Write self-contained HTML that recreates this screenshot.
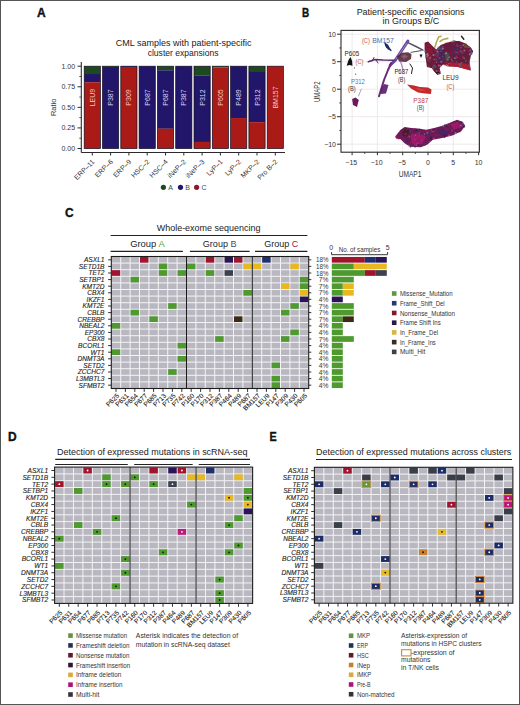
<!DOCTYPE html><html><head><meta charset="utf-8"><style>html,body{margin:0;padding:0;background:#fff;}svg{display:block;font-family:"Liberation Sans",sans-serif;}</style></head><body><svg width="520" height="705" viewBox="0 0 520 705"><rect x="0" y="0" width="520" height="705" fill="#fff"/><text x="37.00" y="16.90" font-size="12" fill="#111" font-weight="bold" stroke="#111" stroke-width="0.35">A</text>
<text x="302.00" y="16.80" font-size="12" fill="#111" font-weight="bold" textLength="7.20" lengthAdjust="spacingAndGlyphs" stroke="#111" stroke-width="0.35">B</text>
<text x="65.00" y="216.50" font-size="12" fill="#111" font-weight="bold" stroke="#111" stroke-width="0.35">C</text>
<text x="8.00" y="440.50" font-size="12" fill="#111" font-weight="bold" stroke="#111" stroke-width="0.35">D</text>
<text x="269.60" y="440.70" font-size="12" fill="#111" font-weight="bold" textLength="7.20" lengthAdjust="spacingAndGlyphs" stroke="#111" stroke-width="0.35">E</text>
<text x="115.80" y="45.80" font-size="9" fill="#222" textLength="135.60" lengthAdjust="spacingAndGlyphs">CML samples with patient-specific</text>
<text x="147.70" y="55.60" font-size="9" fill="#222" textLength="70.80" lengthAdjust="spacingAndGlyphs">cluster expansions</text>
<line x1="81.30" y1="62.00" x2="81.30" y2="152.50" stroke="#2b2b2b" stroke-width="1.1"/>
<line x1="81.30" y1="152.50" x2="285.00" y2="152.50" stroke="#2b2b2b" stroke-width="1.1"/>
<line x1="77.50" y1="148.50" x2="81.30" y2="148.50" stroke="#2b2b2b" stroke-width="1"/>
<text x="75.10" y="150.90" font-size="7" fill="#333" text-anchor="end">0.00</text>
<line x1="77.50" y1="127.92" x2="81.30" y2="127.92" stroke="#2b2b2b" stroke-width="1"/>
<text x="75.10" y="130.32" font-size="7" fill="#333" text-anchor="end">0.25</text>
<line x1="77.50" y1="107.35" x2="81.30" y2="107.35" stroke="#2b2b2b" stroke-width="1"/>
<text x="75.10" y="109.75" font-size="7" fill="#333" text-anchor="end">0.50</text>
<line x1="77.50" y1="86.78" x2="81.30" y2="86.78" stroke="#2b2b2b" stroke-width="1"/>
<text x="75.10" y="89.18" font-size="7" fill="#333" text-anchor="end">0.75</text>
<line x1="77.50" y1="66.20" x2="81.30" y2="66.20" stroke="#2b2b2b" stroke-width="1"/>
<text x="75.10" y="68.60" font-size="7" fill="#333" text-anchor="end">1.00</text>
<line x1="79.30" y1="138.21" x2="81.30" y2="138.21" stroke="#2b2b2b" stroke-width="0.8"/>
<line x1="79.30" y1="117.64" x2="81.30" y2="117.64" stroke="#2b2b2b" stroke-width="0.8"/>
<line x1="79.30" y1="97.06" x2="81.30" y2="97.06" stroke="#2b2b2b" stroke-width="0.8"/>
<line x1="79.30" y1="76.49" x2="81.30" y2="76.49" stroke="#2b2b2b" stroke-width="0.8"/>
<text x="55.80" y="107.30" font-size="7.5" fill="#333" text-anchor="middle" transform="rotate(-90 55.80 107.30)">Ratio</text>
<rect x="84.20" y="66.20" width="16.20" height="7.87" fill="#1e4a20"/>
<rect x="84.20" y="74.02" width="16.20" height="8.28" fill="#21166a"/>
<rect x="84.20" y="82.25" width="16.20" height="66.30" fill="#aa1a17"/>
<rect x="84.20" y="66.20" width="16.20" height="82.30" fill="none" stroke="#140c20" stroke-width="0.7"/>
<text x="94.80" y="97.50" font-size="7" fill="#f3c9c9" text-anchor="middle" transform="rotate(-90 94.80 97.50)">LEU9</text>
<line x1="92.30" y1="152.50" x2="92.30" y2="155.50" stroke="#2b2b2b" stroke-width="1"/>
<text x="95.10" y="162.30" font-size="7" fill="#333" text-anchor="end" transform="rotate(-45 95.10 162.30)">ERP–11</text>
<rect x="102.50" y="66.20" width="16.20" height="0.87" fill="#1e4a20"/>
<rect x="102.50" y="67.02" width="16.20" height="81.53" fill="#21166a"/>
<rect x="102.50" y="66.20" width="16.20" height="82.30" fill="none" stroke="#140c20" stroke-width="0.7"/>
<text x="113.10" y="97.50" font-size="7" fill="#d8d6f0" text-anchor="middle" transform="rotate(-90 113.10 97.50)">P387</text>
<line x1="110.60" y1="152.50" x2="110.60" y2="155.50" stroke="#2b2b2b" stroke-width="1"/>
<text x="113.40" y="162.30" font-size="7" fill="#333" text-anchor="end" transform="rotate(-45 113.40 162.30)">ERP–6</text>
<rect x="120.80" y="66.20" width="16.20" height="0.87" fill="#21166a"/>
<rect x="120.80" y="67.02" width="16.20" height="81.53" fill="#aa1a17"/>
<rect x="120.80" y="66.20" width="16.20" height="82.30" fill="none" stroke="#140c20" stroke-width="0.7"/>
<text x="131.40" y="97.50" font-size="7" fill="#f3c9c9" text-anchor="middle" transform="rotate(-90 131.40 97.50)">P309</text>
<line x1="128.90" y1="152.50" x2="128.90" y2="155.50" stroke="#2b2b2b" stroke-width="1"/>
<text x="131.70" y="162.30" font-size="7" fill="#333" text-anchor="end" transform="rotate(-45 131.70 162.30)">ERP–9</text>
<rect x="139.10" y="66.20" width="16.20" height="82.35" fill="#21166a"/>
<rect x="139.10" y="66.20" width="16.20" height="82.30" fill="none" stroke="#140c20" stroke-width="0.7"/>
<text x="149.70" y="97.50" font-size="7" fill="#d8d6f0" text-anchor="middle" transform="rotate(-90 149.70 97.50)">P687</text>
<line x1="147.20" y1="152.50" x2="147.20" y2="155.50" stroke="#2b2b2b" stroke-width="1"/>
<text x="150.00" y="162.30" font-size="7" fill="#333" text-anchor="end" transform="rotate(-45 150.00 162.30)">HSC–2</text>
<rect x="157.40" y="66.20" width="16.20" height="4.17" fill="#1e4a20"/>
<rect x="157.40" y="70.31" width="16.20" height="58.48" fill="#21166a"/>
<rect x="157.40" y="128.75" width="16.20" height="19.80" fill="#aa1a17"/>
<rect x="157.40" y="66.20" width="16.20" height="82.30" fill="none" stroke="#140c20" stroke-width="0.7"/>
<text x="168.00" y="97.50" font-size="7" fill="#d8d6f0" text-anchor="middle" transform="rotate(-90 168.00 97.50)">P687</text>
<line x1="165.50" y1="152.50" x2="165.50" y2="155.50" stroke="#2b2b2b" stroke-width="1"/>
<text x="168.30" y="162.30" font-size="7" fill="#333" text-anchor="end" transform="rotate(-45 168.30 162.30)">HSC–4</text>
<rect x="175.70" y="66.20" width="16.20" height="82.35" fill="#21166a"/>
<rect x="175.70" y="66.20" width="16.20" height="82.30" fill="none" stroke="#140c20" stroke-width="0.7"/>
<text x="186.30" y="97.50" font-size="7" fill="#d8d6f0" text-anchor="middle" transform="rotate(-90 186.30 97.50)">P387</text>
<line x1="183.80" y1="152.50" x2="183.80" y2="155.50" stroke="#2b2b2b" stroke-width="1"/>
<text x="186.60" y="162.30" font-size="7" fill="#333" text-anchor="end" transform="rotate(-45 186.60 162.30)">iNeP–2</text>
<rect x="194.00" y="66.20" width="16.20" height="9.51" fill="#1e4a20"/>
<rect x="194.00" y="75.66" width="16.20" height="66.30" fill="#21166a"/>
<rect x="194.00" y="141.92" width="16.20" height="6.63" fill="#aa1a17"/>
<rect x="194.00" y="66.20" width="16.20" height="82.30" fill="none" stroke="#140c20" stroke-width="0.7"/>
<text x="204.60" y="97.50" font-size="7" fill="#d8d6f0" text-anchor="middle" transform="rotate(-90 204.60 97.50)">P312</text>
<line x1="202.10" y1="152.50" x2="202.10" y2="155.50" stroke="#2b2b2b" stroke-width="1"/>
<text x="204.90" y="162.30" font-size="7" fill="#333" text-anchor="end" transform="rotate(-45 204.90 162.30)">iNeP–3</text>
<rect x="212.30" y="66.20" width="16.20" height="1.28" fill="#1e4a20"/>
<rect x="212.30" y="67.43" width="16.20" height="81.12" fill="#aa1a17"/>
<rect x="212.30" y="66.20" width="16.20" height="82.30" fill="none" stroke="#140c20" stroke-width="0.7"/>
<text x="222.90" y="97.50" font-size="7" fill="#f3c9c9" text-anchor="middle" transform="rotate(-90 222.90 97.50)">P605</text>
<line x1="220.40" y1="152.50" x2="220.40" y2="155.50" stroke="#2b2b2b" stroke-width="1"/>
<text x="223.20" y="162.30" font-size="7" fill="#333" text-anchor="end" transform="rotate(-45 223.20 162.30)">LyP–1</text>
<rect x="230.60" y="66.20" width="16.20" height="51.90" fill="#21166a"/>
<rect x="230.60" y="118.05" width="16.20" height="30.50" fill="#aa1a17"/>
<rect x="230.60" y="66.20" width="16.20" height="82.30" fill="none" stroke="#140c20" stroke-width="0.7"/>
<text x="241.20" y="97.50" font-size="7" fill="#d8d6f0" text-anchor="middle" transform="rotate(-90 241.20 97.50)">P489</text>
<line x1="238.70" y1="152.50" x2="238.70" y2="155.50" stroke="#2b2b2b" stroke-width="1"/>
<text x="241.50" y="162.30" font-size="7" fill="#333" text-anchor="end" transform="rotate(-45 241.50 162.30)">LyP–2</text>
<rect x="248.90" y="66.20" width="16.20" height="5.81" fill="#1e4a20"/>
<rect x="248.90" y="71.96" width="16.20" height="50.25" fill="#21166a"/>
<rect x="248.90" y="122.16" width="16.20" height="26.39" fill="#aa1a17"/>
<rect x="248.90" y="66.20" width="16.20" height="82.30" fill="none" stroke="#140c20" stroke-width="0.7"/>
<text x="259.50" y="97.50" font-size="7" fill="#d8d6f0" text-anchor="middle" transform="rotate(-90 259.50 97.50)">P312</text>
<line x1="257.00" y1="152.50" x2="257.00" y2="155.50" stroke="#2b2b2b" stroke-width="1"/>
<text x="259.80" y="162.30" font-size="7" fill="#333" text-anchor="end" transform="rotate(-45 259.80 162.30)">MKP–2</text>
<rect x="267.20" y="66.20" width="16.20" height="82.35" fill="#aa1a17"/>
<rect x="267.20" y="66.20" width="16.20" height="82.30" fill="none" stroke="#140c20" stroke-width="0.7"/>
<text x="277.80" y="97.50" font-size="7" fill="#f3c9c9" text-anchor="middle" transform="rotate(-90 277.80 97.50)">BM157</text>
<line x1="275.30" y1="152.50" x2="275.30" y2="155.50" stroke="#2b2b2b" stroke-width="1"/>
<text x="278.10" y="162.30" font-size="7" fill="#333" text-anchor="end" transform="rotate(-45 278.10 162.30)">Pro B–2</text>
<circle cx="163.4" cy="187.3" r="2.6" fill="#1e4a20"/>
<text x="168.20" y="190.00" font-size="7" fill="#444">A</text>
<circle cx="180.5" cy="187.3" r="2.6" fill="#21166a"/>
<text x="185.30" y="190.00" font-size="7" fill="#444">B</text>
<circle cx="196.6" cy="187.3" r="2.6" fill="#8b1a2a"/>
<text x="201.40" y="190.00" font-size="7" fill="#444">C</text>
<text x="356.70" y="14.80" font-size="9" fill="#222" textLength="107.80" lengthAdjust="spacingAndGlyphs">Patient-specific expansions</text>
<text x="382.60" y="24.30" font-size="9" fill="#222" textLength="56.60" lengthAdjust="spacingAndGlyphs">in Groups B/C</text>
<line x1="352.10" y1="30.40" x2="352.10" y2="152.20" stroke="#ebe3e7" stroke-width="0.8"/>
<line x1="377.40" y1="30.40" x2="377.40" y2="152.20" stroke="#ebe3e7" stroke-width="0.8"/>
<line x1="402.70" y1="30.40" x2="402.70" y2="152.20" stroke="#ebe3e7" stroke-width="0.8"/>
<line x1="428.00" y1="30.40" x2="428.00" y2="152.20" stroke="#ebe3e7" stroke-width="0.8"/>
<line x1="453.30" y1="30.40" x2="453.30" y2="152.20" stroke="#ebe3e7" stroke-width="0.8"/>
<line x1="478.60" y1="30.40" x2="478.60" y2="152.20" stroke="#ebe3e7" stroke-width="0.8"/>
<line x1="341.00" y1="144.20" x2="479.40" y2="144.20" stroke="#ebe3e7" stroke-width="0.8"/>
<line x1="341.00" y1="116.70" x2="479.40" y2="116.70" stroke="#ebe3e7" stroke-width="0.8"/>
<line x1="341.00" y1="89.20" x2="479.40" y2="89.20" stroke="#ebe3e7" stroke-width="0.8"/>
<line x1="341.00" y1="61.70" x2="479.40" y2="61.70" stroke="#ebe3e7" stroke-width="0.8"/>
<line x1="341.00" y1="34.20" x2="479.40" y2="34.20" stroke="#ebe3e7" stroke-width="0.8"/>
<path d="M424.6,42.7 L428.1,41.5 L431.5,45.0 L436.1,49.6 L440.8,45.0 L446.5,42.7 L453.4,41.0 L459.2,41.0 L465.0,43.3 L470.7,47.3 L473.0,51.3 L470.7,56.5 L469.6,62.3 L470.7,70.4 L466.1,69.2 L458.1,66.9 L448.8,66.3 L443.1,64.6 L439.6,68.1 L440.8,73.8 L437.3,75.0 L431.5,68.1 L426.9,66.9 L425.8,58.8 L424.6,49.6 Z" fill="#6a1a3a" fill-opacity="1"/>
<path d="M443.1,64.6 L448.8,66.3 L458.1,66.9 L466.1,69.2 L470.7,70.4 L469.8,64.0 L460.0,63.0 L450.0,62.5 Z" fill="#b81e34" fill-opacity="0.85"/>
<path d="M436.0,52.0 L442.0,49.0 L446.0,53.0 L446.0,61.0 L440.0,63.0 L436.0,59.0 Z" fill="#3c2a66" fill-opacity="0.6"/>
<path d="M445.4,52.0 L448.8,53.0 L448.8,60.0 L445.4,59.0 Z" fill="#3a7a4a" fill-opacity="0.6"/>
<path d="M452.0,48.0 L460.0,47.0 L462.0,54.0 L456.0,58.0 L450.0,55.0 Z" fill="#4a2a6a" fill-opacity="0.45"/>
<path d="M463.8,43.8 L468.4,46.0 L468.0,48.5 L464.0,47.5 Z" fill="#3a7a3c" fill-opacity="0.7"/>
<path d="M470.7,49.6 L473.0,50.5 L472.5,53.0 L470.5,52.5 Z" fill="#5a4aa0" fill-opacity="0.8"/>
<path d="M425.5,45.0 L430.0,44.0 L433.0,52.0 L431.0,62.0 L427.0,62.0 Z" fill="#9a1830" fill-opacity="0.7"/>
<path d="M437.0,70.0 L440.5,73.0 L437.5,74.5 L433.0,70.0 Z" fill="#3a1010" fill-opacity="0.8"/>
<circle cx="435.9" cy="59.6" r="1.1" fill="#7a3a7a" fill-opacity="0.7"/>
<circle cx="447.7" cy="60.9" r="1.1" fill="#4a2a70" fill-opacity="0.7"/>
<circle cx="447.5" cy="59.8" r="1.2" fill="#5a8a5a" fill-opacity="0.7"/>
<circle cx="447.8" cy="63.0" r="0.7" fill="#2a2a3a" fill-opacity="0.7"/>
<circle cx="462.9" cy="45.7" r="0.7" fill="#4a2a70" fill-opacity="0.7"/>
<circle cx="447.6" cy="65.9" r="1.0" fill="#9a9ab4" fill-opacity="0.7"/>
<circle cx="470.1" cy="54.2" r="1.2" fill="#a08aa8" fill-opacity="0.7"/>
<circle cx="430.7" cy="53.2" r="0.6" fill="#4a2a70" fill-opacity="0.7"/>
<circle cx="445.8" cy="62.6" r="0.8" fill="#c02040" fill-opacity="0.7"/>
<circle cx="465.7" cy="60.7" r="0.9" fill="#4a6a8a" fill-opacity="0.7"/>
<circle cx="457.6" cy="45.9" r="1.2" fill="#7a3a7a" fill-opacity="0.7"/>
<circle cx="469.2" cy="60.5" r="0.9" fill="#5a8a5a" fill-opacity="0.7"/>
<circle cx="430.2" cy="57.4" r="0.6" fill="#a08aa8" fill-opacity="0.7"/>
<circle cx="464.0" cy="54.8" r="0.5" fill="#2a2a3a" fill-opacity="0.7"/>
<circle cx="445.4" cy="54.9" r="0.5" fill="#9a1a3a" fill-opacity="0.7"/>
<circle cx="454.7" cy="41.6" r="0.9" fill="#7a3a7a" fill-opacity="0.7"/>
<circle cx="470.1" cy="50.0" r="1.2" fill="#5a8a5a" fill-opacity="0.7"/>
<circle cx="454.0" cy="41.1" r="1.2" fill="#5a8a5a" fill-opacity="0.7"/>
<circle cx="438.6" cy="49.5" r="1.2" fill="#4a2a70" fill-opacity="0.7"/>
<circle cx="441.0" cy="53.0" r="1.1" fill="#2a2a3a" fill-opacity="0.7"/>
<circle cx="442.9" cy="56.6" r="0.8" fill="#4a6a8a" fill-opacity="0.7"/>
<circle cx="467.3" cy="64.5" r="0.9" fill="#9a1a3a" fill-opacity="0.7"/>
<circle cx="435.9" cy="50.8" r="0.9" fill="#c02040" fill-opacity="0.7"/>
<circle cx="444.8" cy="60.9" r="0.8" fill="#4a2a70" fill-opacity="0.7"/>
<circle cx="453.5" cy="44.8" r="0.8" fill="#7a3a7a" fill-opacity="0.7"/>
<circle cx="458.0" cy="52.7" r="1.0" fill="#c02040" fill-opacity="0.7"/>
<circle cx="436.6" cy="56.4" r="0.6" fill="#7a3a7a" fill-opacity="0.7"/>
<circle cx="433.3" cy="67.3" r="0.7" fill="#c02040" fill-opacity="0.7"/>
<circle cx="460.8" cy="51.2" r="1.0" fill="#5a8a5a" fill-opacity="0.7"/>
<circle cx="437.5" cy="51.8" r="1.0" fill="#9a9ab4" fill-opacity="0.7"/>
<circle cx="428.9" cy="61.6" r="1.0" fill="#7a3a7a" fill-opacity="0.7"/>
<circle cx="435.2" cy="69.2" r="0.6" fill="#2a2a3a" fill-opacity="0.7"/>
<circle cx="461.1" cy="47.8" r="0.7" fill="#a08aa8" fill-opacity="0.7"/>
<circle cx="471.9" cy="51.3" r="1.1" fill="#2a2a3a" fill-opacity="0.7"/>
<circle cx="428.3" cy="62.3" r="0.8" fill="#2a2a3a" fill-opacity="0.7"/>
<circle cx="447.2" cy="62.8" r="0.8" fill="#c02040" fill-opacity="0.7"/>
<circle cx="435.1" cy="66.8" r="1.2" fill="#4a6a8a" fill-opacity="0.7"/>
<circle cx="464.1" cy="58.4" r="1.1" fill="#5a8a5a" fill-opacity="0.7"/>
<circle cx="469.0" cy="60.8" r="0.8" fill="#4a2a70" fill-opacity="0.7"/>
<circle cx="430.0" cy="58.1" r="1.0" fill="#5a8a5a" fill-opacity="0.7"/>
<circle cx="450.2" cy="54.9" r="0.7" fill="#9a1a3a" fill-opacity="0.7"/>
<circle cx="436.6" cy="71.0" r="1.1" fill="#a08aa8" fill-opacity="0.7"/>
<circle cx="427.1" cy="47.9" r="0.9" fill="#9a1a3a" fill-opacity="0.7"/>
<circle cx="464.8" cy="46.2" r="1.1" fill="#c02040" fill-opacity="0.7"/>
<circle cx="437.6" cy="49.7" r="0.9" fill="#4a6a8a" fill-opacity="0.7"/>
<circle cx="426.5" cy="51.6" r="1.1" fill="#4a2a70" fill-opacity="0.7"/>
<circle cx="426.5" cy="57.4" r="1.1" fill="#4a2a70" fill-opacity="0.7"/>
<circle cx="428.3" cy="58.1" r="0.6" fill="#7a3a7a" fill-opacity="0.7"/>
<circle cx="427.6" cy="53.9" r="0.9" fill="#9a9ab4" fill-opacity="0.7"/>
<circle cx="442.0" cy="46.9" r="0.8" fill="#7a3a7a" fill-opacity="0.7"/>
<circle cx="452.3" cy="41.5" r="0.9" fill="#a08aa8" fill-opacity="0.7"/>
<circle cx="463.1" cy="53.7" r="0.9" fill="#4a2a70" fill-opacity="0.7"/>
<circle cx="445.6" cy="53.4" r="1.0" fill="#a08aa8" fill-opacity="0.7"/>
<circle cx="434.9" cy="49.7" r="1.1" fill="#9a1a3a" fill-opacity="0.7"/>
<circle cx="425.4" cy="51.7" r="1.1" fill="#4a6a8a" fill-opacity="0.7"/>
<circle cx="437.1" cy="56.7" r="1.2" fill="#9a1a3a" fill-opacity="0.7"/>
<circle cx="450.5" cy="53.6" r="1.0" fill="#9a1a3a" fill-opacity="0.7"/>
<circle cx="452.2" cy="43.7" r="0.8" fill="#4a2a70" fill-opacity="0.7"/>
<circle cx="435.8" cy="54.0" r="0.6" fill="#4a6a8a" fill-opacity="0.7"/>
<circle cx="466.1" cy="44.4" r="1.0" fill="#9a1a3a" fill-opacity="0.7"/>
<circle cx="449.6" cy="65.7" r="0.9" fill="#9a1a3a" fill-opacity="0.7"/>
<circle cx="429.0" cy="59.9" r="0.7" fill="#4a6a8a" fill-opacity="0.7"/>
<circle cx="436.5" cy="62.2" r="0.7" fill="#9a9ab4" fill-opacity="0.7"/>
<circle cx="442.8" cy="48.5" r="1.1" fill="#9a9ab4" fill-opacity="0.7"/>
<circle cx="452.4" cy="60.9" r="1.0" fill="#4a6a8a" fill-opacity="0.7"/>
<circle cx="431.8" cy="54.4" r="0.6" fill="#2a2a3a" fill-opacity="0.7"/>
<circle cx="448.9" cy="57.4" r="1.2" fill="#4a6a8a" fill-opacity="0.7"/>
<circle cx="430.8" cy="67.1" r="0.9" fill="#2a2a3a" fill-opacity="0.7"/>
<circle cx="439.7" cy="48.4" r="1.2" fill="#4a6a8a" fill-opacity="0.7"/>
<circle cx="438.8" cy="65.4" r="0.9" fill="#9a9ab4" fill-opacity="0.7"/>
<circle cx="468.5" cy="51.1" r="0.8" fill="#c02040" fill-opacity="0.7"/>
<circle cx="443.1" cy="46.2" r="0.7" fill="#7a3a7a" fill-opacity="0.7"/>
<circle cx="444.9" cy="65.1" r="0.8" fill="#5a8a5a" fill-opacity="0.7"/>
<circle cx="451.9" cy="57.3" r="1.1" fill="#9a1a3a" fill-opacity="0.7"/>
<circle cx="459.9" cy="64.3" r="1.1" fill="#5a8a5a" fill-opacity="0.7"/>
<circle cx="469.0" cy="49.2" r="0.7" fill="#4a2a70" fill-opacity="0.7"/>
<circle cx="428.3" cy="43.3" r="0.5" fill="#c02040" fill-opacity="0.7"/>
<circle cx="440.6" cy="53.7" r="0.6" fill="#9a1a3a" fill-opacity="0.7"/>
<circle cx="443.5" cy="59.6" r="1.1" fill="#9a1a3a" fill-opacity="0.7"/>
<circle cx="427.8" cy="55.6" r="1.1" fill="#a08aa8" fill-opacity="0.7"/>
<circle cx="471.1" cy="53.5" r="1.0" fill="#7a3a7a" fill-opacity="0.7"/>
<circle cx="438.8" cy="64.3" r="0.6" fill="#c02040" fill-opacity="0.7"/>
<circle cx="471.2" cy="52.2" r="0.9" fill="#4a6a8a" fill-opacity="0.7"/>
<circle cx="457.3" cy="58.3" r="1.0" fill="#4a2a70" fill-opacity="0.7"/>
<circle cx="457.9" cy="60.4" r="1.0" fill="#2a2a3a" fill-opacity="0.7"/>
<circle cx="460.5" cy="45.4" r="1.1" fill="#7a3a7a" fill-opacity="0.7"/>
<circle cx="456.8" cy="44.4" r="0.6" fill="#4a6a8a" fill-opacity="0.7"/>
<circle cx="440.6" cy="65.9" r="0.9" fill="#9a9ab4" fill-opacity="0.7"/>
<circle cx="456.4" cy="56.5" r="1.0" fill="#c02040" fill-opacity="0.7"/>
<circle cx="459.3" cy="43.9" r="1.0" fill="#2a2a3a" fill-opacity="0.7"/>
<circle cx="442.0" cy="49.6" r="0.5" fill="#9a9ab4" fill-opacity="0.7"/>
<circle cx="430.8" cy="57.2" r="0.7" fill="#c02040" fill-opacity="0.7"/>
<circle cx="462.4" cy="52.7" r="1.2" fill="#7a3a7a" fill-opacity="0.7"/>
<circle cx="427.5" cy="57.9" r="0.6" fill="#9a1a3a" fill-opacity="0.7"/>
<circle cx="453.5" cy="64.5" r="0.6" fill="#9a1a3a" fill-opacity="0.7"/>
<circle cx="433.5" cy="55.0" r="1.1" fill="#9a9ab4" fill-opacity="0.7"/>
<circle cx="461.4" cy="61.3" r="1.1" fill="#2a2a3a" fill-opacity="0.7"/>
<circle cx="463.9" cy="59.6" r="0.9" fill="#2a2a3a" fill-opacity="0.7"/>
<circle cx="434.1" cy="49.0" r="0.5" fill="#c02040" fill-opacity="0.7"/>
<circle cx="471.5" cy="53.8" r="1.1" fill="#4a6a8a" fill-opacity="0.7"/>
<circle cx="439.5" cy="57.9" r="1.0" fill="#4a6a8a" fill-opacity="0.7"/>
<circle cx="439.0" cy="71.0" r="0.5" fill="#a08aa8" fill-opacity="0.7"/>
<circle cx="433.5" cy="62.8" r="1.0" fill="#9a1a3a" fill-opacity="0.7"/>
<circle cx="457.1" cy="57.7" r="0.9" fill="#4a6a8a" fill-opacity="0.7"/>
<circle cx="433.9" cy="68.2" r="0.5" fill="#5a8a5a" fill-opacity="0.7"/>
<circle cx="449.0" cy="63.3" r="0.6" fill="#a08aa8" fill-opacity="0.7"/>
<circle cx="438.2" cy="63.7" r="0.6" fill="#2a2a3a" fill-opacity="0.7"/>
<circle cx="463.6" cy="62.4" r="0.5" fill="#4a2a70" fill-opacity="0.7"/>
<circle cx="454.9" cy="58.2" r="0.9" fill="#a08aa8" fill-opacity="0.7"/>
<circle cx="470.5" cy="51.6" r="1.0" fill="#7a3a7a" fill-opacity="0.7"/>
<circle cx="459.8" cy="66.6" r="1.2" fill="#7a3a7a" fill-opacity="0.7"/>
<circle cx="434.0" cy="65.2" r="0.8" fill="#5a8a5a" fill-opacity="0.7"/>
<circle cx="427.9" cy="47.2" r="0.8" fill="#2a2a3a" fill-opacity="0.7"/>
<circle cx="447.7" cy="42.4" r="0.6" fill="#9a9ab4" fill-opacity="0.7"/>
<circle cx="446.9" cy="64.9" r="0.6" fill="#a08aa8" fill-opacity="0.7"/>
<circle cx="469.0" cy="65.9" r="1.1" fill="#7a3a7a" fill-opacity="0.7"/>
<circle cx="446.4" cy="53.0" r="0.7" fill="#9a9ab4" fill-opacity="0.7"/>
<circle cx="463.2" cy="45.2" r="0.9" fill="#a08aa8" fill-opacity="0.7"/>
<circle cx="453.2" cy="58.1" r="0.6" fill="#4a2a70" fill-opacity="0.7"/>
<circle cx="454.4" cy="55.9" r="0.5" fill="#2a2a3a" fill-opacity="0.7"/>
<circle cx="426.6" cy="54.5" r="0.8" fill="#9a9ab4" fill-opacity="0.7"/>
<circle cx="436.1" cy="54.0" r="0.6" fill="#5a8a5a" fill-opacity="0.7"/>
<circle cx="455.1" cy="52.5" r="0.9" fill="#9a1a3a" fill-opacity="0.7"/>
<circle cx="464.4" cy="50.5" r="1.1" fill="#a08aa8" fill-opacity="0.7"/>
<circle cx="445.8" cy="43.2" r="0.6" fill="#4a2a70" fill-opacity="0.7"/>
<circle cx="449.2" cy="57.3" r="1.0" fill="#5a8a5a" fill-opacity="0.7"/>
<circle cx="469.0" cy="47.2" r="0.7" fill="#a08aa8" fill-opacity="0.7"/>
<circle cx="447.9" cy="52.7" r="0.8" fill="#4a2a70" fill-opacity="0.7"/>
<circle cx="461.6" cy="62.7" r="0.6" fill="#9a9ab4" fill-opacity="0.7"/>
<circle cx="438.7" cy="70.6" r="0.9" fill="#9a1a3a" fill-opacity="0.7"/>
<circle cx="451.4" cy="59.3" r="0.6" fill="#9a9ab4" fill-opacity="0.7"/>
<circle cx="461.0" cy="66.4" r="0.8" fill="#4a6a8a" fill-opacity="0.7"/>
<circle cx="433.2" cy="68.9" r="0.7" fill="#a08aa8" fill-opacity="0.7"/>
<circle cx="463.0" cy="57.3" r="1.1" fill="#c02040" fill-opacity="0.7"/>
<circle cx="469.8" cy="65.1" r="0.5" fill="#a08aa8" fill-opacity="0.7"/>
<circle cx="432.6" cy="67.1" r="0.6" fill="#a08aa8" fill-opacity="0.7"/>
<circle cx="458.6" cy="63.8" r="0.7" fill="#7a3a7a" fill-opacity="0.7"/>
<circle cx="466.2" cy="63.1" r="0.8" fill="#4a2a70" fill-opacity="0.7"/>
<circle cx="468.8" cy="66.4" r="1.2" fill="#7a3a7a" fill-opacity="0.7"/>
<circle cx="440.9" cy="51.2" r="0.6" fill="#a08aa8" fill-opacity="0.7"/>
<circle cx="456.5" cy="48.7" r="1.2" fill="#4a2a70" fill-opacity="0.7"/>
<circle cx="438.4" cy="47.5" r="0.9" fill="#4a6a8a" fill-opacity="0.7"/>
<circle cx="439.9" cy="71.8" r="0.8" fill="#5a8a5a" fill-opacity="0.7"/>
<circle cx="455.1" cy="41.5" r="0.9" fill="#9a1a3a" fill-opacity="0.7"/>
<circle cx="471.2" cy="49.2" r="0.8" fill="#9a1a3a" fill-opacity="0.7"/>
<circle cx="435.1" cy="69.9" r="0.9" fill="#9a1a3a" fill-opacity="0.7"/>
<circle cx="441.3" cy="61.7" r="1.0" fill="#a08aa8" fill-opacity="0.7"/>
<circle cx="438.6" cy="74.0" r="1.1" fill="#a08aa8" fill-opacity="0.7"/>
<circle cx="434.3" cy="59.4" r="0.7" fill="#a08aa8" fill-opacity="0.7"/>
<circle cx="456.1" cy="52.3" r="0.8" fill="#5a8a5a" fill-opacity="0.7"/>
<circle cx="427.6" cy="59.9" r="0.8" fill="#7a3a7a" fill-opacity="0.7"/>
<circle cx="456.4" cy="61.8" r="0.7" fill="#5a8a5a" fill-opacity="0.7"/>
<circle cx="435.8" cy="55.8" r="0.7" fill="#c02040" fill-opacity="0.7"/>
<circle cx="470.0" cy="50.5" r="0.6" fill="#4a2a70" fill-opacity="0.7"/>
<circle cx="428.8" cy="66.0" r="0.9" fill="#c02040" fill-opacity="0.7"/>
<circle cx="427.1" cy="57.0" r="1.0" fill="#5a8a5a" fill-opacity="0.7"/>
<circle cx="437.8" cy="55.6" r="0.8" fill="#7a3a7a" fill-opacity="0.7"/>
<circle cx="433.8" cy="68.2" r="0.6" fill="#2a2a3a" fill-opacity="0.7"/>
<circle cx="439.0" cy="54.8" r="0.6" fill="#9a1a3a" fill-opacity="0.7"/>
<circle cx="438.2" cy="53.5" r="1.2" fill="#7a3a7a" fill-opacity="0.7"/>
<path d="M434.8,47.3 L436.5,42.0 L438.7,36.7 L441.1,36.3" fill="none" stroke="#b4aa52" stroke-width="1.6" stroke-opacity="1" stroke-linecap="round" stroke-linejoin="round"/>
<path d="M440.0,41.5 L443.0,39.5 L447.8,38.4" fill="none" stroke="#b4aa52" stroke-width="1.6" stroke-opacity="1" stroke-linecap="round" stroke-linejoin="round"/>
<path d="M461.5,36.3 L463.8,39.2" fill="none" stroke="#222" stroke-width="1.4" stroke-opacity="1" stroke-linecap="round" stroke-linejoin="round"/>
<path d="M407.9,41.1 L400.6,52.3 L395.4,60.1 L390.2,65.3" fill="none" stroke="#6848a0" stroke-width="3.0" stroke-opacity="1" stroke-linecap="round" stroke-linejoin="round"/>
<path d="M407.0,43.0 L400.6,52.3 L396.0,59.0" fill="none" stroke="#a890d0" stroke-width="1.0" stroke-opacity="0.8" stroke-linecap="round" stroke-linejoin="round"/>
<path d="M408.4,42.8 L416.0,46.5 L423.0,50.1" fill="none" stroke="#505060" stroke-width="1.4" stroke-opacity="1" stroke-linecap="round" stroke-linejoin="round"/>
<path d="M411.0,52.3 L416.0,51.5 L421.3,50.6" fill="none" stroke="#505060" stroke-width="1.0" stroke-opacity="1" stroke-linecap="round" stroke-linejoin="round"/>
<path d="M368.3,61.7 L375.0,59.5 L383.0,60.0 L393.8,60.3" fill="none" stroke="#5a2a6a" stroke-width="1.5" stroke-opacity="1" stroke-linecap="round" stroke-linejoin="round"/>
<path d="M372.0,61.0 L374.0,57.5" fill="none" stroke="#5a2a6a" stroke-width="1.0" stroke-opacity="1" stroke-linecap="round" stroke-linejoin="round"/>
<path d="M376.0,60.0 L378.0,63.0" fill="none" stroke="#5a2a6a" stroke-width="1.0" stroke-opacity="1" stroke-linecap="round" stroke-linejoin="round"/>
<path d="M397.0,56.5 L402.0,52.8 L408.0,52.3 L411.5,54.0 L411.0,59.0 L406.0,62.0 L399.0,61.5 Z" fill="#4e1a2c" fill-opacity="0.85"/>
<path d="M401.0,56.0 L405.0,54.5 L408.0,56.5 L404.0,59.0 Z" fill="#9a8a9a" fill-opacity="0.5"/>
<path d="M391.2,63.0 L388.0,70.0 L384.0,80.0 L379.0,96.2" fill="none" stroke="#6a2a7a" stroke-width="2.0" stroke-opacity="1" stroke-linecap="round" stroke-linejoin="round"/>
<path d="M380.4,90.0 L384.0,84.0 L388.5,85.0 L386.0,93.5 L381.0,94.0 Z" fill="#5a1a6a" fill-opacity="0.9"/>
<path d="M410.0,64.0 L412.5,68.0 L411.5,73.5" fill="none" stroke="#222" stroke-width="1.0" stroke-opacity="1" stroke-linecap="round" stroke-linejoin="round"/>
<path d="M419.5,54.5 L422.5,54.5 L421.0,58.0 Z" fill="#111" fill-opacity="1"/>
<path d="M384.4,42.8 L388.0,44.5 L391.2,50.9 L388.0,49.5 L386.0,47.5 L385.0,45.5 Z" fill="#1c2f6a" fill-opacity="1"/>
<path d="M385.0,43.0 L388.0,47.0 L391.0,50.5" fill="none" stroke="#1c2f6a" stroke-width="1.2" stroke-opacity="1" stroke-linecap="round" stroke-linejoin="round"/>
<path d="M400.0,60.0 L402.0,66.0 L403.0,70.0" fill="none" stroke="#7a3a8a" stroke-width="1.2" stroke-opacity="0.6" stroke-linecap="round" stroke-linejoin="round"/>
<path d="M346.7,65.7 L348.5,60.0 L350.5,57.0 L352.1,61.0 L352.5,65.7 L349.5,65.0 Z" fill="#111" fill-opacity="1"/>
<circle cx="354.4" cy="67.9" r="0.6" fill="#557"/><circle cx="355.6" cy="74.2" r="0.6" fill="#557"/>
<path d="M352.1,99.0 L355.5,97.5 L358.8,100.0 L357.0,106.9 L353.0,105.0 Z" fill="#6a1a5a" fill-opacity="1"/>
<path d="M361.3,89.2 L358.5,96.0" fill="none" stroke="#8a7aa0" stroke-width="0.7" stroke-opacity="1" stroke-linecap="round" stroke-linejoin="round"/>
<path d="M407.0,84.5 L414.0,85.5 L420.0,87.0 L428.0,87.5 L431.5,89.5 L431.0,94.0 L425.0,93.5 L418.0,92.5 L411.0,88.5 Z" fill="#c42a2a" fill-opacity="1"/>
<path d="M415.0,88.0 L421.0,88.5 L426.0,90.5 L420.0,91.0 Z" fill="#e05050" fill-opacity="0.6"/>
<path d="M395.2,136.5 L400.6,129.8 L404.6,127.1 L411.3,127.9 L418.1,128.5 L426.2,129.8 L434.2,127.9 L442.3,125.8 L450.4,122.5 L457.1,119.8 L462.5,121.7 L465.2,125.8 L461.2,131.2 L453.1,135.2 L442.3,137.9 L432.9,139.8 L427.5,144.6 L420.8,147.3 L410.0,146.8 L404.6,143.3 L400.6,139.2 L396.5,138.7 Z" fill="#6c1b56" fill-opacity="1"/>
<path d="M402.0,131.0 L406.0,128.0 L410.0,131.0 L407.0,137.0 L403.0,136.0 Z" fill="#4a1a1a" fill-opacity="0.8"/>
<path d="M410.0,134.0 L420.0,133.0 L426.0,137.0 L422.0,144.0 L412.0,144.0 Z" fill="#b01870" fill-opacity="0.75"/>
<path d="M436.0,131.0 L446.0,128.0 L450.0,133.0 L442.0,136.0 Z" fill="#3a2a6a" fill-opacity="0.7"/>
<path d="M450.0,124.0 L458.0,122.0 L461.0,127.0 L454.0,130.0 Z" fill="#b01870" fill-opacity="0.75"/>
<circle cx="410.8" cy="146.7" r="0.7" fill="#c02060" fill-opacity="0.7"/>
<circle cx="452.3" cy="127.6" r="1.1" fill="#5a2a7a" fill-opacity="0.7"/>
<circle cx="451.3" cy="129.3" r="1.1" fill="#3a3a4a" fill-opacity="0.7"/>
<circle cx="452.0" cy="131.1" r="0.7" fill="#c02060" fill-opacity="0.7"/>
<circle cx="449.1" cy="135.3" r="0.9" fill="#8a8ab0" fill-opacity="0.7"/>
<circle cx="454.7" cy="131.0" r="0.8" fill="#3a3a4a" fill-opacity="0.7"/>
<circle cx="396.2" cy="137.6" r="0.8" fill="#c8207a" fill-opacity="0.7"/>
<circle cx="424.4" cy="134.0" r="0.7" fill="#8a8ab0" fill-opacity="0.7"/>
<circle cx="454.1" cy="121.9" r="0.8" fill="#3a3a4a" fill-opacity="0.7"/>
<circle cx="415.1" cy="134.4" r="0.6" fill="#3a3a4a" fill-opacity="0.7"/>
<circle cx="411.4" cy="132.3" r="0.5" fill="#c02060" fill-opacity="0.7"/>
<circle cx="435.8" cy="134.9" r="0.6" fill="#c8207a" fill-opacity="0.7"/>
<circle cx="414.0" cy="131.6" r="0.7" fill="#2a2050" fill-opacity="0.7"/>
<circle cx="408.9" cy="145.7" r="0.9" fill="#8a8ab0" fill-opacity="0.7"/>
<circle cx="438.4" cy="135.1" r="0.6" fill="#b01870" fill-opacity="0.7"/>
<circle cx="415.0" cy="146.9" r="0.8" fill="#2a2050" fill-opacity="0.7"/>
<circle cx="415.5" cy="135.2" r="0.6" fill="#8a8ab0" fill-opacity="0.7"/>
<circle cx="463.0" cy="123.2" r="0.9" fill="#8a8ab0" fill-opacity="0.7"/>
<circle cx="428.2" cy="130.5" r="0.6" fill="#b01870" fill-opacity="0.7"/>
<circle cx="433.0" cy="130.1" r="0.8" fill="#2a2050" fill-opacity="0.7"/>
<circle cx="415.9" cy="130.1" r="1.1" fill="#2a2050" fill-opacity="0.7"/>
<circle cx="405.1" cy="132.9" r="0.7" fill="#2a2050" fill-opacity="0.7"/>
<circle cx="444.9" cy="128.1" r="0.9" fill="#b01870" fill-opacity="0.7"/>
<circle cx="426.4" cy="130.8" r="0.8" fill="#c02060" fill-opacity="0.7"/>
<circle cx="409.2" cy="136.2" r="0.7" fill="#8a8ab0" fill-opacity="0.7"/>
<circle cx="417.5" cy="143.4" r="0.5" fill="#8a8ab0" fill-opacity="0.7"/>
<circle cx="457.0" cy="122.3" r="0.6" fill="#b01870" fill-opacity="0.7"/>
<circle cx="403.7" cy="130.7" r="0.8" fill="#3a3a4a" fill-opacity="0.7"/>
<circle cx="433.4" cy="131.8" r="0.9" fill="#8a8ab0" fill-opacity="0.7"/>
<circle cx="410.5" cy="132.2" r="0.9" fill="#3a3a4a" fill-opacity="0.7"/>
<circle cx="419.4" cy="139.0" r="0.7" fill="#3a3a4a" fill-opacity="0.7"/>
<circle cx="464.3" cy="126.8" r="0.9" fill="#2a2050" fill-opacity="0.7"/>
<circle cx="446.7" cy="126.2" r="1.1" fill="#2a2050" fill-opacity="0.7"/>
<circle cx="427.2" cy="132.9" r="1.1" fill="#8a8ab0" fill-opacity="0.7"/>
<circle cx="432.5" cy="131.8" r="0.5" fill="#b01870" fill-opacity="0.7"/>
<circle cx="425.2" cy="143.6" r="0.5" fill="#c02060" fill-opacity="0.7"/>
<circle cx="455.7" cy="130.1" r="0.7" fill="#2a2050" fill-opacity="0.7"/>
<circle cx="410.2" cy="134.9" r="0.8" fill="#2a2050" fill-opacity="0.7"/>
<circle cx="430.9" cy="130.6" r="1.0" fill="#3a3a4a" fill-opacity="0.7"/>
<circle cx="409.8" cy="131.6" r="0.5" fill="#5a2a7a" fill-opacity="0.7"/>
<circle cx="459.8" cy="131.8" r="0.8" fill="#2a2050" fill-opacity="0.7"/>
<circle cx="460.9" cy="125.5" r="1.0" fill="#8a8ab0" fill-opacity="0.7"/>
<circle cx="454.1" cy="124.3" r="0.6" fill="#c02060" fill-opacity="0.7"/>
<circle cx="409.5" cy="137.4" r="0.8" fill="#c02060" fill-opacity="0.7"/>
<circle cx="426.4" cy="140.9" r="0.5" fill="#3a3a4a" fill-opacity="0.7"/>
<circle cx="425.0" cy="144.9" r="0.9" fill="#3a3a4a" fill-opacity="0.7"/>
<circle cx="457.6" cy="125.6" r="0.6" fill="#3a3a4a" fill-opacity="0.7"/>
<circle cx="411.5" cy="132.6" r="0.7" fill="#2a2050" fill-opacity="0.7"/>
<circle cx="416.2" cy="145.1" r="0.8" fill="#8a8ab0" fill-opacity="0.7"/>
<circle cx="420.9" cy="134.0" r="1.0" fill="#3a3a4a" fill-opacity="0.7"/>
<circle cx="447.4" cy="124.9" r="0.9" fill="#b01870" fill-opacity="0.7"/>
<circle cx="417.4" cy="140.9" r="0.8" fill="#3a3a4a" fill-opacity="0.7"/>
<circle cx="422.3" cy="143.7" r="0.6" fill="#b01870" fill-opacity="0.7"/>
<circle cx="415.2" cy="129.0" r="0.9" fill="#b01870" fill-opacity="0.7"/>
<circle cx="410.6" cy="131.8" r="0.6" fill="#8a8ab0" fill-opacity="0.7"/>
<circle cx="444.7" cy="125.2" r="0.9" fill="#3a3a4a" fill-opacity="0.7"/>
<circle cx="407.5" cy="140.8" r="0.9" fill="#2a2050" fill-opacity="0.7"/>
<circle cx="416.4" cy="129.9" r="1.0" fill="#2a2050" fill-opacity="0.7"/>
<circle cx="456.0" cy="133.2" r="0.7" fill="#8a8ab0" fill-opacity="0.7"/>
<circle cx="410.8" cy="142.7" r="0.7" fill="#c8207a" fill-opacity="0.7"/>
<circle cx="407.7" cy="139.8" r="1.0" fill="#3a3a4a" fill-opacity="0.7"/>
<circle cx="405.2" cy="128.3" r="0.8" fill="#3a3a4a" fill-opacity="0.7"/>
<circle cx="455.4" cy="132.9" r="1.0" fill="#8a8ab0" fill-opacity="0.7"/>
<circle cx="426.7" cy="133.3" r="1.0" fill="#3a3a4a" fill-opacity="0.7"/>
<circle cx="449.0" cy="135.0" r="0.9" fill="#c02060" fill-opacity="0.7"/>
<circle cx="443.1" cy="127.4" r="1.1" fill="#3a3a4a" fill-opacity="0.7"/>
<circle cx="419.9" cy="132.9" r="0.6" fill="#8a8ab0" fill-opacity="0.7"/>
<circle cx="444.5" cy="135.3" r="0.9" fill="#2a2050" fill-opacity="0.7"/>
<circle cx="433.4" cy="132.5" r="0.8" fill="#2a2050" fill-opacity="0.7"/>
<circle cx="421.0" cy="140.0" r="0.9" fill="#c8207a" fill-opacity="0.7"/>
<circle cx="406.8" cy="138.3" r="0.6" fill="#2a2050" fill-opacity="0.7"/>
<circle cx="461.8" cy="122.4" r="0.8" fill="#2a2050" fill-opacity="0.7"/>
<circle cx="463.3" cy="124.4" r="0.9" fill="#5a2a7a" fill-opacity="0.7"/>
<circle cx="419.7" cy="129.0" r="0.6" fill="#2a2050" fill-opacity="0.7"/>
<circle cx="411.0" cy="132.3" r="0.7" fill="#2a2050" fill-opacity="0.7"/>
<circle cx="449.1" cy="123.8" r="0.7" fill="#c8207a" fill-opacity="0.7"/>
<circle cx="431.1" cy="129.8" r="0.9" fill="#c8207a" fill-opacity="0.7"/>
<circle cx="430.8" cy="138.9" r="1.1" fill="#2a2050" fill-opacity="0.7"/>
<circle cx="414.3" cy="145.1" r="0.5" fill="#8a8ab0" fill-opacity="0.7"/>
<circle cx="407.1" cy="137.6" r="1.0" fill="#5a2a7a" fill-opacity="0.7"/>
<circle cx="404.3" cy="140.1" r="1.0" fill="#5a2a7a" fill-opacity="0.7"/>
<circle cx="446.6" cy="129.8" r="0.9" fill="#b01870" fill-opacity="0.7"/>
<circle cx="410.4" cy="146.7" r="0.8" fill="#2a2050" fill-opacity="0.7"/>
<circle cx="433.6" cy="138.4" r="0.7" fill="#8a8ab0" fill-opacity="0.7"/>
<circle cx="444.5" cy="137.2" r="0.9" fill="#2a2050" fill-opacity="0.7"/>
<circle cx="434.3" cy="138.2" r="0.7" fill="#c8207a" fill-opacity="0.7"/>
<circle cx="415.0" cy="139.3" r="0.5" fill="#8a8ab0" fill-opacity="0.7"/>
<circle cx="418.9" cy="140.1" r="0.6" fill="#3a3a4a" fill-opacity="0.7"/>
<circle cx="452.0" cy="130.3" r="1.1" fill="#c8207a" fill-opacity="0.7"/>
<circle cx="406.2" cy="130.4" r="0.7" fill="#2a2050" fill-opacity="0.7"/>
<circle cx="435.7" cy="134.8" r="0.7" fill="#5a2a7a" fill-opacity="0.7"/>
<circle cx="432.0" cy="131.4" r="1.0" fill="#c02060" fill-opacity="0.7"/>
<circle cx="407.6" cy="132.1" r="0.7" fill="#2a2050" fill-opacity="0.7"/>
<circle cx="405.5" cy="134.1" r="1.1" fill="#c02060" fill-opacity="0.7"/>
<circle cx="406.9" cy="129.6" r="0.6" fill="#c02060" fill-opacity="0.7"/>
<circle cx="430.5" cy="132.9" r="0.9" fill="#5a2a7a" fill-opacity="0.7"/>
<circle cx="396.6" cy="137.0" r="0.9" fill="#b01870" fill-opacity="0.7"/>
<circle cx="398.4" cy="138.6" r="1.0" fill="#c02060" fill-opacity="0.7"/>
<circle cx="429.9" cy="141.6" r="0.7" fill="#8a8ab0" fill-opacity="0.7"/>
<circle cx="435.0" cy="130.8" r="0.6" fill="#b01870" fill-opacity="0.7"/>
<circle cx="443.3" cy="125.9" r="0.9" fill="#8a8ab0" fill-opacity="0.7"/>
<circle cx="431.1" cy="137.3" r="1.1" fill="#2a2050" fill-opacity="0.7"/>
<circle cx="416.4" cy="143.8" r="0.8" fill="#b01870" fill-opacity="0.7"/>
<circle cx="420.7" cy="133.5" r="0.8" fill="#2a2050" fill-opacity="0.7"/>
<circle cx="445.5" cy="135.3" r="0.8" fill="#2a2050" fill-opacity="0.7"/>
<circle cx="419.4" cy="146.2" r="0.7" fill="#3a3a4a" fill-opacity="0.7"/>
<text x="362.00" y="42.60" font-size="7.2" fill="#c0503a" textLength="7.80" lengthAdjust="spacingAndGlyphs">(C)</text>
<text x="372.30" y="42.60" font-size="7.2" fill="#4a6aaa" textLength="21.60" lengthAdjust="spacingAndGlyphs">BM157</text>
<text x="344.60" y="56.30" font-size="7.2" fill="#222" textLength="14.50" lengthAdjust="spacingAndGlyphs">P605</text>
<text x="355.60" y="64.20" font-size="7.2" fill="#c0503a" textLength="7.80" lengthAdjust="spacingAndGlyphs">(C)</text>
<text x="351.00" y="83.60" font-size="7.2" fill="#4a7ab8" textLength="13.80" lengthAdjust="spacingAndGlyphs">P312</text>
<text x="348.00" y="90.90" font-size="7.2" fill="#333" textLength="7.60" lengthAdjust="spacingAndGlyphs">(B)</text>
<text x="394.40" y="73.60" font-size="7.2" fill="#222" textLength="13.90" lengthAdjust="spacingAndGlyphs">P687</text>
<text x="398.00" y="81.90" font-size="7.2" fill="#333" textLength="7.20" lengthAdjust="spacingAndGlyphs">(B)</text>
<text x="442.40" y="80.40" font-size="7.2" fill="#333" textLength="16.20" lengthAdjust="spacingAndGlyphs">LEU9</text>
<text x="446.50" y="88.50" font-size="7.2" fill="#c0503a" textLength="7.80" lengthAdjust="spacingAndGlyphs">(C)</text>
<text x="413.30" y="102.70" font-size="7.2" fill="#c0403a" textLength="15.10" lengthAdjust="spacingAndGlyphs">P387</text>
<text x="416.80" y="110.00" font-size="7.2" fill="#3a4a8a" textLength="7.40" lengthAdjust="spacingAndGlyphs">(B)</text>
<rect x="341" y="30.4" width="138.39999999999998" height="121.79999999999998" fill="none" stroke="#2b2b2b" stroke-width="1.1"/>
<line x1="337.00" y1="144.20" x2="341.00" y2="144.20" stroke="#2b2b2b" stroke-width="1"/>
<text x="336.00" y="146.70" font-size="7" fill="#333" text-anchor="end">−10</text>
<line x1="337.00" y1="116.70" x2="341.00" y2="116.70" stroke="#2b2b2b" stroke-width="1"/>
<text x="336.00" y="119.20" font-size="7" fill="#333" text-anchor="end">−5</text>
<line x1="337.00" y1="89.20" x2="341.00" y2="89.20" stroke="#2b2b2b" stroke-width="1"/>
<text x="336.00" y="91.70" font-size="7" fill="#333" text-anchor="end">0</text>
<line x1="337.00" y1="61.70" x2="341.00" y2="61.70" stroke="#2b2b2b" stroke-width="1"/>
<text x="336.00" y="64.20" font-size="7" fill="#333" text-anchor="end">5</text>
<line x1="337.00" y1="34.20" x2="341.00" y2="34.20" stroke="#2b2b2b" stroke-width="1"/>
<text x="336.00" y="36.70" font-size="7" fill="#333" text-anchor="end">10</text>
<line x1="352.10" y1="152.20" x2="352.10" y2="155.20" stroke="#2b2b2b" stroke-width="1"/>
<text x="351.30" y="165.00" font-size="7" fill="#333" text-anchor="middle">−15</text>
<line x1="377.40" y1="152.20" x2="377.40" y2="155.20" stroke="#2b2b2b" stroke-width="1"/>
<text x="376.60" y="165.00" font-size="7" fill="#333" text-anchor="middle">−10</text>
<line x1="402.70" y1="152.20" x2="402.70" y2="155.20" stroke="#2b2b2b" stroke-width="1"/>
<text x="401.90" y="165.00" font-size="7" fill="#333" text-anchor="middle">−5</text>
<line x1="428.00" y1="152.20" x2="428.00" y2="155.20" stroke="#2b2b2b" stroke-width="1"/>
<text x="428.00" y="165.00" font-size="7" fill="#333" text-anchor="middle">0</text>
<line x1="453.30" y1="152.20" x2="453.30" y2="155.20" stroke="#2b2b2b" stroke-width="1"/>
<text x="453.30" y="165.00" font-size="7" fill="#333" text-anchor="middle">5</text>
<line x1="478.60" y1="152.20" x2="478.60" y2="155.20" stroke="#2b2b2b" stroke-width="1"/>
<text x="478.60" y="165.00" font-size="7" fill="#333" text-anchor="middle">10</text>
<line x1="364.75" y1="152.20" x2="364.75" y2="154.00" stroke="#2b2b2b" stroke-width="0.8"/>
<line x1="390.05" y1="152.20" x2="390.05" y2="154.00" stroke="#2b2b2b" stroke-width="0.8"/>
<line x1="415.35" y1="152.20" x2="415.35" y2="154.00" stroke="#2b2b2b" stroke-width="0.8"/>
<line x1="440.65" y1="152.20" x2="440.65" y2="154.00" stroke="#2b2b2b" stroke-width="0.8"/>
<line x1="465.95" y1="152.20" x2="465.95" y2="154.00" stroke="#2b2b2b" stroke-width="0.8"/>
<line x1="339.20" y1="130.45" x2="341.00" y2="130.45" stroke="#2b2b2b" stroke-width="0.8"/>
<line x1="339.20" y1="102.95" x2="341.00" y2="102.95" stroke="#2b2b2b" stroke-width="0.8"/>
<line x1="339.20" y1="75.45" x2="341.00" y2="75.45" stroke="#2b2b2b" stroke-width="0.8"/>
<line x1="339.20" y1="47.95" x2="341.00" y2="47.95" stroke="#2b2b2b" stroke-width="0.8"/>
<text x="410.00" y="177.00" font-size="8.5" fill="#333" text-anchor="middle" textLength="22.70" lengthAdjust="spacingAndGlyphs">UMAP1</text>
<text x="320.30" y="91.70" font-size="8.5" fill="#333" text-anchor="middle" textLength="20.80" lengthAdjust="spacingAndGlyphs" transform="rotate(-90 320.30 91.70)">UMAP2</text>
<text x="156.70" y="230.90" font-size="9" fill="#222" textLength="103.80" lengthAdjust="spacingAndGlyphs">Whole-exome sequencing</text>
<line x1="110.60" y1="235.50" x2="307.40" y2="235.50" stroke="#222" stroke-width="1.2"/>
<text x="130.20" y="246.7" font-size="9" fill="#222" textLength="34.5" lengthAdjust="spacingAndGlyphs">Group <tspan fill="#5aa13a">A</tspan></text>
<line x1="110.60" y1="251.40" x2="182.90" y2="251.40" stroke="#222" stroke-width="1.2"/>
<text x="202.80" y="246.7" font-size="9" fill="#222" textLength="33.7" lengthAdjust="spacingAndGlyphs">Group <tspan fill="#3a4a8a">B</tspan></text>
<line x1="189.90" y1="251.40" x2="249.60" y2="251.40" stroke="#222" stroke-width="1.2"/>
<text x="264.20" y="246.7" font-size="9" fill="#222" textLength="34" lengthAdjust="spacingAndGlyphs">Group <tspan fill="#a0142e">C</tspan></text>
<line x1="255.00" y1="251.40" x2="307.40" y2="251.40" stroke="#222" stroke-width="1.2"/>
<rect x="111.30" y="256.50" width="197.40" height="132.00" fill="#f4f4f6"/>
<rect x="111.80" y="257.00" width="8.40" height="5.60" fill="#b9b8c1"/>
<rect x="121.20" y="257.00" width="8.40" height="5.60" fill="#b9b8c1"/>
<rect x="130.60" y="257.00" width="8.40" height="5.60" fill="#b9b8c1"/>
<rect x="140.00" y="257.00" width="8.40" height="5.60" fill="#b9b8c1"/>
<rect x="149.40" y="257.00" width="8.40" height="5.60" fill="#b9b8c1"/>
<rect x="158.80" y="257.00" width="8.40" height="5.60" fill="#b9b8c1"/>
<rect x="168.20" y="257.00" width="8.40" height="5.60" fill="#b9b8c1"/>
<rect x="177.60" y="257.00" width="8.40" height="5.60" fill="#b9b8c1"/>
<rect x="187.00" y="257.00" width="8.40" height="5.60" fill="#b9b8c1"/>
<rect x="196.40" y="257.00" width="8.40" height="5.60" fill="#b9b8c1"/>
<rect x="205.80" y="257.00" width="8.40" height="5.60" fill="#b9b8c1"/>
<rect x="215.20" y="257.00" width="8.40" height="5.60" fill="#b9b8c1"/>
<rect x="224.60" y="257.00" width="8.40" height="5.60" fill="#b9b8c1"/>
<rect x="234.00" y="257.00" width="8.40" height="5.60" fill="#b9b8c1"/>
<rect x="243.40" y="257.00" width="8.40" height="5.60" fill="#b9b8c1"/>
<rect x="252.80" y="257.00" width="8.40" height="5.60" fill="#b9b8c1"/>
<rect x="262.20" y="257.00" width="8.40" height="5.60" fill="#b9b8c1"/>
<rect x="271.60" y="257.00" width="8.40" height="5.60" fill="#b9b8c1"/>
<rect x="281.00" y="257.00" width="8.40" height="5.60" fill="#b9b8c1"/>
<rect x="290.40" y="257.00" width="8.40" height="5.60" fill="#b9b8c1"/>
<rect x="299.80" y="257.00" width="8.40" height="5.60" fill="#b9b8c1"/>
<rect x="111.80" y="263.60" width="8.40" height="5.60" fill="#b9b8c1"/>
<rect x="121.20" y="263.60" width="8.40" height="5.60" fill="#b9b8c1"/>
<rect x="130.60" y="263.60" width="8.40" height="5.60" fill="#b9b8c1"/>
<rect x="140.00" y="263.60" width="8.40" height="5.60" fill="#b9b8c1"/>
<rect x="149.40" y="263.60" width="8.40" height="5.60" fill="#b9b8c1"/>
<rect x="158.80" y="263.60" width="8.40" height="5.60" fill="#b9b8c1"/>
<rect x="168.20" y="263.60" width="8.40" height="5.60" fill="#b9b8c1"/>
<rect x="177.60" y="263.60" width="8.40" height="5.60" fill="#b9b8c1"/>
<rect x="187.00" y="263.60" width="8.40" height="5.60" fill="#b9b8c1"/>
<rect x="196.40" y="263.60" width="8.40" height="5.60" fill="#b9b8c1"/>
<rect x="205.80" y="263.60" width="8.40" height="5.60" fill="#b9b8c1"/>
<rect x="215.20" y="263.60" width="8.40" height="5.60" fill="#b9b8c1"/>
<rect x="224.60" y="263.60" width="8.40" height="5.60" fill="#b9b8c1"/>
<rect x="234.00" y="263.60" width="8.40" height="5.60" fill="#b9b8c1"/>
<rect x="243.40" y="263.60" width="8.40" height="5.60" fill="#b9b8c1"/>
<rect x="252.80" y="263.60" width="8.40" height="5.60" fill="#b9b8c1"/>
<rect x="262.20" y="263.60" width="8.40" height="5.60" fill="#b9b8c1"/>
<rect x="271.60" y="263.60" width="8.40" height="5.60" fill="#b9b8c1"/>
<rect x="281.00" y="263.60" width="8.40" height="5.60" fill="#b9b8c1"/>
<rect x="290.40" y="263.60" width="8.40" height="5.60" fill="#b9b8c1"/>
<rect x="299.80" y="263.60" width="8.40" height="5.60" fill="#b9b8c1"/>
<rect x="111.80" y="270.20" width="8.40" height="5.60" fill="#b9b8c1"/>
<rect x="121.20" y="270.20" width="8.40" height="5.60" fill="#b9b8c1"/>
<rect x="130.60" y="270.20" width="8.40" height="5.60" fill="#b9b8c1"/>
<rect x="140.00" y="270.20" width="8.40" height="5.60" fill="#b9b8c1"/>
<rect x="149.40" y="270.20" width="8.40" height="5.60" fill="#b9b8c1"/>
<rect x="158.80" y="270.20" width="8.40" height="5.60" fill="#b9b8c1"/>
<rect x="168.20" y="270.20" width="8.40" height="5.60" fill="#b9b8c1"/>
<rect x="177.60" y="270.20" width="8.40" height="5.60" fill="#b9b8c1"/>
<rect x="187.00" y="270.20" width="8.40" height="5.60" fill="#b9b8c1"/>
<rect x="196.40" y="270.20" width="8.40" height="5.60" fill="#b9b8c1"/>
<rect x="205.80" y="270.20" width="8.40" height="5.60" fill="#b9b8c1"/>
<rect x="215.20" y="270.20" width="8.40" height="5.60" fill="#b9b8c1"/>
<rect x="224.60" y="270.20" width="8.40" height="5.60" fill="#b9b8c1"/>
<rect x="234.00" y="270.20" width="8.40" height="5.60" fill="#b9b8c1"/>
<rect x="243.40" y="270.20" width="8.40" height="5.60" fill="#b9b8c1"/>
<rect x="252.80" y="270.20" width="8.40" height="5.60" fill="#b9b8c1"/>
<rect x="262.20" y="270.20" width="8.40" height="5.60" fill="#b9b8c1"/>
<rect x="271.60" y="270.20" width="8.40" height="5.60" fill="#b9b8c1"/>
<rect x="281.00" y="270.20" width="8.40" height="5.60" fill="#b9b8c1"/>
<rect x="290.40" y="270.20" width="8.40" height="5.60" fill="#b9b8c1"/>
<rect x="299.80" y="270.20" width="8.40" height="5.60" fill="#b9b8c1"/>
<rect x="111.80" y="276.80" width="8.40" height="5.60" fill="#b9b8c1"/>
<rect x="121.20" y="276.80" width="8.40" height="5.60" fill="#b9b8c1"/>
<rect x="130.60" y="276.80" width="8.40" height="5.60" fill="#b9b8c1"/>
<rect x="140.00" y="276.80" width="8.40" height="5.60" fill="#b9b8c1"/>
<rect x="149.40" y="276.80" width="8.40" height="5.60" fill="#b9b8c1"/>
<rect x="158.80" y="276.80" width="8.40" height="5.60" fill="#b9b8c1"/>
<rect x="168.20" y="276.80" width="8.40" height="5.60" fill="#b9b8c1"/>
<rect x="177.60" y="276.80" width="8.40" height="5.60" fill="#b9b8c1"/>
<rect x="187.00" y="276.80" width="8.40" height="5.60" fill="#b9b8c1"/>
<rect x="196.40" y="276.80" width="8.40" height="5.60" fill="#b9b8c1"/>
<rect x="205.80" y="276.80" width="8.40" height="5.60" fill="#b9b8c1"/>
<rect x="215.20" y="276.80" width="8.40" height="5.60" fill="#b9b8c1"/>
<rect x="224.60" y="276.80" width="8.40" height="5.60" fill="#b9b8c1"/>
<rect x="234.00" y="276.80" width="8.40" height="5.60" fill="#b9b8c1"/>
<rect x="243.40" y="276.80" width="8.40" height="5.60" fill="#b9b8c1"/>
<rect x="252.80" y="276.80" width="8.40" height="5.60" fill="#b9b8c1"/>
<rect x="262.20" y="276.80" width="8.40" height="5.60" fill="#b9b8c1"/>
<rect x="271.60" y="276.80" width="8.40" height="5.60" fill="#b9b8c1"/>
<rect x="281.00" y="276.80" width="8.40" height="5.60" fill="#b9b8c1"/>
<rect x="290.40" y="276.80" width="8.40" height="5.60" fill="#b9b8c1"/>
<rect x="299.80" y="276.80" width="8.40" height="5.60" fill="#b9b8c1"/>
<rect x="111.80" y="283.40" width="8.40" height="5.60" fill="#b9b8c1"/>
<rect x="121.20" y="283.40" width="8.40" height="5.60" fill="#b9b8c1"/>
<rect x="130.60" y="283.40" width="8.40" height="5.60" fill="#b9b8c1"/>
<rect x="140.00" y="283.40" width="8.40" height="5.60" fill="#b9b8c1"/>
<rect x="149.40" y="283.40" width="8.40" height="5.60" fill="#b9b8c1"/>
<rect x="158.80" y="283.40" width="8.40" height="5.60" fill="#b9b8c1"/>
<rect x="168.20" y="283.40" width="8.40" height="5.60" fill="#b9b8c1"/>
<rect x="177.60" y="283.40" width="8.40" height="5.60" fill="#b9b8c1"/>
<rect x="187.00" y="283.40" width="8.40" height="5.60" fill="#b9b8c1"/>
<rect x="196.40" y="283.40" width="8.40" height="5.60" fill="#b9b8c1"/>
<rect x="205.80" y="283.40" width="8.40" height="5.60" fill="#b9b8c1"/>
<rect x="215.20" y="283.40" width="8.40" height="5.60" fill="#b9b8c1"/>
<rect x="224.60" y="283.40" width="8.40" height="5.60" fill="#b9b8c1"/>
<rect x="234.00" y="283.40" width="8.40" height="5.60" fill="#b9b8c1"/>
<rect x="243.40" y="283.40" width="8.40" height="5.60" fill="#b9b8c1"/>
<rect x="252.80" y="283.40" width="8.40" height="5.60" fill="#b9b8c1"/>
<rect x="262.20" y="283.40" width="8.40" height="5.60" fill="#b9b8c1"/>
<rect x="271.60" y="283.40" width="8.40" height="5.60" fill="#b9b8c1"/>
<rect x="281.00" y="283.40" width="8.40" height="5.60" fill="#b9b8c1"/>
<rect x="290.40" y="283.40" width="8.40" height="5.60" fill="#b9b8c1"/>
<rect x="299.80" y="283.40" width="8.40" height="5.60" fill="#b9b8c1"/>
<rect x="111.80" y="290.00" width="8.40" height="5.60" fill="#b9b8c1"/>
<rect x="121.20" y="290.00" width="8.40" height="5.60" fill="#b9b8c1"/>
<rect x="130.60" y="290.00" width="8.40" height="5.60" fill="#b9b8c1"/>
<rect x="140.00" y="290.00" width="8.40" height="5.60" fill="#b9b8c1"/>
<rect x="149.40" y="290.00" width="8.40" height="5.60" fill="#b9b8c1"/>
<rect x="158.80" y="290.00" width="8.40" height="5.60" fill="#b9b8c1"/>
<rect x="168.20" y="290.00" width="8.40" height="5.60" fill="#b9b8c1"/>
<rect x="177.60" y="290.00" width="8.40" height="5.60" fill="#b9b8c1"/>
<rect x="187.00" y="290.00" width="8.40" height="5.60" fill="#b9b8c1"/>
<rect x="196.40" y="290.00" width="8.40" height="5.60" fill="#b9b8c1"/>
<rect x="205.80" y="290.00" width="8.40" height="5.60" fill="#b9b8c1"/>
<rect x="215.20" y="290.00" width="8.40" height="5.60" fill="#b9b8c1"/>
<rect x="224.60" y="290.00" width="8.40" height="5.60" fill="#b9b8c1"/>
<rect x="234.00" y="290.00" width="8.40" height="5.60" fill="#b9b8c1"/>
<rect x="243.40" y="290.00" width="8.40" height="5.60" fill="#b9b8c1"/>
<rect x="252.80" y="290.00" width="8.40" height="5.60" fill="#b9b8c1"/>
<rect x="262.20" y="290.00" width="8.40" height="5.60" fill="#b9b8c1"/>
<rect x="271.60" y="290.00" width="8.40" height="5.60" fill="#b9b8c1"/>
<rect x="281.00" y="290.00" width="8.40" height="5.60" fill="#b9b8c1"/>
<rect x="290.40" y="290.00" width="8.40" height="5.60" fill="#b9b8c1"/>
<rect x="299.80" y="290.00" width="8.40" height="5.60" fill="#b9b8c1"/>
<rect x="111.80" y="296.60" width="8.40" height="5.60" fill="#b9b8c1"/>
<rect x="121.20" y="296.60" width="8.40" height="5.60" fill="#b9b8c1"/>
<rect x="130.60" y="296.60" width="8.40" height="5.60" fill="#b9b8c1"/>
<rect x="140.00" y="296.60" width="8.40" height="5.60" fill="#b9b8c1"/>
<rect x="149.40" y="296.60" width="8.40" height="5.60" fill="#b9b8c1"/>
<rect x="158.80" y="296.60" width="8.40" height="5.60" fill="#b9b8c1"/>
<rect x="168.20" y="296.60" width="8.40" height="5.60" fill="#b9b8c1"/>
<rect x="177.60" y="296.60" width="8.40" height="5.60" fill="#b9b8c1"/>
<rect x="187.00" y="296.60" width="8.40" height="5.60" fill="#b9b8c1"/>
<rect x="196.40" y="296.60" width="8.40" height="5.60" fill="#b9b8c1"/>
<rect x="205.80" y="296.60" width="8.40" height="5.60" fill="#b9b8c1"/>
<rect x="215.20" y="296.60" width="8.40" height="5.60" fill="#b9b8c1"/>
<rect x="224.60" y="296.60" width="8.40" height="5.60" fill="#b9b8c1"/>
<rect x="234.00" y="296.60" width="8.40" height="5.60" fill="#b9b8c1"/>
<rect x="243.40" y="296.60" width="8.40" height="5.60" fill="#b9b8c1"/>
<rect x="252.80" y="296.60" width="8.40" height="5.60" fill="#b9b8c1"/>
<rect x="262.20" y="296.60" width="8.40" height="5.60" fill="#b9b8c1"/>
<rect x="271.60" y="296.60" width="8.40" height="5.60" fill="#b9b8c1"/>
<rect x="281.00" y="296.60" width="8.40" height="5.60" fill="#b9b8c1"/>
<rect x="290.40" y="296.60" width="8.40" height="5.60" fill="#b9b8c1"/>
<rect x="299.80" y="296.60" width="8.40" height="5.60" fill="#b9b8c1"/>
<rect x="111.80" y="303.20" width="8.40" height="5.60" fill="#b9b8c1"/>
<rect x="121.20" y="303.20" width="8.40" height="5.60" fill="#b9b8c1"/>
<rect x="130.60" y="303.20" width="8.40" height="5.60" fill="#b9b8c1"/>
<rect x="140.00" y="303.20" width="8.40" height="5.60" fill="#b9b8c1"/>
<rect x="149.40" y="303.20" width="8.40" height="5.60" fill="#b9b8c1"/>
<rect x="158.80" y="303.20" width="8.40" height="5.60" fill="#b9b8c1"/>
<rect x="168.20" y="303.20" width="8.40" height="5.60" fill="#b9b8c1"/>
<rect x="177.60" y="303.20" width="8.40" height="5.60" fill="#b9b8c1"/>
<rect x="187.00" y="303.20" width="8.40" height="5.60" fill="#b9b8c1"/>
<rect x="196.40" y="303.20" width="8.40" height="5.60" fill="#b9b8c1"/>
<rect x="205.80" y="303.20" width="8.40" height="5.60" fill="#b9b8c1"/>
<rect x="215.20" y="303.20" width="8.40" height="5.60" fill="#b9b8c1"/>
<rect x="224.60" y="303.20" width="8.40" height="5.60" fill="#b9b8c1"/>
<rect x="234.00" y="303.20" width="8.40" height="5.60" fill="#b9b8c1"/>
<rect x="243.40" y="303.20" width="8.40" height="5.60" fill="#b9b8c1"/>
<rect x="252.80" y="303.20" width="8.40" height="5.60" fill="#b9b8c1"/>
<rect x="262.20" y="303.20" width="8.40" height="5.60" fill="#b9b8c1"/>
<rect x="271.60" y="303.20" width="8.40" height="5.60" fill="#b9b8c1"/>
<rect x="281.00" y="303.20" width="8.40" height="5.60" fill="#b9b8c1"/>
<rect x="290.40" y="303.20" width="8.40" height="5.60" fill="#b9b8c1"/>
<rect x="299.80" y="303.20" width="8.40" height="5.60" fill="#b9b8c1"/>
<rect x="111.80" y="309.80" width="8.40" height="5.60" fill="#b9b8c1"/>
<rect x="121.20" y="309.80" width="8.40" height="5.60" fill="#b9b8c1"/>
<rect x="130.60" y="309.80" width="8.40" height="5.60" fill="#b9b8c1"/>
<rect x="140.00" y="309.80" width="8.40" height="5.60" fill="#b9b8c1"/>
<rect x="149.40" y="309.80" width="8.40" height="5.60" fill="#b9b8c1"/>
<rect x="158.80" y="309.80" width="8.40" height="5.60" fill="#b9b8c1"/>
<rect x="168.20" y="309.80" width="8.40" height="5.60" fill="#b9b8c1"/>
<rect x="177.60" y="309.80" width="8.40" height="5.60" fill="#b9b8c1"/>
<rect x="187.00" y="309.80" width="8.40" height="5.60" fill="#b9b8c1"/>
<rect x="196.40" y="309.80" width="8.40" height="5.60" fill="#b9b8c1"/>
<rect x="205.80" y="309.80" width="8.40" height="5.60" fill="#b9b8c1"/>
<rect x="215.20" y="309.80" width="8.40" height="5.60" fill="#b9b8c1"/>
<rect x="224.60" y="309.80" width="8.40" height="5.60" fill="#b9b8c1"/>
<rect x="234.00" y="309.80" width="8.40" height="5.60" fill="#b9b8c1"/>
<rect x="243.40" y="309.80" width="8.40" height="5.60" fill="#b9b8c1"/>
<rect x="252.80" y="309.80" width="8.40" height="5.60" fill="#b9b8c1"/>
<rect x="262.20" y="309.80" width="8.40" height="5.60" fill="#b9b8c1"/>
<rect x="271.60" y="309.80" width="8.40" height="5.60" fill="#b9b8c1"/>
<rect x="281.00" y="309.80" width="8.40" height="5.60" fill="#b9b8c1"/>
<rect x="290.40" y="309.80" width="8.40" height="5.60" fill="#b9b8c1"/>
<rect x="299.80" y="309.80" width="8.40" height="5.60" fill="#b9b8c1"/>
<rect x="111.80" y="316.40" width="8.40" height="5.60" fill="#b9b8c1"/>
<rect x="121.20" y="316.40" width="8.40" height="5.60" fill="#b9b8c1"/>
<rect x="130.60" y="316.40" width="8.40" height="5.60" fill="#b9b8c1"/>
<rect x="140.00" y="316.40" width="8.40" height="5.60" fill="#b9b8c1"/>
<rect x="149.40" y="316.40" width="8.40" height="5.60" fill="#b9b8c1"/>
<rect x="158.80" y="316.40" width="8.40" height="5.60" fill="#b9b8c1"/>
<rect x="168.20" y="316.40" width="8.40" height="5.60" fill="#b9b8c1"/>
<rect x="177.60" y="316.40" width="8.40" height="5.60" fill="#b9b8c1"/>
<rect x="187.00" y="316.40" width="8.40" height="5.60" fill="#b9b8c1"/>
<rect x="196.40" y="316.40" width="8.40" height="5.60" fill="#b9b8c1"/>
<rect x="205.80" y="316.40" width="8.40" height="5.60" fill="#b9b8c1"/>
<rect x="215.20" y="316.40" width="8.40" height="5.60" fill="#b9b8c1"/>
<rect x="224.60" y="316.40" width="8.40" height="5.60" fill="#b9b8c1"/>
<rect x="234.00" y="316.40" width="8.40" height="5.60" fill="#b9b8c1"/>
<rect x="243.40" y="316.40" width="8.40" height="5.60" fill="#b9b8c1"/>
<rect x="252.80" y="316.40" width="8.40" height="5.60" fill="#b9b8c1"/>
<rect x="262.20" y="316.40" width="8.40" height="5.60" fill="#b9b8c1"/>
<rect x="271.60" y="316.40" width="8.40" height="5.60" fill="#b9b8c1"/>
<rect x="281.00" y="316.40" width="8.40" height="5.60" fill="#b9b8c1"/>
<rect x="290.40" y="316.40" width="8.40" height="5.60" fill="#b9b8c1"/>
<rect x="299.80" y="316.40" width="8.40" height="5.60" fill="#b9b8c1"/>
<rect x="111.80" y="323.00" width="8.40" height="5.60" fill="#b9b8c1"/>
<rect x="121.20" y="323.00" width="8.40" height="5.60" fill="#b9b8c1"/>
<rect x="130.60" y="323.00" width="8.40" height="5.60" fill="#b9b8c1"/>
<rect x="140.00" y="323.00" width="8.40" height="5.60" fill="#b9b8c1"/>
<rect x="149.40" y="323.00" width="8.40" height="5.60" fill="#b9b8c1"/>
<rect x="158.80" y="323.00" width="8.40" height="5.60" fill="#b9b8c1"/>
<rect x="168.20" y="323.00" width="8.40" height="5.60" fill="#b9b8c1"/>
<rect x="177.60" y="323.00" width="8.40" height="5.60" fill="#b9b8c1"/>
<rect x="187.00" y="323.00" width="8.40" height="5.60" fill="#b9b8c1"/>
<rect x="196.40" y="323.00" width="8.40" height="5.60" fill="#b9b8c1"/>
<rect x="205.80" y="323.00" width="8.40" height="5.60" fill="#b9b8c1"/>
<rect x="215.20" y="323.00" width="8.40" height="5.60" fill="#b9b8c1"/>
<rect x="224.60" y="323.00" width="8.40" height="5.60" fill="#b9b8c1"/>
<rect x="234.00" y="323.00" width="8.40" height="5.60" fill="#b9b8c1"/>
<rect x="243.40" y="323.00" width="8.40" height="5.60" fill="#b9b8c1"/>
<rect x="252.80" y="323.00" width="8.40" height="5.60" fill="#b9b8c1"/>
<rect x="262.20" y="323.00" width="8.40" height="5.60" fill="#b9b8c1"/>
<rect x="271.60" y="323.00" width="8.40" height="5.60" fill="#b9b8c1"/>
<rect x="281.00" y="323.00" width="8.40" height="5.60" fill="#b9b8c1"/>
<rect x="290.40" y="323.00" width="8.40" height="5.60" fill="#b9b8c1"/>
<rect x="299.80" y="323.00" width="8.40" height="5.60" fill="#b9b8c1"/>
<rect x="111.80" y="329.60" width="8.40" height="5.60" fill="#b9b8c1"/>
<rect x="121.20" y="329.60" width="8.40" height="5.60" fill="#b9b8c1"/>
<rect x="130.60" y="329.60" width="8.40" height="5.60" fill="#b9b8c1"/>
<rect x="140.00" y="329.60" width="8.40" height="5.60" fill="#b9b8c1"/>
<rect x="149.40" y="329.60" width="8.40" height="5.60" fill="#b9b8c1"/>
<rect x="158.80" y="329.60" width="8.40" height="5.60" fill="#b9b8c1"/>
<rect x="168.20" y="329.60" width="8.40" height="5.60" fill="#b9b8c1"/>
<rect x="177.60" y="329.60" width="8.40" height="5.60" fill="#b9b8c1"/>
<rect x="187.00" y="329.60" width="8.40" height="5.60" fill="#b9b8c1"/>
<rect x="196.40" y="329.60" width="8.40" height="5.60" fill="#b9b8c1"/>
<rect x="205.80" y="329.60" width="8.40" height="5.60" fill="#b9b8c1"/>
<rect x="215.20" y="329.60" width="8.40" height="5.60" fill="#b9b8c1"/>
<rect x="224.60" y="329.60" width="8.40" height="5.60" fill="#b9b8c1"/>
<rect x="234.00" y="329.60" width="8.40" height="5.60" fill="#b9b8c1"/>
<rect x="243.40" y="329.60" width="8.40" height="5.60" fill="#b9b8c1"/>
<rect x="252.80" y="329.60" width="8.40" height="5.60" fill="#b9b8c1"/>
<rect x="262.20" y="329.60" width="8.40" height="5.60" fill="#b9b8c1"/>
<rect x="271.60" y="329.60" width="8.40" height="5.60" fill="#b9b8c1"/>
<rect x="281.00" y="329.60" width="8.40" height="5.60" fill="#b9b8c1"/>
<rect x="290.40" y="329.60" width="8.40" height="5.60" fill="#b9b8c1"/>
<rect x="299.80" y="329.60" width="8.40" height="5.60" fill="#b9b8c1"/>
<rect x="111.80" y="336.20" width="8.40" height="5.60" fill="#b9b8c1"/>
<rect x="121.20" y="336.20" width="8.40" height="5.60" fill="#b9b8c1"/>
<rect x="130.60" y="336.20" width="8.40" height="5.60" fill="#b9b8c1"/>
<rect x="140.00" y="336.20" width="8.40" height="5.60" fill="#b9b8c1"/>
<rect x="149.40" y="336.20" width="8.40" height="5.60" fill="#b9b8c1"/>
<rect x="158.80" y="336.20" width="8.40" height="5.60" fill="#b9b8c1"/>
<rect x="168.20" y="336.20" width="8.40" height="5.60" fill="#b9b8c1"/>
<rect x="177.60" y="336.20" width="8.40" height="5.60" fill="#b9b8c1"/>
<rect x="187.00" y="336.20" width="8.40" height="5.60" fill="#b9b8c1"/>
<rect x="196.40" y="336.20" width="8.40" height="5.60" fill="#b9b8c1"/>
<rect x="205.80" y="336.20" width="8.40" height="5.60" fill="#b9b8c1"/>
<rect x="215.20" y="336.20" width="8.40" height="5.60" fill="#b9b8c1"/>
<rect x="224.60" y="336.20" width="8.40" height="5.60" fill="#b9b8c1"/>
<rect x="234.00" y="336.20" width="8.40" height="5.60" fill="#b9b8c1"/>
<rect x="243.40" y="336.20" width="8.40" height="5.60" fill="#b9b8c1"/>
<rect x="252.80" y="336.20" width="8.40" height="5.60" fill="#b9b8c1"/>
<rect x="262.20" y="336.20" width="8.40" height="5.60" fill="#b9b8c1"/>
<rect x="271.60" y="336.20" width="8.40" height="5.60" fill="#b9b8c1"/>
<rect x="281.00" y="336.20" width="8.40" height="5.60" fill="#b9b8c1"/>
<rect x="290.40" y="336.20" width="8.40" height="5.60" fill="#b9b8c1"/>
<rect x="299.80" y="336.20" width="8.40" height="5.60" fill="#b9b8c1"/>
<rect x="111.80" y="342.80" width="8.40" height="5.60" fill="#b9b8c1"/>
<rect x="121.20" y="342.80" width="8.40" height="5.60" fill="#b9b8c1"/>
<rect x="130.60" y="342.80" width="8.40" height="5.60" fill="#b9b8c1"/>
<rect x="140.00" y="342.80" width="8.40" height="5.60" fill="#b9b8c1"/>
<rect x="149.40" y="342.80" width="8.40" height="5.60" fill="#b9b8c1"/>
<rect x="158.80" y="342.80" width="8.40" height="5.60" fill="#b9b8c1"/>
<rect x="168.20" y="342.80" width="8.40" height="5.60" fill="#b9b8c1"/>
<rect x="177.60" y="342.80" width="8.40" height="5.60" fill="#b9b8c1"/>
<rect x="187.00" y="342.80" width="8.40" height="5.60" fill="#b9b8c1"/>
<rect x="196.40" y="342.80" width="8.40" height="5.60" fill="#b9b8c1"/>
<rect x="205.80" y="342.80" width="8.40" height="5.60" fill="#b9b8c1"/>
<rect x="215.20" y="342.80" width="8.40" height="5.60" fill="#b9b8c1"/>
<rect x="224.60" y="342.80" width="8.40" height="5.60" fill="#b9b8c1"/>
<rect x="234.00" y="342.80" width="8.40" height="5.60" fill="#b9b8c1"/>
<rect x="243.40" y="342.80" width="8.40" height="5.60" fill="#b9b8c1"/>
<rect x="252.80" y="342.80" width="8.40" height="5.60" fill="#b9b8c1"/>
<rect x="262.20" y="342.80" width="8.40" height="5.60" fill="#b9b8c1"/>
<rect x="271.60" y="342.80" width="8.40" height="5.60" fill="#b9b8c1"/>
<rect x="281.00" y="342.80" width="8.40" height="5.60" fill="#b9b8c1"/>
<rect x="290.40" y="342.80" width="8.40" height="5.60" fill="#b9b8c1"/>
<rect x="299.80" y="342.80" width="8.40" height="5.60" fill="#b9b8c1"/>
<rect x="111.80" y="349.40" width="8.40" height="5.60" fill="#b9b8c1"/>
<rect x="121.20" y="349.40" width="8.40" height="5.60" fill="#b9b8c1"/>
<rect x="130.60" y="349.40" width="8.40" height="5.60" fill="#b9b8c1"/>
<rect x="140.00" y="349.40" width="8.40" height="5.60" fill="#b9b8c1"/>
<rect x="149.40" y="349.40" width="8.40" height="5.60" fill="#b9b8c1"/>
<rect x="158.80" y="349.40" width="8.40" height="5.60" fill="#b9b8c1"/>
<rect x="168.20" y="349.40" width="8.40" height="5.60" fill="#b9b8c1"/>
<rect x="177.60" y="349.40" width="8.40" height="5.60" fill="#b9b8c1"/>
<rect x="187.00" y="349.40" width="8.40" height="5.60" fill="#b9b8c1"/>
<rect x="196.40" y="349.40" width="8.40" height="5.60" fill="#b9b8c1"/>
<rect x="205.80" y="349.40" width="8.40" height="5.60" fill="#b9b8c1"/>
<rect x="215.20" y="349.40" width="8.40" height="5.60" fill="#b9b8c1"/>
<rect x="224.60" y="349.40" width="8.40" height="5.60" fill="#b9b8c1"/>
<rect x="234.00" y="349.40" width="8.40" height="5.60" fill="#b9b8c1"/>
<rect x="243.40" y="349.40" width="8.40" height="5.60" fill="#b9b8c1"/>
<rect x="252.80" y="349.40" width="8.40" height="5.60" fill="#b9b8c1"/>
<rect x="262.20" y="349.40" width="8.40" height="5.60" fill="#b9b8c1"/>
<rect x="271.60" y="349.40" width="8.40" height="5.60" fill="#b9b8c1"/>
<rect x="281.00" y="349.40" width="8.40" height="5.60" fill="#b9b8c1"/>
<rect x="290.40" y="349.40" width="8.40" height="5.60" fill="#b9b8c1"/>
<rect x="299.80" y="349.40" width="8.40" height="5.60" fill="#b9b8c1"/>
<rect x="111.80" y="356.00" width="8.40" height="5.60" fill="#b9b8c1"/>
<rect x="121.20" y="356.00" width="8.40" height="5.60" fill="#b9b8c1"/>
<rect x="130.60" y="356.00" width="8.40" height="5.60" fill="#b9b8c1"/>
<rect x="140.00" y="356.00" width="8.40" height="5.60" fill="#b9b8c1"/>
<rect x="149.40" y="356.00" width="8.40" height="5.60" fill="#b9b8c1"/>
<rect x="158.80" y="356.00" width="8.40" height="5.60" fill="#b9b8c1"/>
<rect x="168.20" y="356.00" width="8.40" height="5.60" fill="#b9b8c1"/>
<rect x="177.60" y="356.00" width="8.40" height="5.60" fill="#b9b8c1"/>
<rect x="187.00" y="356.00" width="8.40" height="5.60" fill="#b9b8c1"/>
<rect x="196.40" y="356.00" width="8.40" height="5.60" fill="#b9b8c1"/>
<rect x="205.80" y="356.00" width="8.40" height="5.60" fill="#b9b8c1"/>
<rect x="215.20" y="356.00" width="8.40" height="5.60" fill="#b9b8c1"/>
<rect x="224.60" y="356.00" width="8.40" height="5.60" fill="#b9b8c1"/>
<rect x="234.00" y="356.00" width="8.40" height="5.60" fill="#b9b8c1"/>
<rect x="243.40" y="356.00" width="8.40" height="5.60" fill="#b9b8c1"/>
<rect x="252.80" y="356.00" width="8.40" height="5.60" fill="#b9b8c1"/>
<rect x="262.20" y="356.00" width="8.40" height="5.60" fill="#b9b8c1"/>
<rect x="271.60" y="356.00" width="8.40" height="5.60" fill="#b9b8c1"/>
<rect x="281.00" y="356.00" width="8.40" height="5.60" fill="#b9b8c1"/>
<rect x="290.40" y="356.00" width="8.40" height="5.60" fill="#b9b8c1"/>
<rect x="299.80" y="356.00" width="8.40" height="5.60" fill="#b9b8c1"/>
<rect x="111.80" y="362.60" width="8.40" height="5.60" fill="#b9b8c1"/>
<rect x="121.20" y="362.60" width="8.40" height="5.60" fill="#b9b8c1"/>
<rect x="130.60" y="362.60" width="8.40" height="5.60" fill="#b9b8c1"/>
<rect x="140.00" y="362.60" width="8.40" height="5.60" fill="#b9b8c1"/>
<rect x="149.40" y="362.60" width="8.40" height="5.60" fill="#b9b8c1"/>
<rect x="158.80" y="362.60" width="8.40" height="5.60" fill="#b9b8c1"/>
<rect x="168.20" y="362.60" width="8.40" height="5.60" fill="#b9b8c1"/>
<rect x="177.60" y="362.60" width="8.40" height="5.60" fill="#b9b8c1"/>
<rect x="187.00" y="362.60" width="8.40" height="5.60" fill="#b9b8c1"/>
<rect x="196.40" y="362.60" width="8.40" height="5.60" fill="#b9b8c1"/>
<rect x="205.80" y="362.60" width="8.40" height="5.60" fill="#b9b8c1"/>
<rect x="215.20" y="362.60" width="8.40" height="5.60" fill="#b9b8c1"/>
<rect x="224.60" y="362.60" width="8.40" height="5.60" fill="#b9b8c1"/>
<rect x="234.00" y="362.60" width="8.40" height="5.60" fill="#b9b8c1"/>
<rect x="243.40" y="362.60" width="8.40" height="5.60" fill="#b9b8c1"/>
<rect x="252.80" y="362.60" width="8.40" height="5.60" fill="#b9b8c1"/>
<rect x="262.20" y="362.60" width="8.40" height="5.60" fill="#b9b8c1"/>
<rect x="271.60" y="362.60" width="8.40" height="5.60" fill="#b9b8c1"/>
<rect x="281.00" y="362.60" width="8.40" height="5.60" fill="#b9b8c1"/>
<rect x="290.40" y="362.60" width="8.40" height="5.60" fill="#b9b8c1"/>
<rect x="299.80" y="362.60" width="8.40" height="5.60" fill="#b9b8c1"/>
<rect x="111.80" y="369.20" width="8.40" height="5.60" fill="#b9b8c1"/>
<rect x="121.20" y="369.20" width="8.40" height="5.60" fill="#b9b8c1"/>
<rect x="130.60" y="369.20" width="8.40" height="5.60" fill="#b9b8c1"/>
<rect x="140.00" y="369.20" width="8.40" height="5.60" fill="#b9b8c1"/>
<rect x="149.40" y="369.20" width="8.40" height="5.60" fill="#b9b8c1"/>
<rect x="158.80" y="369.20" width="8.40" height="5.60" fill="#b9b8c1"/>
<rect x="168.20" y="369.20" width="8.40" height="5.60" fill="#b9b8c1"/>
<rect x="177.60" y="369.20" width="8.40" height="5.60" fill="#b9b8c1"/>
<rect x="187.00" y="369.20" width="8.40" height="5.60" fill="#b9b8c1"/>
<rect x="196.40" y="369.20" width="8.40" height="5.60" fill="#b9b8c1"/>
<rect x="205.80" y="369.20" width="8.40" height="5.60" fill="#b9b8c1"/>
<rect x="215.20" y="369.20" width="8.40" height="5.60" fill="#b9b8c1"/>
<rect x="224.60" y="369.20" width="8.40" height="5.60" fill="#b9b8c1"/>
<rect x="234.00" y="369.20" width="8.40" height="5.60" fill="#b9b8c1"/>
<rect x="243.40" y="369.20" width="8.40" height="5.60" fill="#b9b8c1"/>
<rect x="252.80" y="369.20" width="8.40" height="5.60" fill="#b9b8c1"/>
<rect x="262.20" y="369.20" width="8.40" height="5.60" fill="#b9b8c1"/>
<rect x="271.60" y="369.20" width="8.40" height="5.60" fill="#b9b8c1"/>
<rect x="281.00" y="369.20" width="8.40" height="5.60" fill="#b9b8c1"/>
<rect x="290.40" y="369.20" width="8.40" height="5.60" fill="#b9b8c1"/>
<rect x="299.80" y="369.20" width="8.40" height="5.60" fill="#b9b8c1"/>
<rect x="111.80" y="375.80" width="8.40" height="5.60" fill="#b9b8c1"/>
<rect x="121.20" y="375.80" width="8.40" height="5.60" fill="#b9b8c1"/>
<rect x="130.60" y="375.80" width="8.40" height="5.60" fill="#b9b8c1"/>
<rect x="140.00" y="375.80" width="8.40" height="5.60" fill="#b9b8c1"/>
<rect x="149.40" y="375.80" width="8.40" height="5.60" fill="#b9b8c1"/>
<rect x="158.80" y="375.80" width="8.40" height="5.60" fill="#b9b8c1"/>
<rect x="168.20" y="375.80" width="8.40" height="5.60" fill="#b9b8c1"/>
<rect x="177.60" y="375.80" width="8.40" height="5.60" fill="#b9b8c1"/>
<rect x="187.00" y="375.80" width="8.40" height="5.60" fill="#b9b8c1"/>
<rect x="196.40" y="375.80" width="8.40" height="5.60" fill="#b9b8c1"/>
<rect x="205.80" y="375.80" width="8.40" height="5.60" fill="#b9b8c1"/>
<rect x="215.20" y="375.80" width="8.40" height="5.60" fill="#b9b8c1"/>
<rect x="224.60" y="375.80" width="8.40" height="5.60" fill="#b9b8c1"/>
<rect x="234.00" y="375.80" width="8.40" height="5.60" fill="#b9b8c1"/>
<rect x="243.40" y="375.80" width="8.40" height="5.60" fill="#b9b8c1"/>
<rect x="252.80" y="375.80" width="8.40" height="5.60" fill="#b9b8c1"/>
<rect x="262.20" y="375.80" width="8.40" height="5.60" fill="#b9b8c1"/>
<rect x="271.60" y="375.80" width="8.40" height="5.60" fill="#b9b8c1"/>
<rect x="281.00" y="375.80" width="8.40" height="5.60" fill="#b9b8c1"/>
<rect x="290.40" y="375.80" width="8.40" height="5.60" fill="#b9b8c1"/>
<rect x="299.80" y="375.80" width="8.40" height="5.60" fill="#b9b8c1"/>
<rect x="111.80" y="382.40" width="8.40" height="5.60" fill="#b9b8c1"/>
<rect x="121.20" y="382.40" width="8.40" height="5.60" fill="#b9b8c1"/>
<rect x="130.60" y="382.40" width="8.40" height="5.60" fill="#b9b8c1"/>
<rect x="140.00" y="382.40" width="8.40" height="5.60" fill="#b9b8c1"/>
<rect x="149.40" y="382.40" width="8.40" height="5.60" fill="#b9b8c1"/>
<rect x="158.80" y="382.40" width="8.40" height="5.60" fill="#b9b8c1"/>
<rect x="168.20" y="382.40" width="8.40" height="5.60" fill="#b9b8c1"/>
<rect x="177.60" y="382.40" width="8.40" height="5.60" fill="#b9b8c1"/>
<rect x="187.00" y="382.40" width="8.40" height="5.60" fill="#b9b8c1"/>
<rect x="196.40" y="382.40" width="8.40" height="5.60" fill="#b9b8c1"/>
<rect x="205.80" y="382.40" width="8.40" height="5.60" fill="#b9b8c1"/>
<rect x="215.20" y="382.40" width="8.40" height="5.60" fill="#b9b8c1"/>
<rect x="224.60" y="382.40" width="8.40" height="5.60" fill="#b9b8c1"/>
<rect x="234.00" y="382.40" width="8.40" height="5.60" fill="#b9b8c1"/>
<rect x="243.40" y="382.40" width="8.40" height="5.60" fill="#b9b8c1"/>
<rect x="252.80" y="382.40" width="8.40" height="5.60" fill="#b9b8c1"/>
<rect x="262.20" y="382.40" width="8.40" height="5.60" fill="#b9b8c1"/>
<rect x="271.60" y="382.40" width="8.40" height="5.60" fill="#b9b8c1"/>
<rect x="281.00" y="382.40" width="8.40" height="5.60" fill="#b9b8c1"/>
<rect x="290.40" y="382.40" width="8.40" height="5.60" fill="#b9b8c1"/>
<rect x="299.80" y="382.40" width="8.40" height="5.60" fill="#b9b8c1"/>
<rect x="140.00" y="257.00" width="8.40" height="5.60" fill="#a0142e"/>
<rect x="205.80" y="257.00" width="8.40" height="5.60" fill="#a0142e"/>
<rect x="224.60" y="257.00" width="8.40" height="5.60" fill="#2a1458"/>
<rect x="234.00" y="257.00" width="8.40" height="5.60" fill="#a0142e"/>
<rect x="262.20" y="257.00" width="8.40" height="5.60" fill="#1f2f6e"/>
<rect x="158.80" y="263.60" width="8.40" height="5.60" fill="#4f9a2f"/>
<rect x="187.00" y="263.60" width="8.40" height="5.60" fill="#4f9a2f"/>
<rect x="243.40" y="263.60" width="8.40" height="5.60" fill="#e8b823"/>
<rect x="252.80" y="263.60" width="8.40" height="5.60" fill="#e8b823"/>
<rect x="290.40" y="263.60" width="8.40" height="5.60" fill="#e8b823"/>
<rect x="111.80" y="270.20" width="8.40" height="5.60" fill="#a0142e"/>
<rect x="158.80" y="270.20" width="8.40" height="5.60" fill="#4f9a2f"/>
<rect x="177.60" y="270.20" width="8.40" height="5.60" fill="#4f9a2f"/>
<rect x="205.80" y="270.20" width="8.40" height="5.60" fill="#4f9a2f"/>
<rect x="224.60" y="270.20" width="8.40" height="5.60" fill="#3c4150"/>
<rect x="130.60" y="276.80" width="8.40" height="5.60" fill="#4f9a2f"/>
<rect x="299.80" y="276.80" width="8.40" height="5.60" fill="#4f9a2f"/>
<rect x="281.00" y="283.40" width="8.40" height="5.60" fill="#e8b823"/>
<rect x="299.80" y="283.40" width="8.40" height="5.60" fill="#4f9a2f"/>
<rect x="243.40" y="290.00" width="8.40" height="5.60" fill="#4f9a2f"/>
<rect x="299.80" y="290.00" width="8.40" height="5.60" fill="#e8b823"/>
<rect x="299.80" y="296.60" width="8.40" height="5.60" fill="#2a1458"/>
<rect x="168.20" y="303.20" width="8.40" height="5.60" fill="#4f9a2f"/>
<rect x="290.40" y="303.20" width="8.40" height="5.60" fill="#4f9a2f"/>
<rect x="130.60" y="309.80" width="8.40" height="5.60" fill="#4f9a2f"/>
<rect x="281.00" y="309.80" width="8.40" height="5.60" fill="#4f9a2f"/>
<rect x="149.40" y="316.40" width="8.40" height="5.60" fill="#4f9a2f"/>
<rect x="234.00" y="316.40" width="8.40" height="5.60" fill="#3d2a12"/>
<rect x="111.80" y="323.00" width="8.40" height="5.60" fill="#4f9a2f"/>
<rect x="290.40" y="329.60" width="8.40" height="5.60" fill="#4f9a2f"/>
<rect x="215.20" y="336.20" width="8.40" height="5.60" fill="#4f9a2f"/>
<rect x="281.00" y="336.20" width="8.40" height="5.60" fill="#4f9a2f"/>
<rect x="177.60" y="342.80" width="8.40" height="5.60" fill="#4f9a2f"/>
<rect x="111.80" y="349.40" width="8.40" height="5.60" fill="#4f9a2f"/>
<rect x="177.60" y="356.00" width="8.40" height="5.60" fill="#4f9a2f"/>
<rect x="271.60" y="362.60" width="8.40" height="5.60" fill="#4f9a2f"/>
<rect x="168.20" y="369.20" width="8.40" height="5.60" fill="#4f9a2f"/>
<rect x="271.60" y="375.80" width="8.40" height="5.60" fill="#4f9a2f"/>
<rect x="271.60" y="382.40" width="8.40" height="5.60" fill="#4f9a2f"/>
<line x1="186.50" y1="256.50" x2="186.50" y2="388.50" stroke="#1c1c1c" stroke-width="1.0"/>
<line x1="252.30" y1="256.50" x2="252.30" y2="388.50" stroke="#1c1c1c" stroke-width="1.0"/>
<rect x="111.30" y="256.50" width="197.40" height="132.00" fill="none" stroke="#1c1c1c" stroke-width="1.1"/>
<line x1="108.10" y1="259.80" x2="111.30" y2="259.80" stroke="#1c1c1c" stroke-width="0.9"/>
<line x1="308.70" y1="259.80" x2="311.30" y2="259.80" stroke="#1c1c1c" stroke-width="0.9"/>
<text x="104.50" y="262.18" font-size="6.6" fill="#1e1e1e" text-anchor="end" font-style="italic" stroke="#1e1e1e" stroke-width="0.12">ASXL1</text>
<line x1="108.10" y1="266.40" x2="111.30" y2="266.40" stroke="#1c1c1c" stroke-width="0.9"/>
<line x1="308.70" y1="266.40" x2="311.30" y2="266.40" stroke="#1c1c1c" stroke-width="0.9"/>
<text x="104.50" y="268.78" font-size="6.6" fill="#1e1e1e" text-anchor="end" font-style="italic" stroke="#1e1e1e" stroke-width="0.12">SETD1B</text>
<line x1="108.10" y1="273.00" x2="111.30" y2="273.00" stroke="#1c1c1c" stroke-width="0.9"/>
<line x1="308.70" y1="273.00" x2="311.30" y2="273.00" stroke="#1c1c1c" stroke-width="0.9"/>
<text x="104.50" y="275.38" font-size="6.6" fill="#1e1e1e" text-anchor="end" font-style="italic" stroke="#1e1e1e" stroke-width="0.12">TET2</text>
<line x1="108.10" y1="279.60" x2="111.30" y2="279.60" stroke="#1c1c1c" stroke-width="0.9"/>
<line x1="308.70" y1="279.60" x2="311.30" y2="279.60" stroke="#1c1c1c" stroke-width="0.9"/>
<text x="104.50" y="281.98" font-size="6.6" fill="#1e1e1e" text-anchor="end" font-style="italic" stroke="#1e1e1e" stroke-width="0.12">SETBP1</text>
<line x1="108.10" y1="286.20" x2="111.30" y2="286.20" stroke="#1c1c1c" stroke-width="0.9"/>
<line x1="308.70" y1="286.20" x2="311.30" y2="286.20" stroke="#1c1c1c" stroke-width="0.9"/>
<text x="104.50" y="288.58" font-size="6.6" fill="#1e1e1e" text-anchor="end" font-style="italic" stroke="#1e1e1e" stroke-width="0.12">KMT2D</text>
<line x1="108.10" y1="292.80" x2="111.30" y2="292.80" stroke="#1c1c1c" stroke-width="0.9"/>
<line x1="308.70" y1="292.80" x2="311.30" y2="292.80" stroke="#1c1c1c" stroke-width="0.9"/>
<text x="104.50" y="295.18" font-size="6.6" fill="#1e1e1e" text-anchor="end" font-style="italic" stroke="#1e1e1e" stroke-width="0.12">CBX4</text>
<line x1="108.10" y1="299.40" x2="111.30" y2="299.40" stroke="#1c1c1c" stroke-width="0.9"/>
<line x1="308.70" y1="299.40" x2="311.30" y2="299.40" stroke="#1c1c1c" stroke-width="0.9"/>
<text x="104.50" y="301.78" font-size="6.6" fill="#1e1e1e" text-anchor="end" font-style="italic" stroke="#1e1e1e" stroke-width="0.12">IKZF1</text>
<line x1="108.10" y1="306.00" x2="111.30" y2="306.00" stroke="#1c1c1c" stroke-width="0.9"/>
<line x1="308.70" y1="306.00" x2="311.30" y2="306.00" stroke="#1c1c1c" stroke-width="0.9"/>
<text x="104.50" y="308.38" font-size="6.6" fill="#1e1e1e" text-anchor="end" font-style="italic" stroke="#1e1e1e" stroke-width="0.12">KMT2E</text>
<line x1="108.10" y1="312.60" x2="111.30" y2="312.60" stroke="#1c1c1c" stroke-width="0.9"/>
<line x1="308.70" y1="312.60" x2="311.30" y2="312.60" stroke="#1c1c1c" stroke-width="0.9"/>
<text x="104.50" y="314.98" font-size="6.6" fill="#1e1e1e" text-anchor="end" font-style="italic" stroke="#1e1e1e" stroke-width="0.12">CBLB</text>
<line x1="108.10" y1="319.20" x2="111.30" y2="319.20" stroke="#1c1c1c" stroke-width="0.9"/>
<line x1="308.70" y1="319.20" x2="311.30" y2="319.20" stroke="#1c1c1c" stroke-width="0.9"/>
<text x="104.50" y="321.58" font-size="6.6" fill="#1e1e1e" text-anchor="end" font-style="italic" stroke="#1e1e1e" stroke-width="0.12">CREBBP</text>
<line x1="108.10" y1="325.80" x2="111.30" y2="325.80" stroke="#1c1c1c" stroke-width="0.9"/>
<line x1="308.70" y1="325.80" x2="311.30" y2="325.80" stroke="#1c1c1c" stroke-width="0.9"/>
<text x="104.50" y="328.18" font-size="6.6" fill="#1e1e1e" text-anchor="end" font-style="italic" stroke="#1e1e1e" stroke-width="0.12">NBEAL2</text>
<line x1="108.10" y1="332.40" x2="111.30" y2="332.40" stroke="#1c1c1c" stroke-width="0.9"/>
<line x1="308.70" y1="332.40" x2="311.30" y2="332.40" stroke="#1c1c1c" stroke-width="0.9"/>
<text x="104.50" y="334.78" font-size="6.6" fill="#1e1e1e" text-anchor="end" font-style="italic" stroke="#1e1e1e" stroke-width="0.12">EP300</text>
<line x1="108.10" y1="339.00" x2="111.30" y2="339.00" stroke="#1c1c1c" stroke-width="0.9"/>
<line x1="308.70" y1="339.00" x2="311.30" y2="339.00" stroke="#1c1c1c" stroke-width="0.9"/>
<text x="104.50" y="341.38" font-size="6.6" fill="#1e1e1e" text-anchor="end" font-style="italic" stroke="#1e1e1e" stroke-width="0.12">CBX8</text>
<line x1="108.10" y1="345.60" x2="111.30" y2="345.60" stroke="#1c1c1c" stroke-width="0.9"/>
<line x1="308.70" y1="345.60" x2="311.30" y2="345.60" stroke="#1c1c1c" stroke-width="0.9"/>
<text x="104.50" y="347.98" font-size="6.6" fill="#1e1e1e" text-anchor="end" font-style="italic" stroke="#1e1e1e" stroke-width="0.12">BCORL1</text>
<line x1="108.10" y1="352.20" x2="111.30" y2="352.20" stroke="#1c1c1c" stroke-width="0.9"/>
<line x1="308.70" y1="352.20" x2="311.30" y2="352.20" stroke="#1c1c1c" stroke-width="0.9"/>
<text x="104.50" y="354.58" font-size="6.6" fill="#1e1e1e" text-anchor="end" font-style="italic" stroke="#1e1e1e" stroke-width="0.12">WT1</text>
<line x1="108.10" y1="358.80" x2="111.30" y2="358.80" stroke="#1c1c1c" stroke-width="0.9"/>
<line x1="308.70" y1="358.80" x2="311.30" y2="358.80" stroke="#1c1c1c" stroke-width="0.9"/>
<text x="104.50" y="361.18" font-size="6.6" fill="#1e1e1e" text-anchor="end" font-style="italic" stroke="#1e1e1e" stroke-width="0.12">DNMT3A</text>
<line x1="108.10" y1="365.40" x2="111.30" y2="365.40" stroke="#1c1c1c" stroke-width="0.9"/>
<line x1="308.70" y1="365.40" x2="311.30" y2="365.40" stroke="#1c1c1c" stroke-width="0.9"/>
<text x="104.50" y="367.78" font-size="6.6" fill="#1e1e1e" text-anchor="end" font-style="italic" stroke="#1e1e1e" stroke-width="0.12">SETD2</text>
<line x1="108.10" y1="372.00" x2="111.30" y2="372.00" stroke="#1c1c1c" stroke-width="0.9"/>
<line x1="308.70" y1="372.00" x2="311.30" y2="372.00" stroke="#1c1c1c" stroke-width="0.9"/>
<text x="104.50" y="374.38" font-size="6.6" fill="#1e1e1e" text-anchor="end" font-style="italic" stroke="#1e1e1e" stroke-width="0.12">ZCCHC7</text>
<line x1="108.10" y1="378.60" x2="111.30" y2="378.60" stroke="#1c1c1c" stroke-width="0.9"/>
<line x1="308.70" y1="378.60" x2="311.30" y2="378.60" stroke="#1c1c1c" stroke-width="0.9"/>
<text x="104.50" y="380.98" font-size="6.6" fill="#1e1e1e" text-anchor="end" font-style="italic" stroke="#1e1e1e" stroke-width="0.12">L3MBTL3</text>
<line x1="108.10" y1="385.20" x2="111.30" y2="385.20" stroke="#1c1c1c" stroke-width="0.9"/>
<line x1="308.70" y1="385.20" x2="311.30" y2="385.20" stroke="#1c1c1c" stroke-width="0.9"/>
<text x="104.50" y="387.58" font-size="6.6" fill="#1e1e1e" text-anchor="end" font-style="italic" stroke="#1e1e1e" stroke-width="0.12">SFMBT2</text>
<line x1="116.00" y1="388.50" x2="116.00" y2="391.90" stroke="#1c1c1c" stroke-width="0.9"/>
<text x="119.60" y="396.20" font-size="6.6" fill="#1e1e1e" text-anchor="end" transform="rotate(-45 119.60 396.20)" stroke="#1e1e1e" stroke-width="0.1">P625</text>
<line x1="125.40" y1="388.50" x2="125.40" y2="391.90" stroke="#1c1c1c" stroke-width="0.9"/>
<text x="129.00" y="396.20" font-size="6.6" fill="#1e1e1e" text-anchor="end" transform="rotate(-45 129.00 396.20)" stroke="#1e1e1e" stroke-width="0.1">P631</text>
<line x1="134.80" y1="388.50" x2="134.80" y2="391.90" stroke="#1c1c1c" stroke-width="0.9"/>
<text x="138.40" y="396.20" font-size="6.6" fill="#1e1e1e" text-anchor="end" transform="rotate(-45 138.40 396.20)" stroke="#1e1e1e" stroke-width="0.1">P654</text>
<line x1="144.20" y1="388.50" x2="144.20" y2="391.90" stroke="#1c1c1c" stroke-width="0.9"/>
<text x="147.80" y="396.20" font-size="6.6" fill="#1e1e1e" text-anchor="end" transform="rotate(-45 147.80 396.20)" stroke="#1e1e1e" stroke-width="0.1">P677</text>
<line x1="153.60" y1="388.50" x2="153.60" y2="391.90" stroke="#1c1c1c" stroke-width="0.9"/>
<text x="157.20" y="396.20" font-size="6.6" fill="#1e1e1e" text-anchor="end" transform="rotate(-45 157.20 396.20)" stroke="#1e1e1e" stroke-width="0.1">P685</text>
<line x1="163.00" y1="388.50" x2="163.00" y2="391.90" stroke="#1c1c1c" stroke-width="0.9"/>
<text x="166.60" y="396.20" font-size="6.6" fill="#1e1e1e" text-anchor="end" transform="rotate(-45 166.60 396.20)" stroke="#1e1e1e" stroke-width="0.1">P713</text>
<line x1="172.40" y1="388.50" x2="172.40" y2="391.90" stroke="#1c1c1c" stroke-width="0.9"/>
<text x="176.00" y="396.20" font-size="6.6" fill="#1e1e1e" text-anchor="end" transform="rotate(-45 176.00 396.20)" stroke="#1e1e1e" stroke-width="0.1">P735</text>
<line x1="181.80" y1="388.50" x2="181.80" y2="391.90" stroke="#1c1c1c" stroke-width="0.9"/>
<text x="185.40" y="396.20" font-size="6.6" fill="#1e1e1e" text-anchor="end" transform="rotate(-45 185.40 396.20)" stroke="#1e1e1e" stroke-width="0.1">P742</text>
<line x1="191.20" y1="388.50" x2="191.20" y2="391.90" stroke="#1c1c1c" stroke-width="0.9"/>
<text x="194.80" y="396.20" font-size="6.6" fill="#1e1e1e" text-anchor="end" transform="rotate(-45 194.80 396.20)" stroke="#1e1e1e" stroke-width="0.1">P160</text>
<line x1="200.60" y1="388.50" x2="200.60" y2="391.90" stroke="#1c1c1c" stroke-width="0.9"/>
<text x="204.20" y="396.20" font-size="6.6" fill="#1e1e1e" text-anchor="end" transform="rotate(-45 204.20 396.20)" stroke="#1e1e1e" stroke-width="0.1">P170</text>
<line x1="210.00" y1="388.50" x2="210.00" y2="391.90" stroke="#1c1c1c" stroke-width="0.9"/>
<text x="213.60" y="396.20" font-size="6.6" fill="#1e1e1e" text-anchor="end" transform="rotate(-45 213.60 396.20)" stroke="#1e1e1e" stroke-width="0.1">P312</text>
<line x1="219.40" y1="388.50" x2="219.40" y2="391.90" stroke="#1c1c1c" stroke-width="0.9"/>
<text x="223.00" y="396.20" font-size="6.6" fill="#1e1e1e" text-anchor="end" transform="rotate(-45 223.00 396.20)" stroke="#1e1e1e" stroke-width="0.1">P387</text>
<line x1="228.80" y1="388.50" x2="228.80" y2="391.90" stroke="#1c1c1c" stroke-width="0.9"/>
<text x="232.40" y="396.20" font-size="6.6" fill="#1e1e1e" text-anchor="end" transform="rotate(-45 232.40 396.20)" stroke="#1e1e1e" stroke-width="0.1">P464</text>
<line x1="238.20" y1="388.50" x2="238.20" y2="391.90" stroke="#1c1c1c" stroke-width="0.9"/>
<text x="241.80" y="396.20" font-size="6.6" fill="#1e1e1e" text-anchor="end" transform="rotate(-45 241.80 396.20)" stroke="#1e1e1e" stroke-width="0.1">P489</text>
<line x1="247.60" y1="388.50" x2="247.60" y2="391.90" stroke="#1c1c1c" stroke-width="0.9"/>
<text x="251.20" y="396.20" font-size="6.6" fill="#1e1e1e" text-anchor="end" transform="rotate(-45 251.20 396.20)" stroke="#1e1e1e" stroke-width="0.1">P687</text>
<line x1="257.00" y1="388.50" x2="257.00" y2="391.90" stroke="#1c1c1c" stroke-width="0.9"/>
<text x="260.60" y="396.20" font-size="6.6" fill="#1e1e1e" text-anchor="end" transform="rotate(-45 260.60 396.20)" stroke="#1e1e1e" stroke-width="0.1">BM157</text>
<line x1="266.40" y1="388.50" x2="266.40" y2="391.90" stroke="#1c1c1c" stroke-width="0.9"/>
<text x="270.00" y="396.20" font-size="6.6" fill="#1e1e1e" text-anchor="end" transform="rotate(-45 270.00 396.20)" stroke="#1e1e1e" stroke-width="0.1">LEU9</text>
<line x1="275.80" y1="388.50" x2="275.80" y2="391.90" stroke="#1c1c1c" stroke-width="0.9"/>
<text x="279.40" y="396.20" font-size="6.6" fill="#1e1e1e" text-anchor="end" transform="rotate(-45 279.40 396.20)" stroke="#1e1e1e" stroke-width="0.1">P147</text>
<line x1="285.20" y1="388.50" x2="285.20" y2="391.90" stroke="#1c1c1c" stroke-width="0.9"/>
<text x="288.80" y="396.20" font-size="6.6" fill="#1e1e1e" text-anchor="end" transform="rotate(-45 288.80 396.20)" stroke="#1e1e1e" stroke-width="0.1">P309</text>
<line x1="294.60" y1="388.50" x2="294.60" y2="391.90" stroke="#1c1c1c" stroke-width="0.9"/>
<text x="298.20" y="396.20" font-size="6.6" fill="#1e1e1e" text-anchor="end" transform="rotate(-45 298.20 396.20)" stroke="#1e1e1e" stroke-width="0.1">P430</text>
<line x1="304.00" y1="388.50" x2="304.00" y2="391.90" stroke="#1c1c1c" stroke-width="0.9"/>
<text x="307.60" y="396.20" font-size="6.6" fill="#1e1e1e" text-anchor="end" transform="rotate(-45 307.60 396.20)" stroke="#1e1e1e" stroke-width="0.1">P605</text>
<text x="328.40" y="262.40" font-size="7.3" fill="#333" text-anchor="end" textLength="12.40" lengthAdjust="spacingAndGlyphs">18%</text>
<rect x="331.80" y="256.95" width="33.00" height="5.70" fill="#a0142e"/>
<rect x="364.80" y="256.95" width="11.00" height="5.70" fill="#1f2f6e"/>
<rect x="375.80" y="256.95" width="11.00" height="5.70" fill="#2a1458"/>
<text x="328.40" y="269.00" font-size="7.3" fill="#333" text-anchor="end" textLength="12.40" lengthAdjust="spacingAndGlyphs">18%</text>
<rect x="331.80" y="263.55" width="22.00" height="5.70" fill="#4f9a2f"/>
<rect x="353.80" y="263.55" width="33.00" height="5.70" fill="#e8b823"/>
<text x="328.40" y="275.60" font-size="7.3" fill="#333" text-anchor="end" textLength="12.40" lengthAdjust="spacingAndGlyphs">18%</text>
<rect x="331.80" y="270.15" width="33.00" height="5.70" fill="#4f9a2f"/>
<rect x="364.80" y="270.15" width="11.00" height="5.70" fill="#a0142e"/>
<rect x="375.80" y="270.15" width="11.00" height="5.70" fill="#3c4150"/>
<text x="328.40" y="282.20" font-size="7.3" fill="#333" text-anchor="end" textLength="9.60" lengthAdjust="spacingAndGlyphs">7%</text>
<rect x="331.80" y="276.75" width="22.00" height="5.70" fill="#4f9a2f"/>
<text x="328.40" y="288.80" font-size="7.3" fill="#333" text-anchor="end" textLength="9.60" lengthAdjust="spacingAndGlyphs">7%</text>
<rect x="331.80" y="283.35" width="11.00" height="5.70" fill="#4f9a2f"/>
<rect x="342.80" y="283.35" width="11.00" height="5.70" fill="#e8b823"/>
<text x="328.40" y="295.40" font-size="7.3" fill="#333" text-anchor="end" textLength="9.60" lengthAdjust="spacingAndGlyphs">7%</text>
<rect x="331.80" y="289.95" width="11.00" height="5.70" fill="#4f9a2f"/>
<rect x="342.80" y="289.95" width="11.00" height="5.70" fill="#e8b823"/>
<text x="328.40" y="302.00" font-size="7.3" fill="#333" text-anchor="end" textLength="9.60" lengthAdjust="spacingAndGlyphs">4%</text>
<rect x="331.80" y="296.55" width="11.00" height="5.70" fill="#2a1458"/>
<text x="328.40" y="308.60" font-size="7.3" fill="#333" text-anchor="end" textLength="9.60" lengthAdjust="spacingAndGlyphs">7%</text>
<rect x="331.80" y="303.15" width="22.00" height="5.70" fill="#4f9a2f"/>
<text x="328.40" y="315.20" font-size="7.3" fill="#333" text-anchor="end" textLength="9.60" lengthAdjust="spacingAndGlyphs">7%</text>
<rect x="331.80" y="309.75" width="22.00" height="5.70" fill="#4f9a2f"/>
<text x="328.40" y="321.80" font-size="7.3" fill="#333" text-anchor="end" textLength="9.60" lengthAdjust="spacingAndGlyphs">7%</text>
<rect x="331.80" y="316.35" width="11.00" height="5.70" fill="#4f9a2f"/>
<rect x="342.80" y="316.35" width="11.00" height="5.70" fill="#3d2a12"/>
<text x="328.40" y="328.40" font-size="7.3" fill="#333" text-anchor="end" textLength="9.60" lengthAdjust="spacingAndGlyphs">4%</text>
<rect x="331.80" y="322.95" width="11.00" height="5.70" fill="#4f9a2f"/>
<text x="328.40" y="335.00" font-size="7.3" fill="#333" text-anchor="end" textLength="9.60" lengthAdjust="spacingAndGlyphs">4%</text>
<rect x="331.80" y="329.55" width="11.00" height="5.70" fill="#4f9a2f"/>
<text x="328.40" y="341.60" font-size="7.3" fill="#333" text-anchor="end" textLength="9.60" lengthAdjust="spacingAndGlyphs">7%</text>
<rect x="331.80" y="336.15" width="22.00" height="5.70" fill="#4f9a2f"/>
<text x="328.40" y="348.20" font-size="7.3" fill="#333" text-anchor="end" textLength="9.60" lengthAdjust="spacingAndGlyphs">4%</text>
<rect x="331.80" y="342.75" width="11.00" height="5.70" fill="#4f9a2f"/>
<text x="328.40" y="354.80" font-size="7.3" fill="#333" text-anchor="end" textLength="9.60" lengthAdjust="spacingAndGlyphs">4%</text>
<rect x="331.80" y="349.35" width="11.00" height="5.70" fill="#4f9a2f"/>
<text x="328.40" y="361.40" font-size="7.3" fill="#333" text-anchor="end" textLength="9.60" lengthAdjust="spacingAndGlyphs">4%</text>
<rect x="331.80" y="355.95" width="11.00" height="5.70" fill="#4f9a2f"/>
<text x="328.40" y="368.00" font-size="7.3" fill="#333" text-anchor="end" textLength="9.60" lengthAdjust="spacingAndGlyphs">4%</text>
<rect x="331.80" y="362.55" width="11.00" height="5.70" fill="#4f9a2f"/>
<text x="328.40" y="374.60" font-size="7.3" fill="#333" text-anchor="end" textLength="9.60" lengthAdjust="spacingAndGlyphs">4%</text>
<rect x="331.80" y="369.15" width="11.00" height="5.70" fill="#4f9a2f"/>
<text x="328.40" y="381.20" font-size="7.3" fill="#333" text-anchor="end" textLength="9.60" lengthAdjust="spacingAndGlyphs">4%</text>
<rect x="331.80" y="375.75" width="11.00" height="5.70" fill="#4f9a2f"/>
<text x="328.40" y="387.80" font-size="7.3" fill="#333" text-anchor="end" textLength="9.60" lengthAdjust="spacingAndGlyphs">4%</text>
<rect x="331.80" y="382.35" width="11.00" height="5.70" fill="#4f9a2f"/>
<line x1="331.60" y1="254.70" x2="387.60" y2="254.70" stroke="#222" stroke-width="0.9"/>
<line x1="331.60" y1="252.00" x2="331.60" y2="254.70" stroke="#222" stroke-width="0.9"/>
<line x1="387.60" y1="252.00" x2="387.60" y2="254.70" stroke="#222" stroke-width="0.9"/>
<text x="331.30" y="249.50" font-size="7" fill="#333" text-anchor="middle">0</text>
<text x="387.70" y="249.50" font-size="7" fill="#333" text-anchor="middle">5</text>
<text x="338.70" y="252.30" font-size="6.8" fill="#333" textLength="41.60" lengthAdjust="spacingAndGlyphs">No. of samples</text>
<rect x="391.90" y="291.20" width="4.60" height="4.60" fill="#5f9640"/>
<text x="399.90" y="296.10" font-size="7.4" fill="#333" textLength="52.80" lengthAdjust="spacingAndGlyphs">Missense_Mutation</text>
<rect x="391.90" y="300.93" width="4.60" height="4.60" fill="#213a78"/>
<text x="399.90" y="305.83" font-size="7.4" fill="#333" textLength="44.80" lengthAdjust="spacingAndGlyphs">Frame_Shift_Del</text>
<rect x="391.90" y="310.66" width="4.60" height="4.60" fill="#84182c"/>
<text x="399.90" y="315.56" font-size="7.4" fill="#333" textLength="55.10" lengthAdjust="spacingAndGlyphs">Nonsense_Mutation</text>
<rect x="391.90" y="320.39" width="4.60" height="4.60" fill="#2a1648"/>
<text x="399.90" y="325.29" font-size="7.4" fill="#333" textLength="40.80" lengthAdjust="spacingAndGlyphs">Frame Shift Ins</text>
<rect x="391.90" y="330.12" width="4.60" height="4.60" fill="#d9b53a"/>
<text x="399.90" y="335.02" font-size="7.4" fill="#333" textLength="38.20" lengthAdjust="spacingAndGlyphs">In_Frame_Del</text>
<rect x="391.90" y="339.85" width="4.60" height="4.60" fill="#3a2c1c"/>
<text x="399.90" y="344.75" font-size="7.4" fill="#333" textLength="35.90" lengthAdjust="spacingAndGlyphs">In_Frame_Ins</text>
<rect x="391.90" y="349.58" width="4.60" height="4.60" fill="#3c4049"/>
<text x="399.90" y="354.48" font-size="7.4" fill="#333" textLength="25.40" lengthAdjust="spacingAndGlyphs">Multi_Hit</text>
<text x="57.00" y="454.50" font-size="9" fill="#222" textLength="190.50" lengthAdjust="spacingAndGlyphs">Detection of expressed mutations in scRNA-seq</text>
<line x1="55.20" y1="459.40" x2="250.00" y2="459.40" stroke="#222" stroke-width="1.2"/>
<line x1="55.20" y1="464.50" x2="127.80" y2="464.50" stroke="#222" stroke-width="1.2"/>
<line x1="134.20" y1="464.50" x2="192.70" y2="464.50" stroke="#222" stroke-width="1.2"/>
<line x1="198.70" y1="464.50" x2="250.00" y2="464.50" stroke="#222" stroke-width="1.2"/>
<rect x="54.60" y="467.10" width="198.03" height="136.30" fill="#f4f4f6"/>
<rect x="55.10" y="467.60" width="8.43" height="5.82" fill="#b9b8c1"/>
<rect x="64.53" y="467.60" width="8.43" height="5.82" fill="#b9b8c1"/>
<rect x="73.96" y="467.60" width="8.43" height="5.82" fill="#b9b8c1"/>
<rect x="83.39" y="467.60" width="8.43" height="5.82" fill="#b9b8c1"/>
<rect x="92.82" y="467.60" width="8.43" height="5.82" fill="#b9b8c1"/>
<rect x="102.25" y="467.60" width="8.43" height="5.82" fill="#b9b8c1"/>
<rect x="111.68" y="467.60" width="8.43" height="5.82" fill="#b9b8c1"/>
<rect x="121.11" y="467.60" width="8.43" height="5.82" fill="#b9b8c1"/>
<rect x="130.54" y="467.60" width="8.43" height="5.82" fill="#b9b8c1"/>
<rect x="139.97" y="467.60" width="8.43" height="5.82" fill="#b9b8c1"/>
<rect x="149.40" y="467.60" width="8.43" height="5.82" fill="#b9b8c1"/>
<rect x="158.83" y="467.60" width="8.43" height="5.82" fill="#b9b8c1"/>
<rect x="168.26" y="467.60" width="8.43" height="5.82" fill="#b9b8c1"/>
<rect x="177.69" y="467.60" width="8.43" height="5.82" fill="#b9b8c1"/>
<rect x="187.12" y="467.60" width="8.43" height="5.82" fill="#b9b8c1"/>
<rect x="196.55" y="467.60" width="8.43" height="5.82" fill="#b9b8c1"/>
<rect x="205.98" y="467.60" width="8.43" height="5.82" fill="#b9b8c1"/>
<rect x="215.41" y="467.60" width="8.43" height="5.82" fill="#b9b8c1"/>
<rect x="224.84" y="467.60" width="8.43" height="5.82" fill="#b9b8c1"/>
<rect x="234.27" y="467.60" width="8.43" height="5.82" fill="#b9b8c1"/>
<rect x="243.70" y="467.60" width="8.43" height="5.82" fill="#b9b8c1"/>
<rect x="55.10" y="474.42" width="8.43" height="5.82" fill="#b9b8c1"/>
<rect x="64.53" y="474.42" width="8.43" height="5.82" fill="#b9b8c1"/>
<rect x="73.96" y="474.42" width="8.43" height="5.82" fill="#b9b8c1"/>
<rect x="83.39" y="474.42" width="8.43" height="5.82" fill="#b9b8c1"/>
<rect x="92.82" y="474.42" width="8.43" height="5.82" fill="#b9b8c1"/>
<rect x="102.25" y="474.42" width="8.43" height="5.82" fill="#b9b8c1"/>
<rect x="111.68" y="474.42" width="8.43" height="5.82" fill="#b9b8c1"/>
<rect x="121.11" y="474.42" width="8.43" height="5.82" fill="#b9b8c1"/>
<rect x="130.54" y="474.42" width="8.43" height="5.82" fill="#b9b8c1"/>
<rect x="139.97" y="474.42" width="8.43" height="5.82" fill="#b9b8c1"/>
<rect x="149.40" y="474.42" width="8.43" height="5.82" fill="#b9b8c1"/>
<rect x="158.83" y="474.42" width="8.43" height="5.82" fill="#b9b8c1"/>
<rect x="168.26" y="474.42" width="8.43" height="5.82" fill="#b9b8c1"/>
<rect x="177.69" y="474.42" width="8.43" height="5.82" fill="#b9b8c1"/>
<rect x="187.12" y="474.42" width="8.43" height="5.82" fill="#b9b8c1"/>
<rect x="196.55" y="474.42" width="8.43" height="5.82" fill="#b9b8c1"/>
<rect x="205.98" y="474.42" width="8.43" height="5.82" fill="#b9b8c1"/>
<rect x="215.41" y="474.42" width="8.43" height="5.82" fill="#b9b8c1"/>
<rect x="224.84" y="474.42" width="8.43" height="5.82" fill="#b9b8c1"/>
<rect x="234.27" y="474.42" width="8.43" height="5.82" fill="#b9b8c1"/>
<rect x="243.70" y="474.42" width="8.43" height="5.82" fill="#b9b8c1"/>
<rect x="55.10" y="481.23" width="8.43" height="5.82" fill="#b9b8c1"/>
<rect x="64.53" y="481.23" width="8.43" height="5.82" fill="#b9b8c1"/>
<rect x="73.96" y="481.23" width="8.43" height="5.82" fill="#b9b8c1"/>
<rect x="83.39" y="481.23" width="8.43" height="5.82" fill="#b9b8c1"/>
<rect x="92.82" y="481.23" width="8.43" height="5.82" fill="#b9b8c1"/>
<rect x="102.25" y="481.23" width="8.43" height="5.82" fill="#b9b8c1"/>
<rect x="111.68" y="481.23" width="8.43" height="5.82" fill="#b9b8c1"/>
<rect x="121.11" y="481.23" width="8.43" height="5.82" fill="#b9b8c1"/>
<rect x="130.54" y="481.23" width="8.43" height="5.82" fill="#b9b8c1"/>
<rect x="139.97" y="481.23" width="8.43" height="5.82" fill="#b9b8c1"/>
<rect x="149.40" y="481.23" width="8.43" height="5.82" fill="#b9b8c1"/>
<rect x="158.83" y="481.23" width="8.43" height="5.82" fill="#b9b8c1"/>
<rect x="168.26" y="481.23" width="8.43" height="5.82" fill="#b9b8c1"/>
<rect x="177.69" y="481.23" width="8.43" height="5.82" fill="#b9b8c1"/>
<rect x="187.12" y="481.23" width="8.43" height="5.82" fill="#b9b8c1"/>
<rect x="196.55" y="481.23" width="8.43" height="5.82" fill="#b9b8c1"/>
<rect x="205.98" y="481.23" width="8.43" height="5.82" fill="#b9b8c1"/>
<rect x="215.41" y="481.23" width="8.43" height="5.82" fill="#b9b8c1"/>
<rect x="224.84" y="481.23" width="8.43" height="5.82" fill="#b9b8c1"/>
<rect x="234.27" y="481.23" width="8.43" height="5.82" fill="#b9b8c1"/>
<rect x="243.70" y="481.23" width="8.43" height="5.82" fill="#b9b8c1"/>
<rect x="55.10" y="488.05" width="8.43" height="5.82" fill="#b9b8c1"/>
<rect x="64.53" y="488.05" width="8.43" height="5.82" fill="#b9b8c1"/>
<rect x="73.96" y="488.05" width="8.43" height="5.82" fill="#b9b8c1"/>
<rect x="83.39" y="488.05" width="8.43" height="5.82" fill="#b9b8c1"/>
<rect x="92.82" y="488.05" width="8.43" height="5.82" fill="#b9b8c1"/>
<rect x="102.25" y="488.05" width="8.43" height="5.82" fill="#b9b8c1"/>
<rect x="111.68" y="488.05" width="8.43" height="5.82" fill="#b9b8c1"/>
<rect x="121.11" y="488.05" width="8.43" height="5.82" fill="#b9b8c1"/>
<rect x="130.54" y="488.05" width="8.43" height="5.82" fill="#b9b8c1"/>
<rect x="139.97" y="488.05" width="8.43" height="5.82" fill="#b9b8c1"/>
<rect x="149.40" y="488.05" width="8.43" height="5.82" fill="#b9b8c1"/>
<rect x="158.83" y="488.05" width="8.43" height="5.82" fill="#b9b8c1"/>
<rect x="168.26" y="488.05" width="8.43" height="5.82" fill="#b9b8c1"/>
<rect x="177.69" y="488.05" width="8.43" height="5.82" fill="#b9b8c1"/>
<rect x="187.12" y="488.05" width="8.43" height="5.82" fill="#b9b8c1"/>
<rect x="196.55" y="488.05" width="8.43" height="5.82" fill="#b9b8c1"/>
<rect x="205.98" y="488.05" width="8.43" height="5.82" fill="#b9b8c1"/>
<rect x="215.41" y="488.05" width="8.43" height="5.82" fill="#b9b8c1"/>
<rect x="224.84" y="488.05" width="8.43" height="5.82" fill="#b9b8c1"/>
<rect x="234.27" y="488.05" width="8.43" height="5.82" fill="#b9b8c1"/>
<rect x="243.70" y="488.05" width="8.43" height="5.82" fill="#b9b8c1"/>
<rect x="55.10" y="494.86" width="8.43" height="5.82" fill="#b9b8c1"/>
<rect x="64.53" y="494.86" width="8.43" height="5.82" fill="#b9b8c1"/>
<rect x="73.96" y="494.86" width="8.43" height="5.82" fill="#b9b8c1"/>
<rect x="83.39" y="494.86" width="8.43" height="5.82" fill="#b9b8c1"/>
<rect x="92.82" y="494.86" width="8.43" height="5.82" fill="#b9b8c1"/>
<rect x="102.25" y="494.86" width="8.43" height="5.82" fill="#b9b8c1"/>
<rect x="111.68" y="494.86" width="8.43" height="5.82" fill="#b9b8c1"/>
<rect x="121.11" y="494.86" width="8.43" height="5.82" fill="#b9b8c1"/>
<rect x="130.54" y="494.86" width="8.43" height="5.82" fill="#b9b8c1"/>
<rect x="139.97" y="494.86" width="8.43" height="5.82" fill="#b9b8c1"/>
<rect x="149.40" y="494.86" width="8.43" height="5.82" fill="#b9b8c1"/>
<rect x="158.83" y="494.86" width="8.43" height="5.82" fill="#b9b8c1"/>
<rect x="168.26" y="494.86" width="8.43" height="5.82" fill="#b9b8c1"/>
<rect x="177.69" y="494.86" width="8.43" height="5.82" fill="#b9b8c1"/>
<rect x="187.12" y="494.86" width="8.43" height="5.82" fill="#b9b8c1"/>
<rect x="196.55" y="494.86" width="8.43" height="5.82" fill="#b9b8c1"/>
<rect x="205.98" y="494.86" width="8.43" height="5.82" fill="#b9b8c1"/>
<rect x="215.41" y="494.86" width="8.43" height="5.82" fill="#b9b8c1"/>
<rect x="224.84" y="494.86" width="8.43" height="5.82" fill="#b9b8c1"/>
<rect x="234.27" y="494.86" width="8.43" height="5.82" fill="#b9b8c1"/>
<rect x="243.70" y="494.86" width="8.43" height="5.82" fill="#b9b8c1"/>
<rect x="55.10" y="501.68" width="8.43" height="5.82" fill="#b9b8c1"/>
<rect x="64.53" y="501.68" width="8.43" height="5.82" fill="#b9b8c1"/>
<rect x="73.96" y="501.68" width="8.43" height="5.82" fill="#b9b8c1"/>
<rect x="83.39" y="501.68" width="8.43" height="5.82" fill="#b9b8c1"/>
<rect x="92.82" y="501.68" width="8.43" height="5.82" fill="#b9b8c1"/>
<rect x="102.25" y="501.68" width="8.43" height="5.82" fill="#b9b8c1"/>
<rect x="111.68" y="501.68" width="8.43" height="5.82" fill="#b9b8c1"/>
<rect x="121.11" y="501.68" width="8.43" height="5.82" fill="#b9b8c1"/>
<rect x="130.54" y="501.68" width="8.43" height="5.82" fill="#b9b8c1"/>
<rect x="139.97" y="501.68" width="8.43" height="5.82" fill="#b9b8c1"/>
<rect x="149.40" y="501.68" width="8.43" height="5.82" fill="#b9b8c1"/>
<rect x="158.83" y="501.68" width="8.43" height="5.82" fill="#b9b8c1"/>
<rect x="168.26" y="501.68" width="8.43" height="5.82" fill="#b9b8c1"/>
<rect x="177.69" y="501.68" width="8.43" height="5.82" fill="#b9b8c1"/>
<rect x="187.12" y="501.68" width="8.43" height="5.82" fill="#b9b8c1"/>
<rect x="196.55" y="501.68" width="8.43" height="5.82" fill="#b9b8c1"/>
<rect x="205.98" y="501.68" width="8.43" height="5.82" fill="#b9b8c1"/>
<rect x="215.41" y="501.68" width="8.43" height="5.82" fill="#b9b8c1"/>
<rect x="224.84" y="501.68" width="8.43" height="5.82" fill="#b9b8c1"/>
<rect x="234.27" y="501.68" width="8.43" height="5.82" fill="#b9b8c1"/>
<rect x="243.70" y="501.68" width="8.43" height="5.82" fill="#b9b8c1"/>
<rect x="55.10" y="508.49" width="8.43" height="5.82" fill="#b9b8c1"/>
<rect x="64.53" y="508.49" width="8.43" height="5.82" fill="#b9b8c1"/>
<rect x="73.96" y="508.49" width="8.43" height="5.82" fill="#b9b8c1"/>
<rect x="83.39" y="508.49" width="8.43" height="5.82" fill="#b9b8c1"/>
<rect x="92.82" y="508.49" width="8.43" height="5.82" fill="#b9b8c1"/>
<rect x="102.25" y="508.49" width="8.43" height="5.82" fill="#b9b8c1"/>
<rect x="111.68" y="508.49" width="8.43" height="5.82" fill="#b9b8c1"/>
<rect x="121.11" y="508.49" width="8.43" height="5.82" fill="#b9b8c1"/>
<rect x="130.54" y="508.49" width="8.43" height="5.82" fill="#b9b8c1"/>
<rect x="139.97" y="508.49" width="8.43" height="5.82" fill="#b9b8c1"/>
<rect x="149.40" y="508.49" width="8.43" height="5.82" fill="#b9b8c1"/>
<rect x="158.83" y="508.49" width="8.43" height="5.82" fill="#b9b8c1"/>
<rect x="168.26" y="508.49" width="8.43" height="5.82" fill="#b9b8c1"/>
<rect x="177.69" y="508.49" width="8.43" height="5.82" fill="#b9b8c1"/>
<rect x="187.12" y="508.49" width="8.43" height="5.82" fill="#b9b8c1"/>
<rect x="196.55" y="508.49" width="8.43" height="5.82" fill="#b9b8c1"/>
<rect x="205.98" y="508.49" width="8.43" height="5.82" fill="#b9b8c1"/>
<rect x="215.41" y="508.49" width="8.43" height="5.82" fill="#b9b8c1"/>
<rect x="224.84" y="508.49" width="8.43" height="5.82" fill="#b9b8c1"/>
<rect x="234.27" y="508.49" width="8.43" height="5.82" fill="#b9b8c1"/>
<rect x="243.70" y="508.49" width="8.43" height="5.82" fill="#b9b8c1"/>
<rect x="55.10" y="515.31" width="8.43" height="5.82" fill="#b9b8c1"/>
<rect x="64.53" y="515.31" width="8.43" height="5.82" fill="#b9b8c1"/>
<rect x="73.96" y="515.31" width="8.43" height="5.82" fill="#b9b8c1"/>
<rect x="83.39" y="515.31" width="8.43" height="5.82" fill="#b9b8c1"/>
<rect x="92.82" y="515.31" width="8.43" height="5.82" fill="#b9b8c1"/>
<rect x="102.25" y="515.31" width="8.43" height="5.82" fill="#b9b8c1"/>
<rect x="111.68" y="515.31" width="8.43" height="5.82" fill="#b9b8c1"/>
<rect x="121.11" y="515.31" width="8.43" height="5.82" fill="#b9b8c1"/>
<rect x="130.54" y="515.31" width="8.43" height="5.82" fill="#b9b8c1"/>
<rect x="139.97" y="515.31" width="8.43" height="5.82" fill="#b9b8c1"/>
<rect x="149.40" y="515.31" width="8.43" height="5.82" fill="#b9b8c1"/>
<rect x="158.83" y="515.31" width="8.43" height="5.82" fill="#b9b8c1"/>
<rect x="168.26" y="515.31" width="8.43" height="5.82" fill="#b9b8c1"/>
<rect x="177.69" y="515.31" width="8.43" height="5.82" fill="#b9b8c1"/>
<rect x="187.12" y="515.31" width="8.43" height="5.82" fill="#b9b8c1"/>
<rect x="196.55" y="515.31" width="8.43" height="5.82" fill="#b9b8c1"/>
<rect x="205.98" y="515.31" width="8.43" height="5.82" fill="#b9b8c1"/>
<rect x="215.41" y="515.31" width="8.43" height="5.82" fill="#b9b8c1"/>
<rect x="224.84" y="515.31" width="8.43" height="5.82" fill="#b9b8c1"/>
<rect x="234.27" y="515.31" width="8.43" height="5.82" fill="#b9b8c1"/>
<rect x="243.70" y="515.31" width="8.43" height="5.82" fill="#b9b8c1"/>
<rect x="55.10" y="522.12" width="8.43" height="5.82" fill="#b9b8c1"/>
<rect x="64.53" y="522.12" width="8.43" height="5.82" fill="#b9b8c1"/>
<rect x="73.96" y="522.12" width="8.43" height="5.82" fill="#b9b8c1"/>
<rect x="83.39" y="522.12" width="8.43" height="5.82" fill="#b9b8c1"/>
<rect x="92.82" y="522.12" width="8.43" height="5.82" fill="#b9b8c1"/>
<rect x="102.25" y="522.12" width="8.43" height="5.82" fill="#b9b8c1"/>
<rect x="111.68" y="522.12" width="8.43" height="5.82" fill="#b9b8c1"/>
<rect x="121.11" y="522.12" width="8.43" height="5.82" fill="#b9b8c1"/>
<rect x="130.54" y="522.12" width="8.43" height="5.82" fill="#b9b8c1"/>
<rect x="139.97" y="522.12" width="8.43" height="5.82" fill="#b9b8c1"/>
<rect x="149.40" y="522.12" width="8.43" height="5.82" fill="#b9b8c1"/>
<rect x="158.83" y="522.12" width="8.43" height="5.82" fill="#b9b8c1"/>
<rect x="168.26" y="522.12" width="8.43" height="5.82" fill="#b9b8c1"/>
<rect x="177.69" y="522.12" width="8.43" height="5.82" fill="#b9b8c1"/>
<rect x="187.12" y="522.12" width="8.43" height="5.82" fill="#b9b8c1"/>
<rect x="196.55" y="522.12" width="8.43" height="5.82" fill="#b9b8c1"/>
<rect x="205.98" y="522.12" width="8.43" height="5.82" fill="#b9b8c1"/>
<rect x="215.41" y="522.12" width="8.43" height="5.82" fill="#b9b8c1"/>
<rect x="224.84" y="522.12" width="8.43" height="5.82" fill="#b9b8c1"/>
<rect x="234.27" y="522.12" width="8.43" height="5.82" fill="#b9b8c1"/>
<rect x="243.70" y="522.12" width="8.43" height="5.82" fill="#b9b8c1"/>
<rect x="55.10" y="528.94" width="8.43" height="5.82" fill="#b9b8c1"/>
<rect x="64.53" y="528.94" width="8.43" height="5.82" fill="#b9b8c1"/>
<rect x="73.96" y="528.94" width="8.43" height="5.82" fill="#b9b8c1"/>
<rect x="83.39" y="528.94" width="8.43" height="5.82" fill="#b9b8c1"/>
<rect x="92.82" y="528.94" width="8.43" height="5.82" fill="#b9b8c1"/>
<rect x="102.25" y="528.94" width="8.43" height="5.82" fill="#b9b8c1"/>
<rect x="111.68" y="528.94" width="8.43" height="5.82" fill="#b9b8c1"/>
<rect x="121.11" y="528.94" width="8.43" height="5.82" fill="#b9b8c1"/>
<rect x="130.54" y="528.94" width="8.43" height="5.82" fill="#b9b8c1"/>
<rect x="139.97" y="528.94" width="8.43" height="5.82" fill="#b9b8c1"/>
<rect x="149.40" y="528.94" width="8.43" height="5.82" fill="#b9b8c1"/>
<rect x="158.83" y="528.94" width="8.43" height="5.82" fill="#b9b8c1"/>
<rect x="168.26" y="528.94" width="8.43" height="5.82" fill="#b9b8c1"/>
<rect x="177.69" y="528.94" width="8.43" height="5.82" fill="#b9b8c1"/>
<rect x="187.12" y="528.94" width="8.43" height="5.82" fill="#b9b8c1"/>
<rect x="196.55" y="528.94" width="8.43" height="5.82" fill="#b9b8c1"/>
<rect x="205.98" y="528.94" width="8.43" height="5.82" fill="#b9b8c1"/>
<rect x="215.41" y="528.94" width="8.43" height="5.82" fill="#b9b8c1"/>
<rect x="224.84" y="528.94" width="8.43" height="5.82" fill="#b9b8c1"/>
<rect x="234.27" y="528.94" width="8.43" height="5.82" fill="#b9b8c1"/>
<rect x="243.70" y="528.94" width="8.43" height="5.82" fill="#b9b8c1"/>
<rect x="55.10" y="535.75" width="8.43" height="5.82" fill="#b9b8c1"/>
<rect x="64.53" y="535.75" width="8.43" height="5.82" fill="#b9b8c1"/>
<rect x="73.96" y="535.75" width="8.43" height="5.82" fill="#b9b8c1"/>
<rect x="83.39" y="535.75" width="8.43" height="5.82" fill="#b9b8c1"/>
<rect x="92.82" y="535.75" width="8.43" height="5.82" fill="#b9b8c1"/>
<rect x="102.25" y="535.75" width="8.43" height="5.82" fill="#b9b8c1"/>
<rect x="111.68" y="535.75" width="8.43" height="5.82" fill="#b9b8c1"/>
<rect x="121.11" y="535.75" width="8.43" height="5.82" fill="#b9b8c1"/>
<rect x="130.54" y="535.75" width="8.43" height="5.82" fill="#b9b8c1"/>
<rect x="139.97" y="535.75" width="8.43" height="5.82" fill="#b9b8c1"/>
<rect x="149.40" y="535.75" width="8.43" height="5.82" fill="#b9b8c1"/>
<rect x="158.83" y="535.75" width="8.43" height="5.82" fill="#b9b8c1"/>
<rect x="168.26" y="535.75" width="8.43" height="5.82" fill="#b9b8c1"/>
<rect x="177.69" y="535.75" width="8.43" height="5.82" fill="#b9b8c1"/>
<rect x="187.12" y="535.75" width="8.43" height="5.82" fill="#b9b8c1"/>
<rect x="196.55" y="535.75" width="8.43" height="5.82" fill="#b9b8c1"/>
<rect x="205.98" y="535.75" width="8.43" height="5.82" fill="#b9b8c1"/>
<rect x="215.41" y="535.75" width="8.43" height="5.82" fill="#b9b8c1"/>
<rect x="224.84" y="535.75" width="8.43" height="5.82" fill="#b9b8c1"/>
<rect x="234.27" y="535.75" width="8.43" height="5.82" fill="#b9b8c1"/>
<rect x="243.70" y="535.75" width="8.43" height="5.82" fill="#b9b8c1"/>
<rect x="55.10" y="542.57" width="8.43" height="5.82" fill="#b9b8c1"/>
<rect x="64.53" y="542.57" width="8.43" height="5.82" fill="#b9b8c1"/>
<rect x="73.96" y="542.57" width="8.43" height="5.82" fill="#b9b8c1"/>
<rect x="83.39" y="542.57" width="8.43" height="5.82" fill="#b9b8c1"/>
<rect x="92.82" y="542.57" width="8.43" height="5.82" fill="#b9b8c1"/>
<rect x="102.25" y="542.57" width="8.43" height="5.82" fill="#b9b8c1"/>
<rect x="111.68" y="542.57" width="8.43" height="5.82" fill="#b9b8c1"/>
<rect x="121.11" y="542.57" width="8.43" height="5.82" fill="#b9b8c1"/>
<rect x="130.54" y="542.57" width="8.43" height="5.82" fill="#b9b8c1"/>
<rect x="139.97" y="542.57" width="8.43" height="5.82" fill="#b9b8c1"/>
<rect x="149.40" y="542.57" width="8.43" height="5.82" fill="#b9b8c1"/>
<rect x="158.83" y="542.57" width="8.43" height="5.82" fill="#b9b8c1"/>
<rect x="168.26" y="542.57" width="8.43" height="5.82" fill="#b9b8c1"/>
<rect x="177.69" y="542.57" width="8.43" height="5.82" fill="#b9b8c1"/>
<rect x="187.12" y="542.57" width="8.43" height="5.82" fill="#b9b8c1"/>
<rect x="196.55" y="542.57" width="8.43" height="5.82" fill="#b9b8c1"/>
<rect x="205.98" y="542.57" width="8.43" height="5.82" fill="#b9b8c1"/>
<rect x="215.41" y="542.57" width="8.43" height="5.82" fill="#b9b8c1"/>
<rect x="224.84" y="542.57" width="8.43" height="5.82" fill="#b9b8c1"/>
<rect x="234.27" y="542.57" width="8.43" height="5.82" fill="#b9b8c1"/>
<rect x="243.70" y="542.57" width="8.43" height="5.82" fill="#b9b8c1"/>
<rect x="55.10" y="549.38" width="8.43" height="5.82" fill="#b9b8c1"/>
<rect x="64.53" y="549.38" width="8.43" height="5.82" fill="#b9b8c1"/>
<rect x="73.96" y="549.38" width="8.43" height="5.82" fill="#b9b8c1"/>
<rect x="83.39" y="549.38" width="8.43" height="5.82" fill="#b9b8c1"/>
<rect x="92.82" y="549.38" width="8.43" height="5.82" fill="#b9b8c1"/>
<rect x="102.25" y="549.38" width="8.43" height="5.82" fill="#b9b8c1"/>
<rect x="111.68" y="549.38" width="8.43" height="5.82" fill="#b9b8c1"/>
<rect x="121.11" y="549.38" width="8.43" height="5.82" fill="#b9b8c1"/>
<rect x="130.54" y="549.38" width="8.43" height="5.82" fill="#b9b8c1"/>
<rect x="139.97" y="549.38" width="8.43" height="5.82" fill="#b9b8c1"/>
<rect x="149.40" y="549.38" width="8.43" height="5.82" fill="#b9b8c1"/>
<rect x="158.83" y="549.38" width="8.43" height="5.82" fill="#b9b8c1"/>
<rect x="168.26" y="549.38" width="8.43" height="5.82" fill="#b9b8c1"/>
<rect x="177.69" y="549.38" width="8.43" height="5.82" fill="#b9b8c1"/>
<rect x="187.12" y="549.38" width="8.43" height="5.82" fill="#b9b8c1"/>
<rect x="196.55" y="549.38" width="8.43" height="5.82" fill="#b9b8c1"/>
<rect x="205.98" y="549.38" width="8.43" height="5.82" fill="#b9b8c1"/>
<rect x="215.41" y="549.38" width="8.43" height="5.82" fill="#b9b8c1"/>
<rect x="224.84" y="549.38" width="8.43" height="5.82" fill="#b9b8c1"/>
<rect x="234.27" y="549.38" width="8.43" height="5.82" fill="#b9b8c1"/>
<rect x="243.70" y="549.38" width="8.43" height="5.82" fill="#b9b8c1"/>
<rect x="55.10" y="556.20" width="8.43" height="5.82" fill="#b9b8c1"/>
<rect x="64.53" y="556.20" width="8.43" height="5.82" fill="#b9b8c1"/>
<rect x="73.96" y="556.20" width="8.43" height="5.82" fill="#b9b8c1"/>
<rect x="83.39" y="556.20" width="8.43" height="5.82" fill="#b9b8c1"/>
<rect x="92.82" y="556.20" width="8.43" height="5.82" fill="#b9b8c1"/>
<rect x="102.25" y="556.20" width="8.43" height="5.82" fill="#b9b8c1"/>
<rect x="111.68" y="556.20" width="8.43" height="5.82" fill="#b9b8c1"/>
<rect x="121.11" y="556.20" width="8.43" height="5.82" fill="#b9b8c1"/>
<rect x="130.54" y="556.20" width="8.43" height="5.82" fill="#b9b8c1"/>
<rect x="139.97" y="556.20" width="8.43" height="5.82" fill="#b9b8c1"/>
<rect x="149.40" y="556.20" width="8.43" height="5.82" fill="#b9b8c1"/>
<rect x="158.83" y="556.20" width="8.43" height="5.82" fill="#b9b8c1"/>
<rect x="168.26" y="556.20" width="8.43" height="5.82" fill="#b9b8c1"/>
<rect x="177.69" y="556.20" width="8.43" height="5.82" fill="#b9b8c1"/>
<rect x="187.12" y="556.20" width="8.43" height="5.82" fill="#b9b8c1"/>
<rect x="196.55" y="556.20" width="8.43" height="5.82" fill="#b9b8c1"/>
<rect x="205.98" y="556.20" width="8.43" height="5.82" fill="#b9b8c1"/>
<rect x="215.41" y="556.20" width="8.43" height="5.82" fill="#b9b8c1"/>
<rect x="224.84" y="556.20" width="8.43" height="5.82" fill="#b9b8c1"/>
<rect x="234.27" y="556.20" width="8.43" height="5.82" fill="#b9b8c1"/>
<rect x="243.70" y="556.20" width="8.43" height="5.82" fill="#b9b8c1"/>
<rect x="55.10" y="563.01" width="8.43" height="5.82" fill="#b9b8c1"/>
<rect x="64.53" y="563.01" width="8.43" height="5.82" fill="#b9b8c1"/>
<rect x="73.96" y="563.01" width="8.43" height="5.82" fill="#b9b8c1"/>
<rect x="83.39" y="563.01" width="8.43" height="5.82" fill="#b9b8c1"/>
<rect x="92.82" y="563.01" width="8.43" height="5.82" fill="#b9b8c1"/>
<rect x="102.25" y="563.01" width="8.43" height="5.82" fill="#b9b8c1"/>
<rect x="111.68" y="563.01" width="8.43" height="5.82" fill="#b9b8c1"/>
<rect x="121.11" y="563.01" width="8.43" height="5.82" fill="#b9b8c1"/>
<rect x="130.54" y="563.01" width="8.43" height="5.82" fill="#b9b8c1"/>
<rect x="139.97" y="563.01" width="8.43" height="5.82" fill="#b9b8c1"/>
<rect x="149.40" y="563.01" width="8.43" height="5.82" fill="#b9b8c1"/>
<rect x="158.83" y="563.01" width="8.43" height="5.82" fill="#b9b8c1"/>
<rect x="168.26" y="563.01" width="8.43" height="5.82" fill="#b9b8c1"/>
<rect x="177.69" y="563.01" width="8.43" height="5.82" fill="#b9b8c1"/>
<rect x="187.12" y="563.01" width="8.43" height="5.82" fill="#b9b8c1"/>
<rect x="196.55" y="563.01" width="8.43" height="5.82" fill="#b9b8c1"/>
<rect x="205.98" y="563.01" width="8.43" height="5.82" fill="#b9b8c1"/>
<rect x="215.41" y="563.01" width="8.43" height="5.82" fill="#b9b8c1"/>
<rect x="224.84" y="563.01" width="8.43" height="5.82" fill="#b9b8c1"/>
<rect x="234.27" y="563.01" width="8.43" height="5.82" fill="#b9b8c1"/>
<rect x="243.70" y="563.01" width="8.43" height="5.82" fill="#b9b8c1"/>
<rect x="55.10" y="569.83" width="8.43" height="5.82" fill="#b9b8c1"/>
<rect x="64.53" y="569.83" width="8.43" height="5.82" fill="#b9b8c1"/>
<rect x="73.96" y="569.83" width="8.43" height="5.82" fill="#b9b8c1"/>
<rect x="83.39" y="569.83" width="8.43" height="5.82" fill="#b9b8c1"/>
<rect x="92.82" y="569.83" width="8.43" height="5.82" fill="#b9b8c1"/>
<rect x="102.25" y="569.83" width="8.43" height="5.82" fill="#b9b8c1"/>
<rect x="111.68" y="569.83" width="8.43" height="5.82" fill="#b9b8c1"/>
<rect x="121.11" y="569.83" width="8.43" height="5.82" fill="#b9b8c1"/>
<rect x="130.54" y="569.83" width="8.43" height="5.82" fill="#b9b8c1"/>
<rect x="139.97" y="569.83" width="8.43" height="5.82" fill="#b9b8c1"/>
<rect x="149.40" y="569.83" width="8.43" height="5.82" fill="#b9b8c1"/>
<rect x="158.83" y="569.83" width="8.43" height="5.82" fill="#b9b8c1"/>
<rect x="168.26" y="569.83" width="8.43" height="5.82" fill="#b9b8c1"/>
<rect x="177.69" y="569.83" width="8.43" height="5.82" fill="#b9b8c1"/>
<rect x="187.12" y="569.83" width="8.43" height="5.82" fill="#b9b8c1"/>
<rect x="196.55" y="569.83" width="8.43" height="5.82" fill="#b9b8c1"/>
<rect x="205.98" y="569.83" width="8.43" height="5.82" fill="#b9b8c1"/>
<rect x="215.41" y="569.83" width="8.43" height="5.82" fill="#b9b8c1"/>
<rect x="224.84" y="569.83" width="8.43" height="5.82" fill="#b9b8c1"/>
<rect x="234.27" y="569.83" width="8.43" height="5.82" fill="#b9b8c1"/>
<rect x="243.70" y="569.83" width="8.43" height="5.82" fill="#b9b8c1"/>
<rect x="55.10" y="576.64" width="8.43" height="5.82" fill="#b9b8c1"/>
<rect x="64.53" y="576.64" width="8.43" height="5.82" fill="#b9b8c1"/>
<rect x="73.96" y="576.64" width="8.43" height="5.82" fill="#b9b8c1"/>
<rect x="83.39" y="576.64" width="8.43" height="5.82" fill="#b9b8c1"/>
<rect x="92.82" y="576.64" width="8.43" height="5.82" fill="#b9b8c1"/>
<rect x="102.25" y="576.64" width="8.43" height="5.82" fill="#b9b8c1"/>
<rect x="111.68" y="576.64" width="8.43" height="5.82" fill="#b9b8c1"/>
<rect x="121.11" y="576.64" width="8.43" height="5.82" fill="#b9b8c1"/>
<rect x="130.54" y="576.64" width="8.43" height="5.82" fill="#b9b8c1"/>
<rect x="139.97" y="576.64" width="8.43" height="5.82" fill="#b9b8c1"/>
<rect x="149.40" y="576.64" width="8.43" height="5.82" fill="#b9b8c1"/>
<rect x="158.83" y="576.64" width="8.43" height="5.82" fill="#b9b8c1"/>
<rect x="168.26" y="576.64" width="8.43" height="5.82" fill="#b9b8c1"/>
<rect x="177.69" y="576.64" width="8.43" height="5.82" fill="#b9b8c1"/>
<rect x="187.12" y="576.64" width="8.43" height="5.82" fill="#b9b8c1"/>
<rect x="196.55" y="576.64" width="8.43" height="5.82" fill="#b9b8c1"/>
<rect x="205.98" y="576.64" width="8.43" height="5.82" fill="#b9b8c1"/>
<rect x="215.41" y="576.64" width="8.43" height="5.82" fill="#b9b8c1"/>
<rect x="224.84" y="576.64" width="8.43" height="5.82" fill="#b9b8c1"/>
<rect x="234.27" y="576.64" width="8.43" height="5.82" fill="#b9b8c1"/>
<rect x="243.70" y="576.64" width="8.43" height="5.82" fill="#b9b8c1"/>
<rect x="55.10" y="583.46" width="8.43" height="5.82" fill="#b9b8c1"/>
<rect x="64.53" y="583.46" width="8.43" height="5.82" fill="#b9b8c1"/>
<rect x="73.96" y="583.46" width="8.43" height="5.82" fill="#b9b8c1"/>
<rect x="83.39" y="583.46" width="8.43" height="5.82" fill="#b9b8c1"/>
<rect x="92.82" y="583.46" width="8.43" height="5.82" fill="#b9b8c1"/>
<rect x="102.25" y="583.46" width="8.43" height="5.82" fill="#b9b8c1"/>
<rect x="111.68" y="583.46" width="8.43" height="5.82" fill="#b9b8c1"/>
<rect x="121.11" y="583.46" width="8.43" height="5.82" fill="#b9b8c1"/>
<rect x="130.54" y="583.46" width="8.43" height="5.82" fill="#b9b8c1"/>
<rect x="139.97" y="583.46" width="8.43" height="5.82" fill="#b9b8c1"/>
<rect x="149.40" y="583.46" width="8.43" height="5.82" fill="#b9b8c1"/>
<rect x="158.83" y="583.46" width="8.43" height="5.82" fill="#b9b8c1"/>
<rect x="168.26" y="583.46" width="8.43" height="5.82" fill="#b9b8c1"/>
<rect x="177.69" y="583.46" width="8.43" height="5.82" fill="#b9b8c1"/>
<rect x="187.12" y="583.46" width="8.43" height="5.82" fill="#b9b8c1"/>
<rect x="196.55" y="583.46" width="8.43" height="5.82" fill="#b9b8c1"/>
<rect x="205.98" y="583.46" width="8.43" height="5.82" fill="#b9b8c1"/>
<rect x="215.41" y="583.46" width="8.43" height="5.82" fill="#b9b8c1"/>
<rect x="224.84" y="583.46" width="8.43" height="5.82" fill="#b9b8c1"/>
<rect x="234.27" y="583.46" width="8.43" height="5.82" fill="#b9b8c1"/>
<rect x="243.70" y="583.46" width="8.43" height="5.82" fill="#b9b8c1"/>
<rect x="55.10" y="590.27" width="8.43" height="5.82" fill="#b9b8c1"/>
<rect x="64.53" y="590.27" width="8.43" height="5.82" fill="#b9b8c1"/>
<rect x="73.96" y="590.27" width="8.43" height="5.82" fill="#b9b8c1"/>
<rect x="83.39" y="590.27" width="8.43" height="5.82" fill="#b9b8c1"/>
<rect x="92.82" y="590.27" width="8.43" height="5.82" fill="#b9b8c1"/>
<rect x="102.25" y="590.27" width="8.43" height="5.82" fill="#b9b8c1"/>
<rect x="111.68" y="590.27" width="8.43" height="5.82" fill="#b9b8c1"/>
<rect x="121.11" y="590.27" width="8.43" height="5.82" fill="#b9b8c1"/>
<rect x="130.54" y="590.27" width="8.43" height="5.82" fill="#b9b8c1"/>
<rect x="139.97" y="590.27" width="8.43" height="5.82" fill="#b9b8c1"/>
<rect x="149.40" y="590.27" width="8.43" height="5.82" fill="#b9b8c1"/>
<rect x="158.83" y="590.27" width="8.43" height="5.82" fill="#b9b8c1"/>
<rect x="168.26" y="590.27" width="8.43" height="5.82" fill="#b9b8c1"/>
<rect x="177.69" y="590.27" width="8.43" height="5.82" fill="#b9b8c1"/>
<rect x="187.12" y="590.27" width="8.43" height="5.82" fill="#b9b8c1"/>
<rect x="196.55" y="590.27" width="8.43" height="5.82" fill="#b9b8c1"/>
<rect x="205.98" y="590.27" width="8.43" height="5.82" fill="#b9b8c1"/>
<rect x="215.41" y="590.27" width="8.43" height="5.82" fill="#b9b8c1"/>
<rect x="224.84" y="590.27" width="8.43" height="5.82" fill="#b9b8c1"/>
<rect x="234.27" y="590.27" width="8.43" height="5.82" fill="#b9b8c1"/>
<rect x="243.70" y="590.27" width="8.43" height="5.82" fill="#b9b8c1"/>
<rect x="55.10" y="597.09" width="8.43" height="5.82" fill="#b9b8c1"/>
<rect x="64.53" y="597.09" width="8.43" height="5.82" fill="#b9b8c1"/>
<rect x="73.96" y="597.09" width="8.43" height="5.82" fill="#b9b8c1"/>
<rect x="83.39" y="597.09" width="8.43" height="5.82" fill="#b9b8c1"/>
<rect x="92.82" y="597.09" width="8.43" height="5.82" fill="#b9b8c1"/>
<rect x="102.25" y="597.09" width="8.43" height="5.82" fill="#b9b8c1"/>
<rect x="111.68" y="597.09" width="8.43" height="5.82" fill="#b9b8c1"/>
<rect x="121.11" y="597.09" width="8.43" height="5.82" fill="#b9b8c1"/>
<rect x="130.54" y="597.09" width="8.43" height="5.82" fill="#b9b8c1"/>
<rect x="139.97" y="597.09" width="8.43" height="5.82" fill="#b9b8c1"/>
<rect x="149.40" y="597.09" width="8.43" height="5.82" fill="#b9b8c1"/>
<rect x="158.83" y="597.09" width="8.43" height="5.82" fill="#b9b8c1"/>
<rect x="168.26" y="597.09" width="8.43" height="5.82" fill="#b9b8c1"/>
<rect x="177.69" y="597.09" width="8.43" height="5.82" fill="#b9b8c1"/>
<rect x="187.12" y="597.09" width="8.43" height="5.82" fill="#b9b8c1"/>
<rect x="196.55" y="597.09" width="8.43" height="5.82" fill="#b9b8c1"/>
<rect x="205.98" y="597.09" width="8.43" height="5.82" fill="#b9b8c1"/>
<rect x="215.41" y="597.09" width="8.43" height="5.82" fill="#b9b8c1"/>
<rect x="224.84" y="597.09" width="8.43" height="5.82" fill="#b9b8c1"/>
<rect x="234.27" y="597.09" width="8.43" height="5.82" fill="#b9b8c1"/>
<rect x="243.70" y="597.09" width="8.43" height="5.82" fill="#b9b8c1"/>
<rect x="83.39" y="467.60" width="8.43" height="5.82" fill="#a0142e"/>
<circle cx="87.61" cy="470.51" r="0.9" fill="#fff"/>
<rect x="149.40" y="467.60" width="8.43" height="5.82" fill="#a0142e"/>
<rect x="168.26" y="467.60" width="8.43" height="5.82" fill="#2a1458"/>
<rect x="177.69" y="467.60" width="8.43" height="5.82" fill="#a0142e"/>
<circle cx="181.91" cy="470.51" r="0.9" fill="#fff"/>
<rect x="205.98" y="467.60" width="8.43" height="5.82" fill="#1f2f6e"/>
<rect x="102.25" y="474.42" width="8.43" height="5.82" fill="#4f9a2f"/>
<rect x="130.54" y="474.42" width="8.43" height="5.82" fill="#4f9a2f"/>
<circle cx="134.75" cy="477.32" r="0.9" fill="#111"/>
<rect x="187.12" y="474.42" width="8.43" height="5.82" fill="#e8b823"/>
<rect x="196.55" y="474.42" width="8.43" height="5.82" fill="#e8b823"/>
<rect x="234.27" y="474.42" width="8.43" height="5.82" fill="#e8b823"/>
<rect x="55.10" y="481.23" width="8.43" height="5.82" fill="#a0142e"/>
<circle cx="59.31" cy="484.14" r="0.9" fill="#fff"/>
<rect x="102.25" y="481.23" width="8.43" height="5.82" fill="#4f9a2f"/>
<circle cx="106.47" cy="484.14" r="0.9" fill="#111"/>
<rect x="121.11" y="481.23" width="8.43" height="5.82" fill="#4f9a2f"/>
<circle cx="125.32" cy="484.14" r="0.9" fill="#111"/>
<rect x="149.40" y="481.23" width="8.43" height="5.82" fill="#4f9a2f"/>
<circle cx="153.62" cy="484.14" r="0.9" fill="#111"/>
<rect x="168.26" y="481.23" width="8.43" height="5.82" fill="#3c4150"/>
<circle cx="172.47" cy="484.14" r="0.9" fill="#fff"/>
<rect x="73.96" y="488.05" width="8.43" height="5.82" fill="#4f9a2f"/>
<rect x="243.70" y="488.05" width="8.43" height="5.82" fill="#4f9a2f"/>
<rect x="224.84" y="494.86" width="8.43" height="5.82" fill="#e8b823"/>
<circle cx="229.06" cy="497.77" r="0.9" fill="#111"/>
<rect x="243.70" y="494.86" width="8.43" height="5.82" fill="#4f9a2f"/>
<circle cx="247.91" cy="497.77" r="0.9" fill="#111"/>
<rect x="187.12" y="501.68" width="8.43" height="5.82" fill="#4f9a2f"/>
<circle cx="191.33" cy="504.58" r="0.9" fill="#111"/>
<rect x="243.70" y="501.68" width="8.43" height="5.82" fill="#e8b823"/>
<circle cx="247.91" cy="504.58" r="0.9" fill="#111"/>
<rect x="243.70" y="508.49" width="8.43" height="5.82" fill="#2a1458"/>
<rect x="111.68" y="515.31" width="8.43" height="5.82" fill="#4f9a2f"/>
<circle cx="115.90" cy="518.21" r="0.9" fill="#111"/>
<rect x="234.27" y="515.31" width="8.43" height="5.82" fill="#4f9a2f"/>
<rect x="73.96" y="522.12" width="8.43" height="5.82" fill="#4f9a2f"/>
<rect x="224.84" y="522.12" width="8.43" height="5.82" fill="#4f9a2f"/>
<circle cx="229.06" cy="525.03" r="0.9" fill="#111"/>
<rect x="92.82" y="528.94" width="8.43" height="5.82" fill="#4f9a2f"/>
<circle cx="97.03" cy="531.84" r="0.9" fill="#111"/>
<rect x="177.69" y="528.94" width="8.43" height="5.82" fill="#c0187e"/>
<circle cx="181.91" cy="531.84" r="0.9" fill="#fff"/>
<rect x="55.10" y="535.75" width="8.43" height="5.82" fill="#4f9a2f"/>
<circle cx="59.31" cy="538.66" r="0.9" fill="#111"/>
<rect x="234.27" y="542.57" width="8.43" height="5.82" fill="#4f9a2f"/>
<circle cx="238.48" cy="545.47" r="0.9" fill="#111"/>
<rect x="158.83" y="549.38" width="8.43" height="5.82" fill="#4f9a2f"/>
<circle cx="163.04" cy="552.29" r="0.9" fill="#111"/>
<rect x="224.84" y="549.38" width="8.43" height="5.82" fill="#4f9a2f"/>
<circle cx="229.06" cy="552.29" r="0.9" fill="#111"/>
<rect x="121.11" y="556.20" width="8.43" height="5.82" fill="#4f9a2f"/>
<circle cx="125.32" cy="559.10" r="0.9" fill="#111"/>
<rect x="55.10" y="563.01" width="8.43" height="5.82" fill="#4f9a2f"/>
<rect x="121.11" y="569.83" width="8.43" height="5.82" fill="#4f9a2f"/>
<circle cx="125.32" cy="572.73" r="0.9" fill="#111"/>
<rect x="215.41" y="576.64" width="8.43" height="5.82" fill="#4f9a2f"/>
<circle cx="219.62" cy="579.55" r="0.9" fill="#111"/>
<rect x="111.68" y="583.46" width="8.43" height="5.82" fill="#4f9a2f"/>
<circle cx="115.90" cy="586.36" r="0.9" fill="#111"/>
<rect x="215.41" y="590.27" width="8.43" height="5.82" fill="#4f9a2f"/>
<circle cx="219.62" cy="593.18" r="0.9" fill="#111"/>
<rect x="215.41" y="597.09" width="8.43" height="5.82" fill="#4f9a2f"/>
<circle cx="219.62" cy="599.99" r="0.9" fill="#111"/>
<line x1="130.04" y1="467.10" x2="130.04" y2="603.40" stroke="#1c1c1c" stroke-width="1.0"/>
<line x1="196.05" y1="467.10" x2="196.05" y2="603.40" stroke="#1c1c1c" stroke-width="1.0"/>
<rect x="54.60" y="467.10" width="198.03" height="136.30" fill="none" stroke="#1c1c1c" stroke-width="1.1"/>
<line x1="51.40" y1="470.51" x2="54.60" y2="470.51" stroke="#1c1c1c" stroke-width="0.9"/>
<text x="48.10" y="472.88" font-size="6.6" fill="#1e1e1e" text-anchor="end" font-style="italic" stroke="#1e1e1e" stroke-width="0.12">ASXL1</text>
<line x1="51.40" y1="477.32" x2="54.60" y2="477.32" stroke="#1c1c1c" stroke-width="0.9"/>
<text x="48.10" y="479.70" font-size="6.6" fill="#1e1e1e" text-anchor="end" font-style="italic" stroke="#1e1e1e" stroke-width="0.12">SETD1B</text>
<line x1="51.40" y1="484.14" x2="54.60" y2="484.14" stroke="#1c1c1c" stroke-width="0.9"/>
<text x="48.10" y="486.51" font-size="6.6" fill="#1e1e1e" text-anchor="end" font-style="italic" stroke="#1e1e1e" stroke-width="0.12">TET2</text>
<line x1="51.40" y1="490.95" x2="54.60" y2="490.95" stroke="#1c1c1c" stroke-width="0.9"/>
<text x="48.10" y="493.33" font-size="6.6" fill="#1e1e1e" text-anchor="end" font-style="italic" stroke="#1e1e1e" stroke-width="0.12">SETBP1</text>
<line x1="51.40" y1="497.77" x2="54.60" y2="497.77" stroke="#1c1c1c" stroke-width="0.9"/>
<text x="48.10" y="500.14" font-size="6.6" fill="#1e1e1e" text-anchor="end" font-style="italic" stroke="#1e1e1e" stroke-width="0.12">KMT2D</text>
<line x1="51.40" y1="504.58" x2="54.60" y2="504.58" stroke="#1c1c1c" stroke-width="0.9"/>
<text x="48.10" y="506.96" font-size="6.6" fill="#1e1e1e" text-anchor="end" font-style="italic" stroke="#1e1e1e" stroke-width="0.12">CBX4</text>
<line x1="51.40" y1="511.40" x2="54.60" y2="511.40" stroke="#1c1c1c" stroke-width="0.9"/>
<text x="48.10" y="513.77" font-size="6.6" fill="#1e1e1e" text-anchor="end" font-style="italic" stroke="#1e1e1e" stroke-width="0.12">IKZF1</text>
<line x1="51.40" y1="518.21" x2="54.60" y2="518.21" stroke="#1c1c1c" stroke-width="0.9"/>
<text x="48.10" y="520.59" font-size="6.6" fill="#1e1e1e" text-anchor="end" font-style="italic" stroke="#1e1e1e" stroke-width="0.12">KMT2E</text>
<line x1="51.40" y1="525.03" x2="54.60" y2="525.03" stroke="#1c1c1c" stroke-width="0.9"/>
<text x="48.10" y="527.40" font-size="6.6" fill="#1e1e1e" text-anchor="end" font-style="italic" stroke="#1e1e1e" stroke-width="0.12">CBLB</text>
<line x1="51.40" y1="531.84" x2="54.60" y2="531.84" stroke="#1c1c1c" stroke-width="0.9"/>
<text x="48.10" y="534.22" font-size="6.6" fill="#1e1e1e" text-anchor="end" font-style="italic" stroke="#1e1e1e" stroke-width="0.12">CREBBP</text>
<line x1="51.40" y1="538.66" x2="54.60" y2="538.66" stroke="#1c1c1c" stroke-width="0.9"/>
<text x="48.10" y="541.03" font-size="6.6" fill="#1e1e1e" text-anchor="end" font-style="italic" stroke="#1e1e1e" stroke-width="0.12">NBEAL2</text>
<line x1="51.40" y1="545.47" x2="54.60" y2="545.47" stroke="#1c1c1c" stroke-width="0.9"/>
<text x="48.10" y="547.85" font-size="6.6" fill="#1e1e1e" text-anchor="end" font-style="italic" stroke="#1e1e1e" stroke-width="0.12">EP300</text>
<line x1="51.40" y1="552.29" x2="54.60" y2="552.29" stroke="#1c1c1c" stroke-width="0.9"/>
<text x="48.10" y="554.66" font-size="6.6" fill="#1e1e1e" text-anchor="end" font-style="italic" stroke="#1e1e1e" stroke-width="0.12">CBX8</text>
<line x1="51.40" y1="559.10" x2="54.60" y2="559.10" stroke="#1c1c1c" stroke-width="0.9"/>
<text x="48.10" y="561.48" font-size="6.6" fill="#1e1e1e" text-anchor="end" font-style="italic" stroke="#1e1e1e" stroke-width="0.12">BCORL1</text>
<line x1="51.40" y1="565.92" x2="54.60" y2="565.92" stroke="#1c1c1c" stroke-width="0.9"/>
<text x="48.10" y="568.29" font-size="6.6" fill="#1e1e1e" text-anchor="end" font-style="italic" stroke="#1e1e1e" stroke-width="0.12">WT1</text>
<line x1="51.40" y1="572.73" x2="54.60" y2="572.73" stroke="#1c1c1c" stroke-width="0.9"/>
<text x="48.10" y="575.11" font-size="6.6" fill="#1e1e1e" text-anchor="end" font-style="italic" stroke="#1e1e1e" stroke-width="0.12">DNMT3A</text>
<line x1="51.40" y1="579.55" x2="54.60" y2="579.55" stroke="#1c1c1c" stroke-width="0.9"/>
<text x="48.10" y="581.92" font-size="6.6" fill="#1e1e1e" text-anchor="end" font-style="italic" stroke="#1e1e1e" stroke-width="0.12">SETD2</text>
<line x1="51.40" y1="586.36" x2="54.60" y2="586.36" stroke="#1c1c1c" stroke-width="0.9"/>
<text x="48.10" y="588.74" font-size="6.6" fill="#1e1e1e" text-anchor="end" font-style="italic" stroke="#1e1e1e" stroke-width="0.12">ZCCHC7</text>
<line x1="51.40" y1="593.18" x2="54.60" y2="593.18" stroke="#1c1c1c" stroke-width="0.9"/>
<text x="48.10" y="595.55" font-size="6.6" fill="#1e1e1e" text-anchor="end" font-style="italic" stroke="#1e1e1e" stroke-width="0.12">L3MBTL3</text>
<line x1="51.40" y1="599.99" x2="54.60" y2="599.99" stroke="#1c1c1c" stroke-width="0.9"/>
<text x="48.10" y="602.37" font-size="6.6" fill="#1e1e1e" text-anchor="end" font-style="italic" stroke="#1e1e1e" stroke-width="0.12">SFMBT2</text>
<line x1="59.31" y1="603.40" x2="59.31" y2="606.80" stroke="#1c1c1c" stroke-width="0.9"/>
<text x="62.91" y="613.20" font-size="6.6" fill="#1e1e1e" text-anchor="end" transform="rotate(-45 62.91 613.20)" stroke="#1e1e1e" stroke-width="0.1">P625</text>
<line x1="68.75" y1="603.40" x2="68.75" y2="606.80" stroke="#1c1c1c" stroke-width="0.9"/>
<text x="72.34" y="613.20" font-size="6.6" fill="#1e1e1e" text-anchor="end" transform="rotate(-45 72.34 613.20)" stroke="#1e1e1e" stroke-width="0.1">P631</text>
<line x1="78.18" y1="603.40" x2="78.18" y2="606.80" stroke="#1c1c1c" stroke-width="0.9"/>
<text x="81.78" y="613.20" font-size="6.6" fill="#1e1e1e" text-anchor="end" transform="rotate(-45 81.78 613.20)" stroke="#1e1e1e" stroke-width="0.1">P654</text>
<line x1="87.61" y1="603.40" x2="87.61" y2="606.80" stroke="#1c1c1c" stroke-width="0.9"/>
<text x="91.20" y="613.20" font-size="6.6" fill="#1e1e1e" text-anchor="end" transform="rotate(-45 91.20 613.20)" stroke="#1e1e1e" stroke-width="0.1">P677</text>
<line x1="97.03" y1="603.40" x2="97.03" y2="606.80" stroke="#1c1c1c" stroke-width="0.9"/>
<text x="100.63" y="613.20" font-size="6.6" fill="#1e1e1e" text-anchor="end" transform="rotate(-45 100.63 613.20)" stroke="#1e1e1e" stroke-width="0.1">P685</text>
<line x1="106.47" y1="603.40" x2="106.47" y2="606.80" stroke="#1c1c1c" stroke-width="0.9"/>
<text x="110.06" y="613.20" font-size="6.6" fill="#1e1e1e" text-anchor="end" transform="rotate(-45 110.06 613.20)" stroke="#1e1e1e" stroke-width="0.1">P713</text>
<line x1="115.90" y1="603.40" x2="115.90" y2="606.80" stroke="#1c1c1c" stroke-width="0.9"/>
<text x="119.50" y="613.20" font-size="6.6" fill="#1e1e1e" text-anchor="end" transform="rotate(-45 119.50 613.20)" stroke="#1e1e1e" stroke-width="0.1">P735</text>
<line x1="125.32" y1="603.40" x2="125.32" y2="606.80" stroke="#1c1c1c" stroke-width="0.9"/>
<text x="128.92" y="613.20" font-size="6.6" fill="#1e1e1e" text-anchor="end" transform="rotate(-45 128.92 613.20)" stroke="#1e1e1e" stroke-width="0.1">P742</text>
<line x1="134.75" y1="603.40" x2="134.75" y2="606.80" stroke="#1c1c1c" stroke-width="0.9"/>
<text x="138.35" y="613.20" font-size="6.6" fill="#1e1e1e" text-anchor="end" transform="rotate(-45 138.35 613.20)" stroke="#1e1e1e" stroke-width="0.1">P160</text>
<line x1="144.19" y1="603.40" x2="144.19" y2="606.80" stroke="#1c1c1c" stroke-width="0.9"/>
<text x="147.78" y="613.20" font-size="6.6" fill="#1e1e1e" text-anchor="end" transform="rotate(-45 147.78 613.20)" stroke="#1e1e1e" stroke-width="0.1">P170</text>
<line x1="153.62" y1="603.40" x2="153.62" y2="606.80" stroke="#1c1c1c" stroke-width="0.9"/>
<text x="157.22" y="613.20" font-size="6.6" fill="#1e1e1e" text-anchor="end" transform="rotate(-45 157.22 613.20)" stroke="#1e1e1e" stroke-width="0.1">P312</text>
<line x1="163.04" y1="603.40" x2="163.04" y2="606.80" stroke="#1c1c1c" stroke-width="0.9"/>
<text x="166.64" y="613.20" font-size="6.6" fill="#1e1e1e" text-anchor="end" transform="rotate(-45 166.64 613.20)" stroke="#1e1e1e" stroke-width="0.1">P387</text>
<line x1="172.47" y1="603.40" x2="172.47" y2="606.80" stroke="#1c1c1c" stroke-width="0.9"/>
<text x="176.07" y="613.20" font-size="6.6" fill="#1e1e1e" text-anchor="end" transform="rotate(-45 176.07 613.20)" stroke="#1e1e1e" stroke-width="0.1">P464</text>
<line x1="181.91" y1="603.40" x2="181.91" y2="606.80" stroke="#1c1c1c" stroke-width="0.9"/>
<text x="185.50" y="613.20" font-size="6.6" fill="#1e1e1e" text-anchor="end" transform="rotate(-45 185.50 613.20)" stroke="#1e1e1e" stroke-width="0.1">P489</text>
<line x1="191.33" y1="603.40" x2="191.33" y2="606.80" stroke="#1c1c1c" stroke-width="0.9"/>
<text x="194.93" y="613.20" font-size="6.6" fill="#1e1e1e" text-anchor="end" transform="rotate(-45 194.93 613.20)" stroke="#1e1e1e" stroke-width="0.1">P687</text>
<line x1="200.76" y1="603.40" x2="200.76" y2="606.80" stroke="#1c1c1c" stroke-width="0.9"/>
<text x="204.36" y="613.20" font-size="6.6" fill="#1e1e1e" text-anchor="end" transform="rotate(-45 204.36 613.20)" stroke="#1e1e1e" stroke-width="0.1">BM157</text>
<line x1="210.19" y1="603.40" x2="210.19" y2="606.80" stroke="#1c1c1c" stroke-width="0.9"/>
<text x="213.79" y="613.20" font-size="6.6" fill="#1e1e1e" text-anchor="end" transform="rotate(-45 213.79 613.20)" stroke="#1e1e1e" stroke-width="0.1">LEU9</text>
<line x1="219.62" y1="603.40" x2="219.62" y2="606.80" stroke="#1c1c1c" stroke-width="0.9"/>
<text x="223.22" y="613.20" font-size="6.6" fill="#1e1e1e" text-anchor="end" transform="rotate(-45 223.22 613.20)" stroke="#1e1e1e" stroke-width="0.1">P147</text>
<line x1="229.06" y1="603.40" x2="229.06" y2="606.80" stroke="#1c1c1c" stroke-width="0.9"/>
<text x="232.66" y="613.20" font-size="6.6" fill="#1e1e1e" text-anchor="end" transform="rotate(-45 232.66 613.20)" stroke="#1e1e1e" stroke-width="0.1">P309</text>
<line x1="238.48" y1="603.40" x2="238.48" y2="606.80" stroke="#1c1c1c" stroke-width="0.9"/>
<text x="242.08" y="613.20" font-size="6.6" fill="#1e1e1e" text-anchor="end" transform="rotate(-45 242.08 613.20)" stroke="#1e1e1e" stroke-width="0.1">P430</text>
<line x1="247.91" y1="603.40" x2="247.91" y2="606.80" stroke="#1c1c1c" stroke-width="0.9"/>
<text x="251.51" y="613.20" font-size="6.6" fill="#1e1e1e" text-anchor="end" transform="rotate(-45 251.51 613.20)" stroke="#1e1e1e" stroke-width="0.1">P605</text>
<rect x="68.20" y="633.30" width="4.60" height="4.60" fill="#5f9640"/>
<text x="76.00" y="638.20" font-size="7.4" fill="#333" textLength="51.10" lengthAdjust="spacingAndGlyphs">Missense mutation</text>
<rect x="68.20" y="643.12" width="4.60" height="4.60" fill="#1e3258"/>
<text x="76.00" y="648.02" font-size="7.4" fill="#333" textLength="53.40" lengthAdjust="spacingAndGlyphs">Frameshift deletion</text>
<rect x="68.20" y="652.94" width="4.60" height="4.60" fill="#64192a"/>
<text x="76.00" y="657.84" font-size="7.4" fill="#333" textLength="53.40" lengthAdjust="spacingAndGlyphs">Nonsense mutation</text>
<rect x="68.20" y="662.76" width="4.60" height="4.60" fill="#2d1438"/>
<text x="76.00" y="667.66" font-size="7.4" fill="#333" textLength="54.20" lengthAdjust="spacingAndGlyphs">Frameshift insertion</text>
<rect x="68.20" y="672.58" width="4.60" height="4.60" fill="#d7aa3c"/>
<text x="76.00" y="677.48" font-size="7.4" fill="#333" textLength="45.20" lengthAdjust="spacingAndGlyphs">Inframe deletion</text>
<rect x="68.20" y="682.40" width="4.60" height="4.60" fill="#aa1478"/>
<text x="76.00" y="687.30" font-size="7.4" fill="#333" textLength="46.50" lengthAdjust="spacingAndGlyphs">Inframe insertion</text>
<rect x="68.20" y="692.22" width="4.60" height="4.60" fill="#32323c"/>
<text x="76.00" y="697.12" font-size="7.4" fill="#333" textLength="23.40" lengthAdjust="spacingAndGlyphs">Multi-hit</text>
<text x="135.80" y="638.40" font-size="7.6" fill="#333" textLength="102.30" lengthAdjust="spacingAndGlyphs">Asterisk indicates the detection of</text>
<text x="135.80" y="646.50" font-size="7.6" fill="#333" textLength="94.00" lengthAdjust="spacingAndGlyphs">mutation in scRNA-seq dataset</text>
<text x="316.00" y="454.60" font-size="9" fill="#222" textLength="195.30" lengthAdjust="spacingAndGlyphs">Detection of expressed mutations across clusters</text>
<line x1="316.00" y1="459.50" x2="512.00" y2="459.50" stroke="#222" stroke-width="1.2"/>
<rect x="314.40" y="467.30" width="198.45" height="135.90" fill="#f4f4f6"/>
<rect x="314.90" y="467.80" width="8.45" height="5.79" fill="#b9b8c1"/>
<rect x="324.35" y="467.80" width="8.45" height="5.79" fill="#b9b8c1"/>
<rect x="333.80" y="467.80" width="8.45" height="5.79" fill="#b9b8c1"/>
<rect x="343.25" y="467.80" width="8.45" height="5.79" fill="#b9b8c1"/>
<rect x="352.70" y="467.80" width="8.45" height="5.79" fill="#b9b8c1"/>
<rect x="362.15" y="467.80" width="8.45" height="5.79" fill="#b9b8c1"/>
<rect x="371.60" y="467.80" width="8.45" height="5.79" fill="#b9b8c1"/>
<rect x="381.05" y="467.80" width="8.45" height="5.79" fill="#b9b8c1"/>
<rect x="390.50" y="467.80" width="8.45" height="5.79" fill="#b9b8c1"/>
<rect x="399.95" y="467.80" width="8.45" height="5.79" fill="#b9b8c1"/>
<rect x="409.40" y="467.80" width="8.45" height="5.79" fill="#b9b8c1"/>
<rect x="418.85" y="467.80" width="8.45" height="5.79" fill="#b9b8c1"/>
<rect x="428.30" y="467.80" width="8.45" height="5.79" fill="#b9b8c1"/>
<rect x="437.75" y="467.80" width="8.45" height="5.79" fill="#b9b8c1"/>
<rect x="447.20" y="467.80" width="8.45" height="5.79" fill="#b9b8c1"/>
<rect x="456.65" y="467.80" width="8.45" height="5.79" fill="#b9b8c1"/>
<rect x="466.10" y="467.80" width="8.45" height="5.79" fill="#b9b8c1"/>
<rect x="475.55" y="467.80" width="8.45" height="5.79" fill="#b9b8c1"/>
<rect x="485.00" y="467.80" width="8.45" height="5.79" fill="#b9b8c1"/>
<rect x="494.45" y="467.80" width="8.45" height="5.79" fill="#b9b8c1"/>
<rect x="503.90" y="467.80" width="8.45" height="5.79" fill="#b9b8c1"/>
<rect x="314.90" y="474.60" width="8.45" height="5.79" fill="#b9b8c1"/>
<rect x="324.35" y="474.60" width="8.45" height="5.79" fill="#b9b8c1"/>
<rect x="333.80" y="474.60" width="8.45" height="5.79" fill="#b9b8c1"/>
<rect x="343.25" y="474.60" width="8.45" height="5.79" fill="#b9b8c1"/>
<rect x="352.70" y="474.60" width="8.45" height="5.79" fill="#b9b8c1"/>
<rect x="362.15" y="474.60" width="8.45" height="5.79" fill="#b9b8c1"/>
<rect x="371.60" y="474.60" width="8.45" height="5.79" fill="#b9b8c1"/>
<rect x="381.05" y="474.60" width="8.45" height="5.79" fill="#b9b8c1"/>
<rect x="390.50" y="474.60" width="8.45" height="5.79" fill="#b9b8c1"/>
<rect x="399.95" y="474.60" width="8.45" height="5.79" fill="#b9b8c1"/>
<rect x="409.40" y="474.60" width="8.45" height="5.79" fill="#b9b8c1"/>
<rect x="418.85" y="474.60" width="8.45" height="5.79" fill="#b9b8c1"/>
<rect x="428.30" y="474.60" width="8.45" height="5.79" fill="#b9b8c1"/>
<rect x="437.75" y="474.60" width="8.45" height="5.79" fill="#b9b8c1"/>
<rect x="447.20" y="474.60" width="8.45" height="5.79" fill="#b9b8c1"/>
<rect x="456.65" y="474.60" width="8.45" height="5.79" fill="#b9b8c1"/>
<rect x="466.10" y="474.60" width="8.45" height="5.79" fill="#b9b8c1"/>
<rect x="475.55" y="474.60" width="8.45" height="5.79" fill="#b9b8c1"/>
<rect x="485.00" y="474.60" width="8.45" height="5.79" fill="#b9b8c1"/>
<rect x="494.45" y="474.60" width="8.45" height="5.79" fill="#b9b8c1"/>
<rect x="503.90" y="474.60" width="8.45" height="5.79" fill="#b9b8c1"/>
<rect x="314.90" y="481.39" width="8.45" height="5.79" fill="#b9b8c1"/>
<rect x="324.35" y="481.39" width="8.45" height="5.79" fill="#b9b8c1"/>
<rect x="333.80" y="481.39" width="8.45" height="5.79" fill="#b9b8c1"/>
<rect x="343.25" y="481.39" width="8.45" height="5.79" fill="#b9b8c1"/>
<rect x="352.70" y="481.39" width="8.45" height="5.79" fill="#b9b8c1"/>
<rect x="362.15" y="481.39" width="8.45" height="5.79" fill="#b9b8c1"/>
<rect x="371.60" y="481.39" width="8.45" height="5.79" fill="#b9b8c1"/>
<rect x="381.05" y="481.39" width="8.45" height="5.79" fill="#b9b8c1"/>
<rect x="390.50" y="481.39" width="8.45" height="5.79" fill="#b9b8c1"/>
<rect x="399.95" y="481.39" width="8.45" height="5.79" fill="#b9b8c1"/>
<rect x="409.40" y="481.39" width="8.45" height="5.79" fill="#b9b8c1"/>
<rect x="418.85" y="481.39" width="8.45" height="5.79" fill="#b9b8c1"/>
<rect x="428.30" y="481.39" width="8.45" height="5.79" fill="#b9b8c1"/>
<rect x="437.75" y="481.39" width="8.45" height="5.79" fill="#b9b8c1"/>
<rect x="447.20" y="481.39" width="8.45" height="5.79" fill="#b9b8c1"/>
<rect x="456.65" y="481.39" width="8.45" height="5.79" fill="#b9b8c1"/>
<rect x="466.10" y="481.39" width="8.45" height="5.79" fill="#b9b8c1"/>
<rect x="475.55" y="481.39" width="8.45" height="5.79" fill="#b9b8c1"/>
<rect x="485.00" y="481.39" width="8.45" height="5.79" fill="#b9b8c1"/>
<rect x="494.45" y="481.39" width="8.45" height="5.79" fill="#b9b8c1"/>
<rect x="503.90" y="481.39" width="8.45" height="5.79" fill="#b9b8c1"/>
<rect x="314.90" y="488.19" width="8.45" height="5.79" fill="#b9b8c1"/>
<rect x="324.35" y="488.19" width="8.45" height="5.79" fill="#b9b8c1"/>
<rect x="333.80" y="488.19" width="8.45" height="5.79" fill="#b9b8c1"/>
<rect x="343.25" y="488.19" width="8.45" height="5.79" fill="#b9b8c1"/>
<rect x="352.70" y="488.19" width="8.45" height="5.79" fill="#b9b8c1"/>
<rect x="362.15" y="488.19" width="8.45" height="5.79" fill="#b9b8c1"/>
<rect x="371.60" y="488.19" width="8.45" height="5.79" fill="#b9b8c1"/>
<rect x="381.05" y="488.19" width="8.45" height="5.79" fill="#b9b8c1"/>
<rect x="390.50" y="488.19" width="8.45" height="5.79" fill="#b9b8c1"/>
<rect x="399.95" y="488.19" width="8.45" height="5.79" fill="#b9b8c1"/>
<rect x="409.40" y="488.19" width="8.45" height="5.79" fill="#b9b8c1"/>
<rect x="418.85" y="488.19" width="8.45" height="5.79" fill="#b9b8c1"/>
<rect x="428.30" y="488.19" width="8.45" height="5.79" fill="#b9b8c1"/>
<rect x="437.75" y="488.19" width="8.45" height="5.79" fill="#b9b8c1"/>
<rect x="447.20" y="488.19" width="8.45" height="5.79" fill="#b9b8c1"/>
<rect x="456.65" y="488.19" width="8.45" height="5.79" fill="#b9b8c1"/>
<rect x="466.10" y="488.19" width="8.45" height="5.79" fill="#b9b8c1"/>
<rect x="475.55" y="488.19" width="8.45" height="5.79" fill="#b9b8c1"/>
<rect x="485.00" y="488.19" width="8.45" height="5.79" fill="#b9b8c1"/>
<rect x="494.45" y="488.19" width="8.45" height="5.79" fill="#b9b8c1"/>
<rect x="503.90" y="488.19" width="8.45" height="5.79" fill="#b9b8c1"/>
<rect x="314.90" y="494.98" width="8.45" height="5.79" fill="#b9b8c1"/>
<rect x="324.35" y="494.98" width="8.45" height="5.79" fill="#b9b8c1"/>
<rect x="333.80" y="494.98" width="8.45" height="5.79" fill="#b9b8c1"/>
<rect x="343.25" y="494.98" width="8.45" height="5.79" fill="#b9b8c1"/>
<rect x="352.70" y="494.98" width="8.45" height="5.79" fill="#b9b8c1"/>
<rect x="362.15" y="494.98" width="8.45" height="5.79" fill="#b9b8c1"/>
<rect x="371.60" y="494.98" width="8.45" height="5.79" fill="#b9b8c1"/>
<rect x="381.05" y="494.98" width="8.45" height="5.79" fill="#b9b8c1"/>
<rect x="390.50" y="494.98" width="8.45" height="5.79" fill="#b9b8c1"/>
<rect x="399.95" y="494.98" width="8.45" height="5.79" fill="#b9b8c1"/>
<rect x="409.40" y="494.98" width="8.45" height="5.79" fill="#b9b8c1"/>
<rect x="418.85" y="494.98" width="8.45" height="5.79" fill="#b9b8c1"/>
<rect x="428.30" y="494.98" width="8.45" height="5.79" fill="#b9b8c1"/>
<rect x="437.75" y="494.98" width="8.45" height="5.79" fill="#b9b8c1"/>
<rect x="447.20" y="494.98" width="8.45" height="5.79" fill="#b9b8c1"/>
<rect x="456.65" y="494.98" width="8.45" height="5.79" fill="#b9b8c1"/>
<rect x="466.10" y="494.98" width="8.45" height="5.79" fill="#b9b8c1"/>
<rect x="475.55" y="494.98" width="8.45" height="5.79" fill="#b9b8c1"/>
<rect x="485.00" y="494.98" width="8.45" height="5.79" fill="#b9b8c1"/>
<rect x="494.45" y="494.98" width="8.45" height="5.79" fill="#b9b8c1"/>
<rect x="503.90" y="494.98" width="8.45" height="5.79" fill="#b9b8c1"/>
<rect x="314.90" y="501.78" width="8.45" height="5.79" fill="#b9b8c1"/>
<rect x="324.35" y="501.78" width="8.45" height="5.79" fill="#b9b8c1"/>
<rect x="333.80" y="501.78" width="8.45" height="5.79" fill="#b9b8c1"/>
<rect x="343.25" y="501.78" width="8.45" height="5.79" fill="#b9b8c1"/>
<rect x="352.70" y="501.78" width="8.45" height="5.79" fill="#b9b8c1"/>
<rect x="362.15" y="501.78" width="8.45" height="5.79" fill="#b9b8c1"/>
<rect x="371.60" y="501.78" width="8.45" height="5.79" fill="#b9b8c1"/>
<rect x="381.05" y="501.78" width="8.45" height="5.79" fill="#b9b8c1"/>
<rect x="390.50" y="501.78" width="8.45" height="5.79" fill="#b9b8c1"/>
<rect x="399.95" y="501.78" width="8.45" height="5.79" fill="#b9b8c1"/>
<rect x="409.40" y="501.78" width="8.45" height="5.79" fill="#b9b8c1"/>
<rect x="418.85" y="501.78" width="8.45" height="5.79" fill="#b9b8c1"/>
<rect x="428.30" y="501.78" width="8.45" height="5.79" fill="#b9b8c1"/>
<rect x="437.75" y="501.78" width="8.45" height="5.79" fill="#b9b8c1"/>
<rect x="447.20" y="501.78" width="8.45" height="5.79" fill="#b9b8c1"/>
<rect x="456.65" y="501.78" width="8.45" height="5.79" fill="#b9b8c1"/>
<rect x="466.10" y="501.78" width="8.45" height="5.79" fill="#b9b8c1"/>
<rect x="475.55" y="501.78" width="8.45" height="5.79" fill="#b9b8c1"/>
<rect x="485.00" y="501.78" width="8.45" height="5.79" fill="#b9b8c1"/>
<rect x="494.45" y="501.78" width="8.45" height="5.79" fill="#b9b8c1"/>
<rect x="503.90" y="501.78" width="8.45" height="5.79" fill="#b9b8c1"/>
<rect x="314.90" y="508.57" width="8.45" height="5.79" fill="#b9b8c1"/>
<rect x="324.35" y="508.57" width="8.45" height="5.79" fill="#b9b8c1"/>
<rect x="333.80" y="508.57" width="8.45" height="5.79" fill="#b9b8c1"/>
<rect x="343.25" y="508.57" width="8.45" height="5.79" fill="#b9b8c1"/>
<rect x="352.70" y="508.57" width="8.45" height="5.79" fill="#b9b8c1"/>
<rect x="362.15" y="508.57" width="8.45" height="5.79" fill="#b9b8c1"/>
<rect x="371.60" y="508.57" width="8.45" height="5.79" fill="#b9b8c1"/>
<rect x="381.05" y="508.57" width="8.45" height="5.79" fill="#b9b8c1"/>
<rect x="390.50" y="508.57" width="8.45" height="5.79" fill="#b9b8c1"/>
<rect x="399.95" y="508.57" width="8.45" height="5.79" fill="#b9b8c1"/>
<rect x="409.40" y="508.57" width="8.45" height="5.79" fill="#b9b8c1"/>
<rect x="418.85" y="508.57" width="8.45" height="5.79" fill="#b9b8c1"/>
<rect x="428.30" y="508.57" width="8.45" height="5.79" fill="#b9b8c1"/>
<rect x="437.75" y="508.57" width="8.45" height="5.79" fill="#b9b8c1"/>
<rect x="447.20" y="508.57" width="8.45" height="5.79" fill="#b9b8c1"/>
<rect x="456.65" y="508.57" width="8.45" height="5.79" fill="#b9b8c1"/>
<rect x="466.10" y="508.57" width="8.45" height="5.79" fill="#b9b8c1"/>
<rect x="475.55" y="508.57" width="8.45" height="5.79" fill="#b9b8c1"/>
<rect x="485.00" y="508.57" width="8.45" height="5.79" fill="#b9b8c1"/>
<rect x="494.45" y="508.57" width="8.45" height="5.79" fill="#b9b8c1"/>
<rect x="503.90" y="508.57" width="8.45" height="5.79" fill="#b9b8c1"/>
<rect x="314.90" y="515.37" width="8.45" height="5.79" fill="#b9b8c1"/>
<rect x="324.35" y="515.37" width="8.45" height="5.79" fill="#b9b8c1"/>
<rect x="333.80" y="515.37" width="8.45" height="5.79" fill="#b9b8c1"/>
<rect x="343.25" y="515.37" width="8.45" height="5.79" fill="#b9b8c1"/>
<rect x="352.70" y="515.37" width="8.45" height="5.79" fill="#b9b8c1"/>
<rect x="362.15" y="515.37" width="8.45" height="5.79" fill="#b9b8c1"/>
<rect x="371.60" y="515.37" width="8.45" height="5.79" fill="#b9b8c1"/>
<rect x="381.05" y="515.37" width="8.45" height="5.79" fill="#b9b8c1"/>
<rect x="390.50" y="515.37" width="8.45" height="5.79" fill="#b9b8c1"/>
<rect x="399.95" y="515.37" width="8.45" height="5.79" fill="#b9b8c1"/>
<rect x="409.40" y="515.37" width="8.45" height="5.79" fill="#b9b8c1"/>
<rect x="418.85" y="515.37" width="8.45" height="5.79" fill="#b9b8c1"/>
<rect x="428.30" y="515.37" width="8.45" height="5.79" fill="#b9b8c1"/>
<rect x="437.75" y="515.37" width="8.45" height="5.79" fill="#b9b8c1"/>
<rect x="447.20" y="515.37" width="8.45" height="5.79" fill="#b9b8c1"/>
<rect x="456.65" y="515.37" width="8.45" height="5.79" fill="#b9b8c1"/>
<rect x="466.10" y="515.37" width="8.45" height="5.79" fill="#b9b8c1"/>
<rect x="475.55" y="515.37" width="8.45" height="5.79" fill="#b9b8c1"/>
<rect x="485.00" y="515.37" width="8.45" height="5.79" fill="#b9b8c1"/>
<rect x="494.45" y="515.37" width="8.45" height="5.79" fill="#b9b8c1"/>
<rect x="503.90" y="515.37" width="8.45" height="5.79" fill="#b9b8c1"/>
<rect x="314.90" y="522.16" width="8.45" height="5.79" fill="#b9b8c1"/>
<rect x="324.35" y="522.16" width="8.45" height="5.79" fill="#b9b8c1"/>
<rect x="333.80" y="522.16" width="8.45" height="5.79" fill="#b9b8c1"/>
<rect x="343.25" y="522.16" width="8.45" height="5.79" fill="#b9b8c1"/>
<rect x="352.70" y="522.16" width="8.45" height="5.79" fill="#b9b8c1"/>
<rect x="362.15" y="522.16" width="8.45" height="5.79" fill="#b9b8c1"/>
<rect x="371.60" y="522.16" width="8.45" height="5.79" fill="#b9b8c1"/>
<rect x="381.05" y="522.16" width="8.45" height="5.79" fill="#b9b8c1"/>
<rect x="390.50" y="522.16" width="8.45" height="5.79" fill="#b9b8c1"/>
<rect x="399.95" y="522.16" width="8.45" height="5.79" fill="#b9b8c1"/>
<rect x="409.40" y="522.16" width="8.45" height="5.79" fill="#b9b8c1"/>
<rect x="418.85" y="522.16" width="8.45" height="5.79" fill="#b9b8c1"/>
<rect x="428.30" y="522.16" width="8.45" height="5.79" fill="#b9b8c1"/>
<rect x="437.75" y="522.16" width="8.45" height="5.79" fill="#b9b8c1"/>
<rect x="447.20" y="522.16" width="8.45" height="5.79" fill="#b9b8c1"/>
<rect x="456.65" y="522.16" width="8.45" height="5.79" fill="#b9b8c1"/>
<rect x="466.10" y="522.16" width="8.45" height="5.79" fill="#b9b8c1"/>
<rect x="475.55" y="522.16" width="8.45" height="5.79" fill="#b9b8c1"/>
<rect x="485.00" y="522.16" width="8.45" height="5.79" fill="#b9b8c1"/>
<rect x="494.45" y="522.16" width="8.45" height="5.79" fill="#b9b8c1"/>
<rect x="503.90" y="522.16" width="8.45" height="5.79" fill="#b9b8c1"/>
<rect x="314.90" y="528.96" width="8.45" height="5.79" fill="#b9b8c1"/>
<rect x="324.35" y="528.96" width="8.45" height="5.79" fill="#b9b8c1"/>
<rect x="333.80" y="528.96" width="8.45" height="5.79" fill="#b9b8c1"/>
<rect x="343.25" y="528.96" width="8.45" height="5.79" fill="#b9b8c1"/>
<rect x="352.70" y="528.96" width="8.45" height="5.79" fill="#b9b8c1"/>
<rect x="362.15" y="528.96" width="8.45" height="5.79" fill="#b9b8c1"/>
<rect x="371.60" y="528.96" width="8.45" height="5.79" fill="#b9b8c1"/>
<rect x="381.05" y="528.96" width="8.45" height="5.79" fill="#b9b8c1"/>
<rect x="390.50" y="528.96" width="8.45" height="5.79" fill="#b9b8c1"/>
<rect x="399.95" y="528.96" width="8.45" height="5.79" fill="#b9b8c1"/>
<rect x="409.40" y="528.96" width="8.45" height="5.79" fill="#b9b8c1"/>
<rect x="418.85" y="528.96" width="8.45" height="5.79" fill="#b9b8c1"/>
<rect x="428.30" y="528.96" width="8.45" height="5.79" fill="#b9b8c1"/>
<rect x="437.75" y="528.96" width="8.45" height="5.79" fill="#b9b8c1"/>
<rect x="447.20" y="528.96" width="8.45" height="5.79" fill="#b9b8c1"/>
<rect x="456.65" y="528.96" width="8.45" height="5.79" fill="#b9b8c1"/>
<rect x="466.10" y="528.96" width="8.45" height="5.79" fill="#b9b8c1"/>
<rect x="475.55" y="528.96" width="8.45" height="5.79" fill="#b9b8c1"/>
<rect x="485.00" y="528.96" width="8.45" height="5.79" fill="#b9b8c1"/>
<rect x="494.45" y="528.96" width="8.45" height="5.79" fill="#b9b8c1"/>
<rect x="503.90" y="528.96" width="8.45" height="5.79" fill="#b9b8c1"/>
<rect x="314.90" y="535.75" width="8.45" height="5.79" fill="#b9b8c1"/>
<rect x="324.35" y="535.75" width="8.45" height="5.79" fill="#b9b8c1"/>
<rect x="333.80" y="535.75" width="8.45" height="5.79" fill="#b9b8c1"/>
<rect x="343.25" y="535.75" width="8.45" height="5.79" fill="#b9b8c1"/>
<rect x="352.70" y="535.75" width="8.45" height="5.79" fill="#b9b8c1"/>
<rect x="362.15" y="535.75" width="8.45" height="5.79" fill="#b9b8c1"/>
<rect x="371.60" y="535.75" width="8.45" height="5.79" fill="#b9b8c1"/>
<rect x="381.05" y="535.75" width="8.45" height="5.79" fill="#b9b8c1"/>
<rect x="390.50" y="535.75" width="8.45" height="5.79" fill="#b9b8c1"/>
<rect x="399.95" y="535.75" width="8.45" height="5.79" fill="#b9b8c1"/>
<rect x="409.40" y="535.75" width="8.45" height="5.79" fill="#b9b8c1"/>
<rect x="418.85" y="535.75" width="8.45" height="5.79" fill="#b9b8c1"/>
<rect x="428.30" y="535.75" width="8.45" height="5.79" fill="#b9b8c1"/>
<rect x="437.75" y="535.75" width="8.45" height="5.79" fill="#b9b8c1"/>
<rect x="447.20" y="535.75" width="8.45" height="5.79" fill="#b9b8c1"/>
<rect x="456.65" y="535.75" width="8.45" height="5.79" fill="#b9b8c1"/>
<rect x="466.10" y="535.75" width="8.45" height="5.79" fill="#b9b8c1"/>
<rect x="475.55" y="535.75" width="8.45" height="5.79" fill="#b9b8c1"/>
<rect x="485.00" y="535.75" width="8.45" height="5.79" fill="#b9b8c1"/>
<rect x="494.45" y="535.75" width="8.45" height="5.79" fill="#b9b8c1"/>
<rect x="503.90" y="535.75" width="8.45" height="5.79" fill="#b9b8c1"/>
<rect x="314.90" y="542.55" width="8.45" height="5.79" fill="#b9b8c1"/>
<rect x="324.35" y="542.55" width="8.45" height="5.79" fill="#b9b8c1"/>
<rect x="333.80" y="542.55" width="8.45" height="5.79" fill="#b9b8c1"/>
<rect x="343.25" y="542.55" width="8.45" height="5.79" fill="#b9b8c1"/>
<rect x="352.70" y="542.55" width="8.45" height="5.79" fill="#b9b8c1"/>
<rect x="362.15" y="542.55" width="8.45" height="5.79" fill="#b9b8c1"/>
<rect x="371.60" y="542.55" width="8.45" height="5.79" fill="#b9b8c1"/>
<rect x="381.05" y="542.55" width="8.45" height="5.79" fill="#b9b8c1"/>
<rect x="390.50" y="542.55" width="8.45" height="5.79" fill="#b9b8c1"/>
<rect x="399.95" y="542.55" width="8.45" height="5.79" fill="#b9b8c1"/>
<rect x="409.40" y="542.55" width="8.45" height="5.79" fill="#b9b8c1"/>
<rect x="418.85" y="542.55" width="8.45" height="5.79" fill="#b9b8c1"/>
<rect x="428.30" y="542.55" width="8.45" height="5.79" fill="#b9b8c1"/>
<rect x="437.75" y="542.55" width="8.45" height="5.79" fill="#b9b8c1"/>
<rect x="447.20" y="542.55" width="8.45" height="5.79" fill="#b9b8c1"/>
<rect x="456.65" y="542.55" width="8.45" height="5.79" fill="#b9b8c1"/>
<rect x="466.10" y="542.55" width="8.45" height="5.79" fill="#b9b8c1"/>
<rect x="475.55" y="542.55" width="8.45" height="5.79" fill="#b9b8c1"/>
<rect x="485.00" y="542.55" width="8.45" height="5.79" fill="#b9b8c1"/>
<rect x="494.45" y="542.55" width="8.45" height="5.79" fill="#b9b8c1"/>
<rect x="503.90" y="542.55" width="8.45" height="5.79" fill="#b9b8c1"/>
<rect x="314.90" y="549.34" width="8.45" height="5.79" fill="#b9b8c1"/>
<rect x="324.35" y="549.34" width="8.45" height="5.79" fill="#b9b8c1"/>
<rect x="333.80" y="549.34" width="8.45" height="5.79" fill="#b9b8c1"/>
<rect x="343.25" y="549.34" width="8.45" height="5.79" fill="#b9b8c1"/>
<rect x="352.70" y="549.34" width="8.45" height="5.79" fill="#b9b8c1"/>
<rect x="362.15" y="549.34" width="8.45" height="5.79" fill="#b9b8c1"/>
<rect x="371.60" y="549.34" width="8.45" height="5.79" fill="#b9b8c1"/>
<rect x="381.05" y="549.34" width="8.45" height="5.79" fill="#b9b8c1"/>
<rect x="390.50" y="549.34" width="8.45" height="5.79" fill="#b9b8c1"/>
<rect x="399.95" y="549.34" width="8.45" height="5.79" fill="#b9b8c1"/>
<rect x="409.40" y="549.34" width="8.45" height="5.79" fill="#b9b8c1"/>
<rect x="418.85" y="549.34" width="8.45" height="5.79" fill="#b9b8c1"/>
<rect x="428.30" y="549.34" width="8.45" height="5.79" fill="#b9b8c1"/>
<rect x="437.75" y="549.34" width="8.45" height="5.79" fill="#b9b8c1"/>
<rect x="447.20" y="549.34" width="8.45" height="5.79" fill="#b9b8c1"/>
<rect x="456.65" y="549.34" width="8.45" height="5.79" fill="#b9b8c1"/>
<rect x="466.10" y="549.34" width="8.45" height="5.79" fill="#b9b8c1"/>
<rect x="475.55" y="549.34" width="8.45" height="5.79" fill="#b9b8c1"/>
<rect x="485.00" y="549.34" width="8.45" height="5.79" fill="#b9b8c1"/>
<rect x="494.45" y="549.34" width="8.45" height="5.79" fill="#b9b8c1"/>
<rect x="503.90" y="549.34" width="8.45" height="5.79" fill="#b9b8c1"/>
<rect x="314.90" y="556.13" width="8.45" height="5.79" fill="#b9b8c1"/>
<rect x="324.35" y="556.13" width="8.45" height="5.79" fill="#b9b8c1"/>
<rect x="333.80" y="556.13" width="8.45" height="5.79" fill="#b9b8c1"/>
<rect x="343.25" y="556.13" width="8.45" height="5.79" fill="#b9b8c1"/>
<rect x="352.70" y="556.13" width="8.45" height="5.79" fill="#b9b8c1"/>
<rect x="362.15" y="556.13" width="8.45" height="5.79" fill="#b9b8c1"/>
<rect x="371.60" y="556.13" width="8.45" height="5.79" fill="#b9b8c1"/>
<rect x="381.05" y="556.13" width="8.45" height="5.79" fill="#b9b8c1"/>
<rect x="390.50" y="556.13" width="8.45" height="5.79" fill="#b9b8c1"/>
<rect x="399.95" y="556.13" width="8.45" height="5.79" fill="#b9b8c1"/>
<rect x="409.40" y="556.13" width="8.45" height="5.79" fill="#b9b8c1"/>
<rect x="418.85" y="556.13" width="8.45" height="5.79" fill="#b9b8c1"/>
<rect x="428.30" y="556.13" width="8.45" height="5.79" fill="#b9b8c1"/>
<rect x="437.75" y="556.13" width="8.45" height="5.79" fill="#b9b8c1"/>
<rect x="447.20" y="556.13" width="8.45" height="5.79" fill="#b9b8c1"/>
<rect x="456.65" y="556.13" width="8.45" height="5.79" fill="#b9b8c1"/>
<rect x="466.10" y="556.13" width="8.45" height="5.79" fill="#b9b8c1"/>
<rect x="475.55" y="556.13" width="8.45" height="5.79" fill="#b9b8c1"/>
<rect x="485.00" y="556.13" width="8.45" height="5.79" fill="#b9b8c1"/>
<rect x="494.45" y="556.13" width="8.45" height="5.79" fill="#b9b8c1"/>
<rect x="503.90" y="556.13" width="8.45" height="5.79" fill="#b9b8c1"/>
<rect x="314.90" y="562.93" width="8.45" height="5.79" fill="#b9b8c1"/>
<rect x="324.35" y="562.93" width="8.45" height="5.79" fill="#b9b8c1"/>
<rect x="333.80" y="562.93" width="8.45" height="5.79" fill="#b9b8c1"/>
<rect x="343.25" y="562.93" width="8.45" height="5.79" fill="#b9b8c1"/>
<rect x="352.70" y="562.93" width="8.45" height="5.79" fill="#b9b8c1"/>
<rect x="362.15" y="562.93" width="8.45" height="5.79" fill="#b9b8c1"/>
<rect x="371.60" y="562.93" width="8.45" height="5.79" fill="#b9b8c1"/>
<rect x="381.05" y="562.93" width="8.45" height="5.79" fill="#b9b8c1"/>
<rect x="390.50" y="562.93" width="8.45" height="5.79" fill="#b9b8c1"/>
<rect x="399.95" y="562.93" width="8.45" height="5.79" fill="#b9b8c1"/>
<rect x="409.40" y="562.93" width="8.45" height="5.79" fill="#b9b8c1"/>
<rect x="418.85" y="562.93" width="8.45" height="5.79" fill="#b9b8c1"/>
<rect x="428.30" y="562.93" width="8.45" height="5.79" fill="#b9b8c1"/>
<rect x="437.75" y="562.93" width="8.45" height="5.79" fill="#b9b8c1"/>
<rect x="447.20" y="562.93" width="8.45" height="5.79" fill="#b9b8c1"/>
<rect x="456.65" y="562.93" width="8.45" height="5.79" fill="#b9b8c1"/>
<rect x="466.10" y="562.93" width="8.45" height="5.79" fill="#b9b8c1"/>
<rect x="475.55" y="562.93" width="8.45" height="5.79" fill="#b9b8c1"/>
<rect x="485.00" y="562.93" width="8.45" height="5.79" fill="#b9b8c1"/>
<rect x="494.45" y="562.93" width="8.45" height="5.79" fill="#b9b8c1"/>
<rect x="503.90" y="562.93" width="8.45" height="5.79" fill="#b9b8c1"/>
<rect x="314.90" y="569.73" width="8.45" height="5.79" fill="#b9b8c1"/>
<rect x="324.35" y="569.73" width="8.45" height="5.79" fill="#b9b8c1"/>
<rect x="333.80" y="569.73" width="8.45" height="5.79" fill="#b9b8c1"/>
<rect x="343.25" y="569.73" width="8.45" height="5.79" fill="#b9b8c1"/>
<rect x="352.70" y="569.73" width="8.45" height="5.79" fill="#b9b8c1"/>
<rect x="362.15" y="569.73" width="8.45" height="5.79" fill="#b9b8c1"/>
<rect x="371.60" y="569.73" width="8.45" height="5.79" fill="#b9b8c1"/>
<rect x="381.05" y="569.73" width="8.45" height="5.79" fill="#b9b8c1"/>
<rect x="390.50" y="569.73" width="8.45" height="5.79" fill="#b9b8c1"/>
<rect x="399.95" y="569.73" width="8.45" height="5.79" fill="#b9b8c1"/>
<rect x="409.40" y="569.73" width="8.45" height="5.79" fill="#b9b8c1"/>
<rect x="418.85" y="569.73" width="8.45" height="5.79" fill="#b9b8c1"/>
<rect x="428.30" y="569.73" width="8.45" height="5.79" fill="#b9b8c1"/>
<rect x="437.75" y="569.73" width="8.45" height="5.79" fill="#b9b8c1"/>
<rect x="447.20" y="569.73" width="8.45" height="5.79" fill="#b9b8c1"/>
<rect x="456.65" y="569.73" width="8.45" height="5.79" fill="#b9b8c1"/>
<rect x="466.10" y="569.73" width="8.45" height="5.79" fill="#b9b8c1"/>
<rect x="475.55" y="569.73" width="8.45" height="5.79" fill="#b9b8c1"/>
<rect x="485.00" y="569.73" width="8.45" height="5.79" fill="#b9b8c1"/>
<rect x="494.45" y="569.73" width="8.45" height="5.79" fill="#b9b8c1"/>
<rect x="503.90" y="569.73" width="8.45" height="5.79" fill="#b9b8c1"/>
<rect x="314.90" y="576.52" width="8.45" height="5.79" fill="#b9b8c1"/>
<rect x="324.35" y="576.52" width="8.45" height="5.79" fill="#b9b8c1"/>
<rect x="333.80" y="576.52" width="8.45" height="5.79" fill="#b9b8c1"/>
<rect x="343.25" y="576.52" width="8.45" height="5.79" fill="#b9b8c1"/>
<rect x="352.70" y="576.52" width="8.45" height="5.79" fill="#b9b8c1"/>
<rect x="362.15" y="576.52" width="8.45" height="5.79" fill="#b9b8c1"/>
<rect x="371.60" y="576.52" width="8.45" height="5.79" fill="#b9b8c1"/>
<rect x="381.05" y="576.52" width="8.45" height="5.79" fill="#b9b8c1"/>
<rect x="390.50" y="576.52" width="8.45" height="5.79" fill="#b9b8c1"/>
<rect x="399.95" y="576.52" width="8.45" height="5.79" fill="#b9b8c1"/>
<rect x="409.40" y="576.52" width="8.45" height="5.79" fill="#b9b8c1"/>
<rect x="418.85" y="576.52" width="8.45" height="5.79" fill="#b9b8c1"/>
<rect x="428.30" y="576.52" width="8.45" height="5.79" fill="#b9b8c1"/>
<rect x="437.75" y="576.52" width="8.45" height="5.79" fill="#b9b8c1"/>
<rect x="447.20" y="576.52" width="8.45" height="5.79" fill="#b9b8c1"/>
<rect x="456.65" y="576.52" width="8.45" height="5.79" fill="#b9b8c1"/>
<rect x="466.10" y="576.52" width="8.45" height="5.79" fill="#b9b8c1"/>
<rect x="475.55" y="576.52" width="8.45" height="5.79" fill="#b9b8c1"/>
<rect x="485.00" y="576.52" width="8.45" height="5.79" fill="#b9b8c1"/>
<rect x="494.45" y="576.52" width="8.45" height="5.79" fill="#b9b8c1"/>
<rect x="503.90" y="576.52" width="8.45" height="5.79" fill="#b9b8c1"/>
<rect x="314.90" y="583.32" width="8.45" height="5.79" fill="#b9b8c1"/>
<rect x="324.35" y="583.32" width="8.45" height="5.79" fill="#b9b8c1"/>
<rect x="333.80" y="583.32" width="8.45" height="5.79" fill="#b9b8c1"/>
<rect x="343.25" y="583.32" width="8.45" height="5.79" fill="#b9b8c1"/>
<rect x="352.70" y="583.32" width="8.45" height="5.79" fill="#b9b8c1"/>
<rect x="362.15" y="583.32" width="8.45" height="5.79" fill="#b9b8c1"/>
<rect x="371.60" y="583.32" width="8.45" height="5.79" fill="#b9b8c1"/>
<rect x="381.05" y="583.32" width="8.45" height="5.79" fill="#b9b8c1"/>
<rect x="390.50" y="583.32" width="8.45" height="5.79" fill="#b9b8c1"/>
<rect x="399.95" y="583.32" width="8.45" height="5.79" fill="#b9b8c1"/>
<rect x="409.40" y="583.32" width="8.45" height="5.79" fill="#b9b8c1"/>
<rect x="418.85" y="583.32" width="8.45" height="5.79" fill="#b9b8c1"/>
<rect x="428.30" y="583.32" width="8.45" height="5.79" fill="#b9b8c1"/>
<rect x="437.75" y="583.32" width="8.45" height="5.79" fill="#b9b8c1"/>
<rect x="447.20" y="583.32" width="8.45" height="5.79" fill="#b9b8c1"/>
<rect x="456.65" y="583.32" width="8.45" height="5.79" fill="#b9b8c1"/>
<rect x="466.10" y="583.32" width="8.45" height="5.79" fill="#b9b8c1"/>
<rect x="475.55" y="583.32" width="8.45" height="5.79" fill="#b9b8c1"/>
<rect x="485.00" y="583.32" width="8.45" height="5.79" fill="#b9b8c1"/>
<rect x="494.45" y="583.32" width="8.45" height="5.79" fill="#b9b8c1"/>
<rect x="503.90" y="583.32" width="8.45" height="5.79" fill="#b9b8c1"/>
<rect x="314.90" y="590.11" width="8.45" height="5.79" fill="#b9b8c1"/>
<rect x="324.35" y="590.11" width="8.45" height="5.79" fill="#b9b8c1"/>
<rect x="333.80" y="590.11" width="8.45" height="5.79" fill="#b9b8c1"/>
<rect x="343.25" y="590.11" width="8.45" height="5.79" fill="#b9b8c1"/>
<rect x="352.70" y="590.11" width="8.45" height="5.79" fill="#b9b8c1"/>
<rect x="362.15" y="590.11" width="8.45" height="5.79" fill="#b9b8c1"/>
<rect x="371.60" y="590.11" width="8.45" height="5.79" fill="#b9b8c1"/>
<rect x="381.05" y="590.11" width="8.45" height="5.79" fill="#b9b8c1"/>
<rect x="390.50" y="590.11" width="8.45" height="5.79" fill="#b9b8c1"/>
<rect x="399.95" y="590.11" width="8.45" height="5.79" fill="#b9b8c1"/>
<rect x="409.40" y="590.11" width="8.45" height="5.79" fill="#b9b8c1"/>
<rect x="418.85" y="590.11" width="8.45" height="5.79" fill="#b9b8c1"/>
<rect x="428.30" y="590.11" width="8.45" height="5.79" fill="#b9b8c1"/>
<rect x="437.75" y="590.11" width="8.45" height="5.79" fill="#b9b8c1"/>
<rect x="447.20" y="590.11" width="8.45" height="5.79" fill="#b9b8c1"/>
<rect x="456.65" y="590.11" width="8.45" height="5.79" fill="#b9b8c1"/>
<rect x="466.10" y="590.11" width="8.45" height="5.79" fill="#b9b8c1"/>
<rect x="475.55" y="590.11" width="8.45" height="5.79" fill="#b9b8c1"/>
<rect x="485.00" y="590.11" width="8.45" height="5.79" fill="#b9b8c1"/>
<rect x="494.45" y="590.11" width="8.45" height="5.79" fill="#b9b8c1"/>
<rect x="503.90" y="590.11" width="8.45" height="5.79" fill="#b9b8c1"/>
<rect x="314.90" y="596.90" width="8.45" height="5.79" fill="#b9b8c1"/>
<rect x="324.35" y="596.90" width="8.45" height="5.79" fill="#b9b8c1"/>
<rect x="333.80" y="596.90" width="8.45" height="5.79" fill="#b9b8c1"/>
<rect x="343.25" y="596.90" width="8.45" height="5.79" fill="#b9b8c1"/>
<rect x="352.70" y="596.90" width="8.45" height="5.79" fill="#b9b8c1"/>
<rect x="362.15" y="596.90" width="8.45" height="5.79" fill="#b9b8c1"/>
<rect x="371.60" y="596.90" width="8.45" height="5.79" fill="#b9b8c1"/>
<rect x="381.05" y="596.90" width="8.45" height="5.79" fill="#b9b8c1"/>
<rect x="390.50" y="596.90" width="8.45" height="5.79" fill="#b9b8c1"/>
<rect x="399.95" y="596.90" width="8.45" height="5.79" fill="#b9b8c1"/>
<rect x="409.40" y="596.90" width="8.45" height="5.79" fill="#b9b8c1"/>
<rect x="418.85" y="596.90" width="8.45" height="5.79" fill="#b9b8c1"/>
<rect x="428.30" y="596.90" width="8.45" height="5.79" fill="#b9b8c1"/>
<rect x="437.75" y="596.90" width="8.45" height="5.79" fill="#b9b8c1"/>
<rect x="447.20" y="596.90" width="8.45" height="5.79" fill="#b9b8c1"/>
<rect x="456.65" y="596.90" width="8.45" height="5.79" fill="#b9b8c1"/>
<rect x="466.10" y="596.90" width="8.45" height="5.79" fill="#b9b8c1"/>
<rect x="475.55" y="596.90" width="8.45" height="5.79" fill="#b9b8c1"/>
<rect x="485.00" y="596.90" width="8.45" height="5.79" fill="#b9b8c1"/>
<rect x="494.45" y="596.90" width="8.45" height="5.79" fill="#b9b8c1"/>
<rect x="503.90" y="596.90" width="8.45" height="5.79" fill="#b9b8c1"/>
<rect x="343.25" y="467.80" width="8.45" height="5.79" fill="#9c1430"/>
<circle cx="347.48" cy="470.70" r="0.9" fill="#fff"/>
<rect x="362.15" y="474.60" width="8.45" height="5.79" fill="#3a3e48"/>
<rect x="314.90" y="481.39" width="8.45" height="5.79" fill="#1c2c66"/>
<circle cx="319.12" cy="484.29" r="0.9" fill="#fff"/>
<rect x="362.15" y="481.39" width="8.45" height="5.79" fill="#5c9a3c"/>
<rect x="361.95" y="481.19" width="8.85" height="6.20" fill="none" stroke="#d98a2c" stroke-width="0.9"/>
<circle cx="366.38" cy="484.29" r="0.9" fill="#fff"/>
<rect x="381.05" y="481.39" width="8.45" height="5.79" fill="#1c2c66"/>
<circle cx="385.27" cy="484.29" r="0.9" fill="#fff"/>
<rect x="333.80" y="488.19" width="8.45" height="5.79" fill="#3a3e48"/>
<rect x="371.60" y="515.37" width="8.45" height="5.79" fill="#1c2c66"/>
<rect x="371.40" y="515.16" width="8.85" height="6.20" fill="none" stroke="#d98a2c" stroke-width="0.9"/>
<circle cx="375.82" cy="518.26" r="0.9" fill="#fff"/>
<rect x="333.80" y="522.16" width="8.45" height="5.79" fill="#3a3e48"/>
<rect x="352.70" y="528.96" width="8.45" height="5.79" fill="#1c2c66"/>
<circle cx="356.93" cy="531.85" r="0.9" fill="#fff"/>
<rect x="314.90" y="535.75" width="8.45" height="5.79" fill="#1c2c66"/>
<circle cx="319.12" cy="538.65" r="0.9" fill="#fff"/>
<rect x="381.05" y="556.13" width="8.45" height="5.79" fill="#1c2c66"/>
<circle cx="385.27" cy="559.03" r="0.9" fill="#fff"/>
<rect x="314.90" y="562.93" width="8.45" height="5.79" fill="#3a3e48"/>
<rect x="381.05" y="569.73" width="8.45" height="5.79" fill="#e6bb2a"/>
<circle cx="385.27" cy="572.62" r="0.9" fill="#111"/>
<rect x="371.60" y="583.32" width="8.45" height="5.79" fill="#1c2c66"/>
<rect x="371.40" y="583.12" width="8.85" height="6.20" fill="none" stroke="#d98a2c" stroke-width="0.9"/>
<circle cx="375.82" cy="586.21" r="0.9" fill="#fff"/>
<rect x="409.40" y="467.80" width="8.45" height="5.79" fill="#3a3e48"/>
<rect x="428.30" y="467.80" width="8.45" height="5.79" fill="#3a3e48"/>
<rect x="437.75" y="467.80" width="8.45" height="5.79" fill="#1c2c66"/>
<circle cx="441.98" cy="470.70" r="0.9" fill="#fff"/>
<rect x="390.50" y="474.60" width="8.45" height="5.79" fill="#1c2c66"/>
<circle cx="394.73" cy="477.49" r="0.9" fill="#fff"/>
<rect x="447.20" y="474.60" width="8.45" height="5.79" fill="#3a3e48"/>
<rect x="409.40" y="481.39" width="8.45" height="5.79" fill="#1c2c66"/>
<rect x="409.20" y="481.19" width="8.85" height="6.20" fill="none" stroke="#d98a2c" stroke-width="0.9"/>
<circle cx="413.62" cy="484.29" r="0.9" fill="#fff"/>
<rect x="428.30" y="481.39" width="8.45" height="5.79" fill="#1c2c66"/>
<circle cx="432.52" cy="484.29" r="0.9" fill="#fff"/>
<rect x="447.20" y="501.78" width="8.45" height="5.79" fill="#9c1430"/>
<circle cx="451.42" cy="504.67" r="0.9" fill="#fff"/>
<rect x="437.75" y="528.96" width="8.45" height="5.79" fill="#e6bb2a"/>
<circle cx="441.98" cy="531.85" r="0.9" fill="#111"/>
<rect x="418.85" y="549.34" width="8.45" height="5.79" fill="#c8802e"/>
<circle cx="423.07" cy="552.24" r="0.9" fill="#111"/>
<rect x="466.10" y="467.80" width="8.45" height="5.79" fill="#3a3e48"/>
<rect x="456.65" y="474.60" width="8.45" height="5.79" fill="#3a3e48"/>
<rect x="494.45" y="474.60" width="8.45" height="5.79" fill="#3a3e48"/>
<rect x="503.90" y="488.19" width="8.45" height="5.79" fill="#3a3e48"/>
<rect x="485.00" y="494.98" width="8.45" height="5.79" fill="#1c2c66"/>
<circle cx="489.23" cy="497.88" r="0.9" fill="#fff"/>
<rect x="503.90" y="494.98" width="8.45" height="5.79" fill="#c0127c"/>
<rect x="503.70" y="494.78" width="8.85" height="6.20" fill="none" stroke="#d98a2c" stroke-width="0.9"/>
<circle cx="508.12" cy="497.88" r="0.9" fill="#fff"/>
<rect x="503.90" y="501.78" width="8.45" height="5.79" fill="#c0127c"/>
<rect x="503.70" y="501.58" width="8.85" height="6.20" fill="none" stroke="#d98a2c" stroke-width="0.9"/>
<circle cx="508.12" cy="504.67" r="0.9" fill="#fff"/>
<rect x="503.90" y="508.57" width="8.45" height="5.79" fill="#3a3e48"/>
<rect x="494.45" y="515.37" width="8.45" height="5.79" fill="#3a3e48"/>
<rect x="485.00" y="522.16" width="8.45" height="5.79" fill="#1c2c66"/>
<rect x="484.80" y="521.96" width="8.85" height="6.20" fill="none" stroke="#d98a2c" stroke-width="0.9"/>
<circle cx="489.23" cy="525.06" r="0.9" fill="#fff"/>
<rect x="494.45" y="542.55" width="8.45" height="5.79" fill="#1c2c66"/>
<circle cx="498.67" cy="545.44" r="0.9" fill="#fff"/>
<rect x="485.00" y="549.34" width="8.45" height="5.79" fill="#1c2c66"/>
<rect x="484.80" y="549.14" width="8.85" height="6.20" fill="none" stroke="#d98a2c" stroke-width="0.9"/>
<circle cx="489.23" cy="552.24" r="0.9" fill="#fff"/>
<rect x="475.55" y="576.52" width="8.45" height="5.79" fill="#1c2c66"/>
<rect x="475.35" y="576.32" width="8.85" height="6.20" fill="none" stroke="#d98a2c" stroke-width="0.9"/>
<circle cx="479.77" cy="579.42" r="0.9" fill="#fff"/>
<rect x="475.55" y="590.11" width="8.45" height="5.79" fill="#1c2c66"/>
<rect x="475.35" y="589.91" width="8.85" height="6.20" fill="none" stroke="#d98a2c" stroke-width="0.9"/>
<circle cx="479.77" cy="593.01" r="0.9" fill="#fff"/>
<rect x="475.55" y="596.90" width="8.45" height="5.79" fill="#1c2c66"/>
<rect x="475.35" y="596.70" width="8.85" height="6.20" fill="none" stroke="#d98a2c" stroke-width="0.9"/>
<circle cx="479.77" cy="599.80" r="0.9" fill="#fff"/>
<line x1="390.00" y1="467.30" x2="390.00" y2="603.20" stroke="#1c1c1c" stroke-width="1.0"/>
<line x1="456.15" y1="467.30" x2="456.15" y2="603.20" stroke="#1c1c1c" stroke-width="1.0"/>
<rect x="314.40" y="467.30" width="198.45" height="135.90" fill="none" stroke="#1c1c1c" stroke-width="1.1"/>
<line x1="311.20" y1="470.70" x2="314.40" y2="470.70" stroke="#1c1c1c" stroke-width="0.9"/>
<text x="308.50" y="473.07" font-size="6.6" fill="#1e1e1e" text-anchor="end" font-style="italic" stroke="#1e1e1e" stroke-width="0.12">ASXL1</text>
<line x1="311.20" y1="477.49" x2="314.40" y2="477.49" stroke="#1c1c1c" stroke-width="0.9"/>
<text x="308.50" y="479.87" font-size="6.6" fill="#1e1e1e" text-anchor="end" font-style="italic" stroke="#1e1e1e" stroke-width="0.12">SETD1B</text>
<line x1="311.20" y1="484.29" x2="314.40" y2="484.29" stroke="#1c1c1c" stroke-width="0.9"/>
<text x="308.50" y="486.66" font-size="6.6" fill="#1e1e1e" text-anchor="end" font-style="italic" stroke="#1e1e1e" stroke-width="0.12">TET2</text>
<line x1="311.20" y1="491.08" x2="314.40" y2="491.08" stroke="#1c1c1c" stroke-width="0.9"/>
<text x="308.50" y="493.46" font-size="6.6" fill="#1e1e1e" text-anchor="end" font-style="italic" stroke="#1e1e1e" stroke-width="0.12">SETBP1</text>
<line x1="311.20" y1="497.88" x2="314.40" y2="497.88" stroke="#1c1c1c" stroke-width="0.9"/>
<text x="308.50" y="500.25" font-size="6.6" fill="#1e1e1e" text-anchor="end" font-style="italic" stroke="#1e1e1e" stroke-width="0.12">KMT2D</text>
<line x1="311.20" y1="504.67" x2="314.40" y2="504.67" stroke="#1c1c1c" stroke-width="0.9"/>
<text x="308.50" y="507.05" font-size="6.6" fill="#1e1e1e" text-anchor="end" font-style="italic" stroke="#1e1e1e" stroke-width="0.12">CBX4</text>
<line x1="311.20" y1="511.47" x2="314.40" y2="511.47" stroke="#1c1c1c" stroke-width="0.9"/>
<text x="308.50" y="513.84" font-size="6.6" fill="#1e1e1e" text-anchor="end" font-style="italic" stroke="#1e1e1e" stroke-width="0.12">IKZF1</text>
<line x1="311.20" y1="518.26" x2="314.40" y2="518.26" stroke="#1c1c1c" stroke-width="0.9"/>
<text x="308.50" y="520.64" font-size="6.6" fill="#1e1e1e" text-anchor="end" font-style="italic" stroke="#1e1e1e" stroke-width="0.12">KMT2E</text>
<line x1="311.20" y1="525.06" x2="314.40" y2="525.06" stroke="#1c1c1c" stroke-width="0.9"/>
<text x="308.50" y="527.43" font-size="6.6" fill="#1e1e1e" text-anchor="end" font-style="italic" stroke="#1e1e1e" stroke-width="0.12">CBLB</text>
<line x1="311.20" y1="531.85" x2="314.40" y2="531.85" stroke="#1c1c1c" stroke-width="0.9"/>
<text x="308.50" y="534.23" font-size="6.6" fill="#1e1e1e" text-anchor="end" font-style="italic" stroke="#1e1e1e" stroke-width="0.12">CREBBP</text>
<line x1="311.20" y1="538.65" x2="314.40" y2="538.65" stroke="#1c1c1c" stroke-width="0.9"/>
<text x="308.50" y="541.02" font-size="6.6" fill="#1e1e1e" text-anchor="end" font-style="italic" stroke="#1e1e1e" stroke-width="0.12">NBEAL2</text>
<line x1="311.20" y1="545.44" x2="314.40" y2="545.44" stroke="#1c1c1c" stroke-width="0.9"/>
<text x="308.50" y="547.82" font-size="6.6" fill="#1e1e1e" text-anchor="end" font-style="italic" stroke="#1e1e1e" stroke-width="0.12">EP300</text>
<line x1="311.20" y1="552.24" x2="314.40" y2="552.24" stroke="#1c1c1c" stroke-width="0.9"/>
<text x="308.50" y="554.61" font-size="6.6" fill="#1e1e1e" text-anchor="end" font-style="italic" stroke="#1e1e1e" stroke-width="0.12">CBX8</text>
<line x1="311.20" y1="559.03" x2="314.40" y2="559.03" stroke="#1c1c1c" stroke-width="0.9"/>
<text x="308.50" y="561.41" font-size="6.6" fill="#1e1e1e" text-anchor="end" font-style="italic" stroke="#1e1e1e" stroke-width="0.12">BCORL1</text>
<line x1="311.20" y1="565.83" x2="314.40" y2="565.83" stroke="#1c1c1c" stroke-width="0.9"/>
<text x="308.50" y="568.20" font-size="6.6" fill="#1e1e1e" text-anchor="end" font-style="italic" stroke="#1e1e1e" stroke-width="0.12">WT1</text>
<line x1="311.20" y1="572.62" x2="314.40" y2="572.62" stroke="#1c1c1c" stroke-width="0.9"/>
<text x="308.50" y="575.00" font-size="6.6" fill="#1e1e1e" text-anchor="end" font-style="italic" stroke="#1e1e1e" stroke-width="0.12">DNMT3A</text>
<line x1="311.20" y1="579.42" x2="314.40" y2="579.42" stroke="#1c1c1c" stroke-width="0.9"/>
<text x="308.50" y="581.79" font-size="6.6" fill="#1e1e1e" text-anchor="end" font-style="italic" stroke="#1e1e1e" stroke-width="0.12">SETD2</text>
<line x1="311.20" y1="586.21" x2="314.40" y2="586.21" stroke="#1c1c1c" stroke-width="0.9"/>
<text x="308.50" y="588.59" font-size="6.6" fill="#1e1e1e" text-anchor="end" font-style="italic" stroke="#1e1e1e" stroke-width="0.12">ZCCHC7</text>
<line x1="311.20" y1="593.01" x2="314.40" y2="593.01" stroke="#1c1c1c" stroke-width="0.9"/>
<text x="308.50" y="595.38" font-size="6.6" fill="#1e1e1e" text-anchor="end" font-style="italic" stroke="#1e1e1e" stroke-width="0.12">L3MBTL3</text>
<line x1="311.20" y1="599.80" x2="314.40" y2="599.80" stroke="#1c1c1c" stroke-width="0.9"/>
<text x="308.50" y="602.18" font-size="6.6" fill="#1e1e1e" text-anchor="end" font-style="italic" stroke="#1e1e1e" stroke-width="0.12">SFMBT2</text>
<line x1="319.12" y1="603.20" x2="319.12" y2="606.60" stroke="#1c1c1c" stroke-width="0.9"/>
<text x="322.73" y="613.20" font-size="6.6" fill="#1e1e1e" text-anchor="end" transform="rotate(-45 322.73 613.20)" stroke="#1e1e1e" stroke-width="0.1">P625</text>
<line x1="328.57" y1="603.20" x2="328.57" y2="606.60" stroke="#1c1c1c" stroke-width="0.9"/>
<text x="332.18" y="613.20" font-size="6.6" fill="#1e1e1e" text-anchor="end" transform="rotate(-45 332.18 613.20)" stroke="#1e1e1e" stroke-width="0.1">P631</text>
<line x1="338.02" y1="603.20" x2="338.02" y2="606.60" stroke="#1c1c1c" stroke-width="0.9"/>
<text x="341.62" y="613.20" font-size="6.6" fill="#1e1e1e" text-anchor="end" transform="rotate(-45 341.62 613.20)" stroke="#1e1e1e" stroke-width="0.1">P654</text>
<line x1="347.48" y1="603.20" x2="347.48" y2="606.60" stroke="#1c1c1c" stroke-width="0.9"/>
<text x="351.08" y="613.20" font-size="6.6" fill="#1e1e1e" text-anchor="end" transform="rotate(-45 351.08 613.20)" stroke="#1e1e1e" stroke-width="0.1">P677</text>
<line x1="356.93" y1="603.20" x2="356.93" y2="606.60" stroke="#1c1c1c" stroke-width="0.9"/>
<text x="360.53" y="613.20" font-size="6.6" fill="#1e1e1e" text-anchor="end" transform="rotate(-45 360.53 613.20)" stroke="#1e1e1e" stroke-width="0.1">P685</text>
<line x1="366.38" y1="603.20" x2="366.38" y2="606.60" stroke="#1c1c1c" stroke-width="0.9"/>
<text x="369.98" y="613.20" font-size="6.6" fill="#1e1e1e" text-anchor="end" transform="rotate(-45 369.98 613.20)" stroke="#1e1e1e" stroke-width="0.1">P713</text>
<line x1="375.82" y1="603.20" x2="375.82" y2="606.60" stroke="#1c1c1c" stroke-width="0.9"/>
<text x="379.43" y="613.20" font-size="6.6" fill="#1e1e1e" text-anchor="end" transform="rotate(-45 379.43 613.20)" stroke="#1e1e1e" stroke-width="0.1">P735</text>
<line x1="385.27" y1="603.20" x2="385.27" y2="606.60" stroke="#1c1c1c" stroke-width="0.9"/>
<text x="388.88" y="613.20" font-size="6.6" fill="#1e1e1e" text-anchor="end" transform="rotate(-45 388.88 613.20)" stroke="#1e1e1e" stroke-width="0.1">P742</text>
<line x1="394.73" y1="603.20" x2="394.73" y2="606.60" stroke="#1c1c1c" stroke-width="0.9"/>
<text x="398.33" y="613.20" font-size="6.6" fill="#1e1e1e" text-anchor="end" transform="rotate(-45 398.33 613.20)" stroke="#1e1e1e" stroke-width="0.1">P160</text>
<line x1="404.18" y1="603.20" x2="404.18" y2="606.60" stroke="#1c1c1c" stroke-width="0.9"/>
<text x="407.78" y="613.20" font-size="6.6" fill="#1e1e1e" text-anchor="end" transform="rotate(-45 407.78 613.20)" stroke="#1e1e1e" stroke-width="0.1">P170</text>
<line x1="413.62" y1="603.20" x2="413.62" y2="606.60" stroke="#1c1c1c" stroke-width="0.9"/>
<text x="417.23" y="613.20" font-size="6.6" fill="#1e1e1e" text-anchor="end" transform="rotate(-45 417.23 613.20)" stroke="#1e1e1e" stroke-width="0.1">P312</text>
<line x1="423.07" y1="603.20" x2="423.07" y2="606.60" stroke="#1c1c1c" stroke-width="0.9"/>
<text x="426.68" y="613.20" font-size="6.6" fill="#1e1e1e" text-anchor="end" transform="rotate(-45 426.68 613.20)" stroke="#1e1e1e" stroke-width="0.1">P387</text>
<line x1="432.52" y1="603.20" x2="432.52" y2="606.60" stroke="#1c1c1c" stroke-width="0.9"/>
<text x="436.12" y="613.20" font-size="6.6" fill="#1e1e1e" text-anchor="end" transform="rotate(-45 436.12 613.20)" stroke="#1e1e1e" stroke-width="0.1">P464</text>
<line x1="441.98" y1="603.20" x2="441.98" y2="606.60" stroke="#1c1c1c" stroke-width="0.9"/>
<text x="445.58" y="613.20" font-size="6.6" fill="#1e1e1e" text-anchor="end" transform="rotate(-45 445.58 613.20)" stroke="#1e1e1e" stroke-width="0.1">P489</text>
<line x1="451.42" y1="603.20" x2="451.42" y2="606.60" stroke="#1c1c1c" stroke-width="0.9"/>
<text x="455.02" y="613.20" font-size="6.6" fill="#1e1e1e" text-anchor="end" transform="rotate(-45 455.02 613.20)" stroke="#1e1e1e" stroke-width="0.1">P687</text>
<line x1="460.88" y1="603.20" x2="460.88" y2="606.60" stroke="#1c1c1c" stroke-width="0.9"/>
<text x="464.48" y="613.20" font-size="6.6" fill="#1e1e1e" text-anchor="end" transform="rotate(-45 464.48 613.20)" stroke="#1e1e1e" stroke-width="0.1">BM157</text>
<line x1="470.32" y1="603.20" x2="470.32" y2="606.60" stroke="#1c1c1c" stroke-width="0.9"/>
<text x="473.93" y="613.20" font-size="6.6" fill="#1e1e1e" text-anchor="end" transform="rotate(-45 473.93 613.20)" stroke="#1e1e1e" stroke-width="0.1">LEU9</text>
<line x1="479.77" y1="603.20" x2="479.77" y2="606.60" stroke="#1c1c1c" stroke-width="0.9"/>
<text x="483.38" y="613.20" font-size="6.6" fill="#1e1e1e" text-anchor="end" transform="rotate(-45 483.38 613.20)" stroke="#1e1e1e" stroke-width="0.1">P147</text>
<line x1="489.23" y1="603.20" x2="489.23" y2="606.60" stroke="#1c1c1c" stroke-width="0.9"/>
<text x="492.83" y="613.20" font-size="6.6" fill="#1e1e1e" text-anchor="end" transform="rotate(-45 492.83 613.20)" stroke="#1e1e1e" stroke-width="0.1">P309</text>
<line x1="498.67" y1="603.20" x2="498.67" y2="606.60" stroke="#1c1c1c" stroke-width="0.9"/>
<text x="502.27" y="613.20" font-size="6.6" fill="#1e1e1e" text-anchor="end" transform="rotate(-45 502.27 613.20)" stroke="#1e1e1e" stroke-width="0.1">P430</text>
<line x1="508.12" y1="603.20" x2="508.12" y2="606.60" stroke="#1c1c1c" stroke-width="0.9"/>
<text x="511.73" y="613.20" font-size="6.6" fill="#1e1e1e" text-anchor="end" transform="rotate(-45 511.73 613.20)" stroke="#1e1e1e" stroke-width="0.1">P605</text>
<rect x="348.80" y="633.45" width="4.60" height="4.60" fill="#5f9640"/>
<text x="357.00" y="638.35" font-size="7.4" fill="#333" textLength="13.00" lengthAdjust="spacingAndGlyphs">MKP</text>
<rect x="348.80" y="643.20" width="4.60" height="4.60" fill="#1e3258"/>
<text x="357.00" y="648.10" font-size="7.4" fill="#333" textLength="11.00" lengthAdjust="spacingAndGlyphs">ERP</text>
<rect x="348.80" y="652.95" width="4.60" height="4.60" fill="#64192a"/>
<text x="357.00" y="657.85" font-size="7.4" fill="#333" textLength="11.75" lengthAdjust="spacingAndGlyphs">HSC</text>
<rect x="348.80" y="662.70" width="4.60" height="4.60" fill="#c0813c"/>
<text x="357.00" y="667.60" font-size="7.4" fill="#333" textLength="13.00" lengthAdjust="spacingAndGlyphs">iNep</text>
<rect x="348.80" y="672.45" width="4.60" height="4.60" fill="#d7aa3c"/>
<text x="357.00" y="677.35" font-size="7.4" fill="#333" textLength="14.25" lengthAdjust="spacingAndGlyphs">iMKP</text>
<rect x="348.80" y="682.20" width="4.60" height="4.60" fill="#aa1478"/>
<text x="357.00" y="687.10" font-size="7.4" fill="#333" textLength="13.50" lengthAdjust="spacingAndGlyphs">Pre-B</text>
<rect x="348.80" y="691.95" width="4.60" height="4.60" fill="#32323c"/>
<text x="357.00" y="696.85" font-size="7.4" fill="#333" textLength="37.50" lengthAdjust="spacingAndGlyphs">Non-matched</text>
<text x="401.00" y="638.40" font-size="7.6" fill="#333" textLength="66.00" lengthAdjust="spacingAndGlyphs">Asterisk-expression of</text>
<text x="401.00" y="646.00" font-size="7.6" fill="#333" textLength="80.60" lengthAdjust="spacingAndGlyphs">mutations in HSPC clusters</text>
<rect x="401.6" y="649.7" width="9.4" height="6.2" fill="none" stroke="#cf8a2e" stroke-width="1.1"/>
<text x="411.00" y="654.60" font-size="7.6" fill="#333" textLength="43.40" lengthAdjust="spacingAndGlyphs">-expression of</text>
<text x="401.00" y="661.60" font-size="7.6" fill="#333" textLength="29.40" lengthAdjust="spacingAndGlyphs">mutations</text>
<text x="401.00" y="669.60" font-size="7.6" fill="#333" textLength="38.00" lengthAdjust="spacingAndGlyphs">in T/NK cells</text><rect x="0.5" y="0.5" width="519" height="704" fill="none" stroke="#555" stroke-width="1"/></svg></body></html>
